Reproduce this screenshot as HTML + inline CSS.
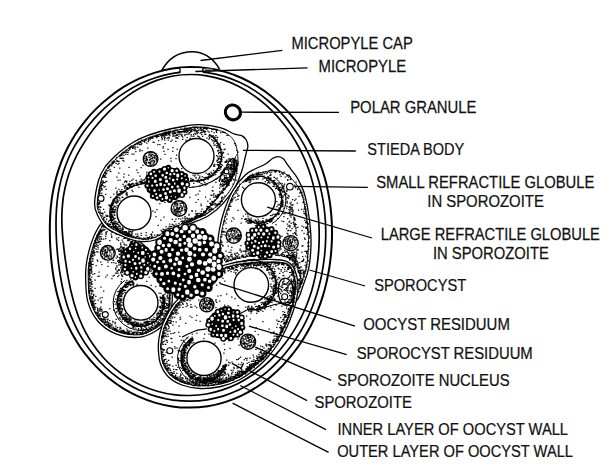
<!DOCTYPE html><html><head><meta charset="utf-8"><style>html,body{margin:0;padding:0;background:#fff;overflow:hidden}svg{display:block}</style></head><body><svg width="615" height="475" viewBox="0 0 615 475">
<rect width="615" height="475" fill="#fff"/>
<g fill="none" stroke="#000">
<path d="M49.9,237.0C49.8,232.1 49.8,227.2 49.9,222.3C50.1,217.3 50.3,212.4 50.8,207.4C51.3,202.4 51.9,197.4 52.8,192.4C53.7,187.4 54.8,182.4 56.2,177.4C57.6,172.4 59.2,167.5 61.0,162.6C62.9,157.6 65.1,152.8 67.5,148.0C70.0,143.3 72.7,138.6 75.6,134.0C78.6,129.5 81.9,125.0 85.3,120.8C88.8,116.5 92.6,112.3 96.6,108.4C100.6,104.5 104.8,100.7 109.3,97.2C113.7,93.6 118.4,90.3 123.3,87.2C128.2,84.2 133.3,81.4 138.6,78.9C143.9,76.5 149.4,74.3 155.1,72.6C160.7,70.9 166.5,69.5 172.3,68.5C178.1,67.6 184.1,67.1 190.0,67.0C195.9,67.0 201.9,67.4 207.8,68.2C213.6,69.0 219.4,70.2 225.1,71.9C230.8,73.5 236.3,75.6 241.7,78.0C247.0,80.4 252.2,83.2 257.1,86.2C262.1,89.3 266.8,92.6 271.3,96.2C275.8,99.8 280.0,103.6 284.0,107.6C288.0,111.6 291.7,115.8 295.2,120.2C298.7,124.5 301.9,129.0 304.9,133.6C307.8,138.2 310.5,142.9 312.9,147.7C315.4,152.5 317.6,157.3 319.5,162.2C321.4,167.2 323.1,172.1 324.5,177.1C326.0,182.1 327.1,187.1 328.1,192.1C329.1,197.1 329.9,202.1 330.5,207.1C331.1,212.1 331.5,217.1 331.8,222.1C332.0,227.1 332.0,232.0 332.0,237.0C331.9,242.0 331.6,246.9 331.2,251.8C330.8,256.8 330.2,261.7 329.5,266.6C328.7,271.6 327.8,276.5 326.7,281.4C325.6,286.3 324.3,291.2 322.8,296.1C321.3,301.0 319.6,305.9 317.7,310.7C315.7,315.5 313.6,320.3 311.2,325.0C308.8,329.8 306.1,334.4 303.3,339.0C300.4,343.6 297.3,348.1 293.9,352.4C290.5,356.8 286.9,361.0 283.1,365.1C279.2,369.1 275.0,373.1 270.7,376.7C266.3,380.4 261.6,383.9 256.8,387.0C251.9,390.2 246.8,393.1 241.5,395.6C236.2,398.1 230.7,400.3 225.1,402.1C219.5,403.9 213.6,405.3 207.8,406.2C201.9,407.1 195.9,407.6 190.0,407.6C184.1,407.7 178.1,407.3 172.2,406.4C166.3,405.6 160.5,404.3 154.8,402.6C149.1,400.9 143.6,398.8 138.2,396.4C132.9,394.0 127.7,391.2 122.7,388.1C117.8,385.0 113.1,381.6 108.6,378.0C104.1,374.4 99.9,370.5 96.0,366.4C92.0,362.4 88.4,358.0 85.0,353.6C81.6,349.2 78.5,344.6 75.7,339.9C72.8,335.3 70.3,330.4 68.0,325.6C65.8,320.8 63.8,315.8 62.0,310.9C60.3,305.9 58.8,300.9 57.5,296.0C56.2,291.0 55.2,286.1 54.2,281.1C53.3,276.2 52.6,271.2 52.0,266.3C51.4,261.4 50.9,256.5 50.6,251.7C50.2,246.8 50.0,241.9 49.9,237.0Z" stroke-width="2.0"/>
<path d="M56.3,237.0C56.1,232.3 56.0,227.6 56.0,222.9C56.0,218.2 56.2,213.4 56.5,208.6C56.9,203.8 57.4,199.0 58.1,194.2C58.9,189.3 59.9,184.5 61.1,179.6C62.4,174.8 63.9,170.0 65.7,165.2C67.5,160.5 69.5,155.8 71.9,151.2C74.2,146.6 76.8,142.0 79.7,137.7C82.5,133.3 85.7,129.0 89.0,124.8C92.4,120.7 96.0,116.7 99.8,112.9C103.6,109.0 107.7,105.3 112.0,101.9C116.3,98.4 120.8,95.1 125.5,92.1C130.2,89.1 135.1,86.3 140.2,83.8C145.3,81.4 150.7,79.2 156.1,77.5C161.5,75.7 167.1,74.3 172.8,73.3C178.4,72.3 184.3,71.7 190.0,71.7C195.7,71.6 201.6,71.9 207.3,72.7C213.0,73.5 218.6,74.8 224.1,76.4C229.6,78.1 235.0,80.2 240.2,82.6C245.3,85.0 250.3,87.8 255.1,90.9C259.8,94.0 264.3,97.4 268.5,101.0C272.8,104.5 276.8,108.4 280.5,112.4C284.3,116.3 287.8,120.5 291.0,124.8C294.3,129.1 297.3,133.5 300.0,137.9C302.8,142.4 305.3,147.0 307.6,151.6C309.8,156.2 311.9,160.9 313.7,165.6C315.5,170.3 317.1,175.1 318.4,179.8C319.8,184.6 321.0,189.4 321.9,194.1C322.9,198.9 323.6,203.7 324.2,208.5C324.8,213.2 325.2,218.0 325.5,222.8C325.7,227.5 325.8,232.3 325.7,237.0C325.6,241.7 325.4,246.5 325.0,251.2C324.6,255.9 324.0,260.6 323.3,265.3C322.6,270.1 321.7,274.8 320.7,279.5C319.6,284.2 318.4,288.9 317.0,293.5C315.5,298.2 313.9,302.9 312.1,307.5C310.3,312.1 308.3,316.7 306.0,321.3C303.8,325.8 301.3,330.4 298.6,334.8C295.9,339.2 292.9,343.5 289.7,347.8C286.5,352.0 283.1,356.1 279.4,360.1C275.7,364.0 271.8,367.8 267.6,371.4C263.4,374.9 258.9,378.3 254.2,381.3C249.6,384.4 244.7,387.2 239.6,389.6C234.5,392.0 229.2,394.2 223.8,395.9C218.3,397.5 212.7,398.9 207.1,399.8C201.5,400.7 195.7,401.1 190.0,401.2C184.3,401.2 178.5,400.8 172.9,400.1C167.2,399.3 161.6,398.0 156.1,396.4C150.7,394.9 145.3,392.8 140.1,390.5C135.0,388.2 130.0,385.5 125.2,382.5C120.4,379.6 115.9,376.3 111.6,372.8C107.3,369.3 103.3,365.5 99.5,361.5C95.8,357.6 92.3,353.4 89.1,349.1C85.9,344.8 83.0,340.3 80.4,335.7C77.8,331.1 75.4,326.4 73.4,321.7C71.3,317.0 69.5,312.2 67.9,307.5C66.3,302.7 65.0,297.9 63.8,293.2C62.7,288.4 61.7,283.7 60.9,279.0C60.0,274.2 59.3,269.6 58.7,264.9C58.1,260.2 57.6,255.6 57.2,250.9C56.8,246.3 56.5,241.7 56.3,237.0Z" stroke-width="1.7"/>
<path d="M62.7,237.0C62.4,232.6 62.0,228.1 61.9,223.5C61.8,219.0 61.8,214.4 62.1,209.8C62.4,205.2 62.8,200.5 63.5,195.9C64.3,191.3 65.2,186.6 66.5,182.0C67.7,177.4 69.2,172.8 71.0,168.3C72.7,163.8 74.8,159.3 77.0,154.9C79.3,150.5 81.8,146.2 84.5,142.0C87.2,137.8 90.1,133.6 93.2,129.5C96.4,125.5 99.7,121.5 103.3,117.6C106.8,113.7 110.6,109.9 114.6,106.4C118.6,102.8 122.8,99.3 127.3,96.1C131.7,92.9 136.5,89.9 141.4,87.3C146.3,84.7 151.4,82.3 156.7,80.4C162.0,78.6 167.5,77.0 173.1,76.0C178.6,75.0 184.4,74.5 190.0,74.5C195.6,74.4 201.4,74.9 206.9,75.8C212.5,76.7 218.1,78.1 223.4,79.9C228.7,81.7 233.9,83.9 238.9,86.5C243.9,89.0 248.7,91.9 253.2,95.1C257.7,98.2 262.0,101.6 266.1,105.2C270.1,108.8 273.9,112.7 277.5,116.6C281.0,120.5 284.3,124.7 287.4,128.8C290.4,133.0 293.3,137.4 295.8,141.7C298.4,146.1 300.7,150.6 302.8,155.1C304.9,159.5 306.7,164.1 308.4,168.7C310.0,173.2 311.4,177.8 312.6,182.4C313.8,187.0 314.8,191.6 315.7,196.2C316.6,200.7 317.2,205.3 317.7,209.8C318.3,214.4 318.6,218.9 318.9,223.5C319.1,228.0 319.2,232.5 319.2,237.0C319.2,241.5 319.0,246.0 318.7,250.5C318.4,255.0 317.9,259.5 317.3,264.1C316.7,268.6 315.9,273.1 315.0,277.6C314.0,282.1 312.9,286.6 311.6,291.1C310.2,295.6 308.7,300.1 306.9,304.5C305.2,308.9 303.2,313.4 301.1,317.7C298.9,322.0 296.5,326.4 293.9,330.6C291.3,334.8 288.5,339.0 285.4,343.0C282.4,347.0 279.1,351.0 275.6,354.8C272.1,358.6 268.3,362.3 264.3,365.8C260.3,369.2 256.1,372.5 251.7,375.5C247.2,378.5 242.5,381.3 237.7,383.7C232.8,386.1 227.7,388.2 222.5,389.9C217.3,391.7 211.9,393.0 206.5,394.0C201.1,394.9 195.5,395.4 190.0,395.5C184.5,395.6 178.9,395.3 173.4,394.6C168.0,393.9 162.5,392.7 157.2,391.2C151.9,389.7 146.7,387.8 141.7,385.5C136.8,383.3 131.9,380.7 127.3,377.8C122.7,374.9 118.4,371.6 114.3,368.2C110.2,364.7 106.3,360.9 102.8,357.0C99.3,353.1 96.0,348.9 93.1,344.6C90.1,340.4 87.5,335.9 85.1,331.4C82.8,326.9 80.8,322.3 78.9,317.7C77.1,313.1 75.6,308.4 74.2,303.8C72.9,299.2 71.8,294.6 70.7,290.1C69.7,285.6 68.9,281.1 68.0,276.6C67.2,272.2 66.5,267.8 65.9,263.4C65.2,259.0 64.6,254.6 64.1,250.2C63.6,245.8 63.1,241.4 62.7,237.0Z" stroke-width="1.7"/>
</g>
<path d="M161.7,70.7 C170,55 183,51.7 192.4,51.7 C202,51.7 213,57 219.5,69.3" fill="none" stroke="#000" stroke-width="1.6"/>
<rect x="180.6" y="68.3" width="22" height="4.9" fill="#fff"/>
<path d="M178.3,67.6 Q182.2,70 178.6,72.6" fill="none" stroke="#000" stroke-width="1.3"/>
<path d="M204.6,67.4 Q200.7,69.9 204.4,72.3" fill="none" stroke="#000" stroke-width="1.3"/>
<path d="M204.8,68.4 Q209,68.2 213,68.9 L212.6,71.6 Q208,71.6 204.8,71.9 Z" fill="#888"/>
<ellipse cx="232.9" cy="112.4" rx="7.7" ry="7.3" transform="rotate(35 232.9 112.4)" fill="#fff" stroke="#000" stroke-width="3.1"/>
<path d="M105.0,221.0C101.8,221.3 99.8,225.2 97.5,229.0C95.2,232.8 92.8,238.7 91.0,244.0C89.2,249.3 87.7,255.8 86.8,261.0C85.9,266.2 85.5,268.9 85.6,275.5C85.7,282.1 85.6,293.2 87.6,300.8C89.6,308.4 93.1,315.5 97.7,321.0C102.3,326.5 108.7,330.9 115.4,333.6C122.1,336.3 131.3,337.8 138.0,337.4C144.7,337.0 150.7,334.2 155.8,331.0C160.9,327.8 165.7,323.4 168.4,318.4C171.1,313.4 171.9,307.2 172.2,300.8C172.5,294.4 172.0,286.5 170.0,280.0C168.0,273.5 164.2,267.7 160.0,262.0C155.8,256.3 150.0,250.5 145.0,246.0C140.0,241.5 134.7,238.2 130.0,235.0C125.3,231.8 121.2,229.3 117.0,227.0C112.8,224.7 108.2,220.7 105.0,221.0Z" fill="#fff" stroke="#000" stroke-width="1.3"/>
<path d="M104.2 223.2h1.25M106.4 223.6h1.25M103.4 224.5h1.25M104.1 224.4h1.25M107.6 224.3h1.25M102.2 225.2h1.25M103.1 225.3h1.25M104.2 225.1h1.25M106.4 225.2h1.25M108.1 225.5h1.25M109.0 225.5h1.25M110.6 225.3h1.25M101.3 226.3h1.25M102.2 226.1h1.25M103.2 226.5h1.25M105.5 226.3h1.25M109.2 226.6h1.25M110.4 226.0h1.25M111.5 226.3h1.25M101.2 227.2h1.25M103.4 227.2h1.25M104.4 227.2h1.25M106.3 227.0h1.25M108.3 227.6h1.25M109.4 227.2h1.25M110.3 227.2h1.25M111.5 227.1h1.25M112.5 227.3h1.25M113.1 227.4h1.25M109.6 228.2h1.25M110.3 228.6h1.25M112.3 228.1h1.25M113.0 228.1h1.25M114.6 228.1h1.25M100.3 229.5h1.25M102.5 229.2h1.25M104.4 229.4h1.25M111.6 229.1h1.25M112.3 229.2h1.25M113.4 229.1h1.25M114.2 229.1h1.25M115.5 229.5h1.25M116.4 229.5h1.25M99.6 230.4h1.25M100.4 230.4h1.25M101.3 230.0h1.25M102.2 230.5h1.25M103.6 230.2h1.25M110.1 230.5h1.25M114.3 230.1h1.25M115.1 230.4h1.25M117.2 230.5h1.25M99.2 231.3h1.25M100.3 231.1h1.25M101.1 231.6h1.25M106.4 231.5h1.25M114.4 231.6h1.25M115.2 231.1h1.25M117.4 231.4h1.25M118.3 231.6h1.25M119.2 231.4h1.25M98.3 232.0h1.25M99.2 232.1h1.25M100.6 232.1h1.25M105.3 232.3h1.25M111.4 232.3h1.25M115.1 232.5h1.25M116.4 232.2h1.25M119.2 232.4h1.25M121.1 232.2h1.25M98.3 233.4h1.25M99.4 233.3h1.25M105.5 233.2h1.25M119.3 233.0h1.25M120.5 233.1h1.25M121.4 233.2h1.25M122.1 233.2h1.25M123.5 233.4h1.25M97.2 234.1h1.25M98.2 234.2h1.25M99.2 234.4h1.25M101.3 234.0h1.25M105.4 234.4h1.25M110.6 234.1h1.25M115.5 234.3h1.25M118.3 234.1h1.25M122.4 234.4h1.25M123.4 234.4h1.25M124.2 234.5h1.25M125.5 234.6h1.25M96.3 235.4h1.25M97.4 235.6h1.25M98.2 235.0h1.25M119.4 235.3h1.25M121.4 235.5h1.25M122.3 235.0h1.25M124.3 235.4h1.25M125.1 235.3h1.25M126.5 235.2h1.25M96.4 236.0h1.25M97.4 236.5h1.25M99.5 236.6h1.25M100.4 236.5h1.25M105.1 236.1h1.25M111.0 236.2h1.25M123.3 236.6h1.25M124.6 236.2h1.25M126.4 236.4h1.25M127.3 236.2h1.25M96.3 237.1h1.25M98.6 237.2h1.25M111.2 237.4h1.25M118.1 237.5h1.25M124.1 237.4h1.25M127.6 237.4h1.25M128.4 237.2h1.25M129.1 237.5h1.25M95.1 238.6h1.25M96.5 238.1h1.25M97.0 238.1h1.25M98.4 238.5h1.25M100.5 238.3h1.25M105.1 238.5h1.25M116.1 238.2h1.25M123.3 238.4h1.25M124.3 238.0h1.25M125.3 238.3h1.25M127.1 238.6h1.25M129.4 238.5h1.25M130.1 238.3h1.25M95.1 239.4h1.25M96.6 239.4h1.25M99.2 239.5h1.25M101.2 239.3h1.25M103.1 239.0h1.25M116.4 239.5h1.25M127.3 239.3h1.25M128.1 239.2h1.25M129.4 239.5h1.25M131.3 239.2h1.25M132.1 239.5h1.25M94.4 240.5h1.25M95.3 240.1h1.25M97.1 240.5h1.25M109.3 240.5h1.25M118.0 240.3h1.25M121.5 240.2h1.25M127.1 240.6h1.25M128.4 240.6h1.25M133.3 240.1h1.25M94.6 241.3h1.25M95.3 241.5h1.25M98.3 241.4h1.25M99.0 241.5h1.25M100.1 241.3h1.25M130.4 241.5h1.25M131.0 241.4h1.25M132.1 241.3h1.25M134.6 241.3h1.25M94.4 242.3h1.25M96.2 242.5h1.25M97.4 242.6h1.25M98.2 242.5h1.25M122.4 242.0h1.25M130.2 242.4h1.25M131.5 242.3h1.25M134.2 242.5h1.25M135.3 242.2h1.25M93.6 243.5h1.25M95.0 243.2h1.25M120.1 243.2h1.25M130.1 243.3h1.25M133.2 243.0h1.25M135.4 243.2h1.25M136.4 243.3h1.25M137.0 243.6h1.25M138.1 243.5h1.25M93.1 244.0h1.25M94.1 244.2h1.25M96.2 244.4h1.25M99.5 244.3h1.25M120.1 244.6h1.25M123.5 244.2h1.25M124.0 244.2h1.25M131.3 244.1h1.25M132.4 244.0h1.25M133.6 244.6h1.25M134.6 244.0h1.25M135.3 244.0h1.25M137.1 244.3h1.25M138.6 244.5h1.25M139.4 244.0h1.25M93.0 245.3h1.25M94.6 245.5h1.25M97.4 245.6h1.25M124.4 245.2h1.25M126.0 245.1h1.25M134.6 245.1h1.25M139.5 245.2h1.25M140.4 245.5h1.25M93.5 246.4h1.25M94.1 246.2h1.25M95.5 246.4h1.25M96.0 246.2h1.25M120.4 246.3h1.25M129.1 246.1h1.25M92.5 247.3h1.25M93.4 247.1h1.25M97.3 247.3h1.25M120.1 247.1h1.25M121.0 247.2h1.25M122.4 247.4h1.25M123.5 247.4h1.25M92.4 248.0h1.25M94.1 248.2h1.25M119.3 248.3h1.25M122.0 248.4h1.25M123.2 248.4h1.25M125.6 248.3h1.25M126.1 248.0h1.25M127.4 248.2h1.25M92.4 249.2h1.25M95.5 249.1h1.25M97.5 249.1h1.25M116.2 249.3h1.25M117.0 249.1h1.25M118.2 249.2h1.25M121.2 249.4h1.25M123.1 249.6h1.25M125.5 249.2h1.25M92.5 250.2h1.25M93.4 250.5h1.25M118.0 250.2h1.25M119.5 250.1h1.25M120.1 250.1h1.25M121.5 250.5h1.25M92.3 251.5h1.25M93.3 251.1h1.25M96.2 251.5h1.25M118.3 251.3h1.25M119.6 251.3h1.25M121.2 251.6h1.25M122.2 251.4h1.25M91.4 252.1h1.25M93.3 252.6h1.25M94.3 252.3h1.25M97.3 252.2h1.25M120.3 252.1h1.25M121.3 252.3h1.25M122.5 252.1h1.25M148.1 252.2h1.25M91.4 253.4h1.25M92.3 253.0h1.25M93.4 253.3h1.25M120.5 253.1h1.25M122.3 253.1h1.25M123.3 253.6h1.25M91.1 254.5h1.25M93.5 254.2h1.25M118.5 254.2h1.25M119.1 254.5h1.25M120.3 254.2h1.25M121.1 254.0h1.25M123.5 254.6h1.25M124.4 254.3h1.25M149.3 254.5h1.25M90.3 255.5h1.25M91.4 255.0h1.25M92.2 255.5h1.25M94.2 255.1h1.25M121.4 255.4h1.25M150.2 255.4h1.25M90.1 256.3h1.25M91.0 256.5h1.25M92.6 256.2h1.25M116.5 256.2h1.25M120.2 256.0h1.25M121.6 256.5h1.25M150.4 256.5h1.25M151.3 256.1h1.25M152.5 256.6h1.25M90.5 257.0h1.25M91.2 257.2h1.25M117.1 257.2h1.25M119.1 257.6h1.25M122.3 257.5h1.25M123.1 257.3h1.25M150.0 257.5h1.25M151.1 257.4h1.25M152.1 257.0h1.25M89.2 258.5h1.25M90.1 258.4h1.25M92.2 258.6h1.25M115.6 258.2h1.25M119.2 258.1h1.25M120.3 258.2h1.25M122.1 258.4h1.25M123.4 258.3h1.25M151.6 258.2h1.25M152.5 258.0h1.25M153.3 258.1h1.25M89.5 259.3h1.25M90.4 259.2h1.25M92.3 259.1h1.25M119.6 259.5h1.25M121.1 259.1h1.25M150.0 259.5h1.25M151.5 259.1h1.25M152.3 259.1h1.25M154.4 259.6h1.25M89.3 260.3h1.25M96.6 260.1h1.25M112.4 260.2h1.25M113.0 260.3h1.25M117.5 260.3h1.25M118.4 260.3h1.25M119.3 260.4h1.25M121.0 260.4h1.25M122.5 260.5h1.25M150.1 260.2h1.25M152.4 260.5h1.25M155.1 260.3h1.25M89.6 261.1h1.25M91.2 261.2h1.25M92.2 261.2h1.25M97.1 261.1h1.25M117.1 261.3h1.25M118.4 261.0h1.25M119.3 261.5h1.25M120.5 261.5h1.25M122.6 261.5h1.25M123.0 261.1h1.25M151.0 261.6h1.25M155.3 261.5h1.25M89.2 262.2h1.25M90.4 262.2h1.25M100.2 262.2h1.25M107.3 262.1h1.25M111.2 262.5h1.25M113.3 262.6h1.25M118.0 262.6h1.25M119.4 262.4h1.25M120.1 262.5h1.25M121.2 262.5h1.25M122.3 262.2h1.25M155.6 262.2h1.25M156.5 262.6h1.25M88.2 263.1h1.25M89.2 263.3h1.25M90.5 263.3h1.25M115.3 263.4h1.25M120.6 263.3h1.25M121.1 263.1h1.25M122.1 263.6h1.25M123.5 263.1h1.25M152.2 263.3h1.25M155.2 263.3h1.25M156.1 263.3h1.25M157.5 263.6h1.25M88.5 264.2h1.25M90.1 264.6h1.25M91.3 264.6h1.25M92.5 264.3h1.25M101.2 264.5h1.25M119.3 264.1h1.25M120.1 264.3h1.25M157.5 264.2h1.25M158.3 264.5h1.25M89.2 265.3h1.25M90.2 265.1h1.25M95.5 265.5h1.25M116.2 265.5h1.25M118.2 265.2h1.25M120.6 265.6h1.25M150.5 265.0h1.25M151.2 265.0h1.25M158.4 265.3h1.25M88.6 266.1h1.25M89.4 266.4h1.25M90.4 266.5h1.25M107.5 266.4h1.25M121.5 266.5h1.25M122.4 266.1h1.25M123.1 266.5h1.25M150.5 266.4h1.25M156.0 266.5h1.25M157.3 266.0h1.25M158.4 266.5h1.25M159.2 266.5h1.25M88.1 267.5h1.25M91.1 267.1h1.25M116.3 267.2h1.25M120.2 267.6h1.25M123.4 267.4h1.25M124.6 267.6h1.25M152.1 267.6h1.25M157.0 267.3h1.25M158.6 267.4h1.25M160.1 267.5h1.25M88.4 268.1h1.25M90.4 268.3h1.25M115.0 268.0h1.25M120.4 268.1h1.25M122.2 268.4h1.25M123.3 268.2h1.25M124.5 268.5h1.25M158.1 268.3h1.25M160.3 268.0h1.25M88.6 269.4h1.25M89.6 269.4h1.25M90.2 269.5h1.25M91.1 269.1h1.25M115.3 269.5h1.25M118.1 269.6h1.25M121.1 269.5h1.25M124.2 269.6h1.25M125.5 269.1h1.25M156.3 269.5h1.25M159.4 269.1h1.25M160.1 269.4h1.25M161.2 269.2h1.25M88.2 270.4h1.25M89.5 270.5h1.25M90.3 270.4h1.25M117.4 270.5h1.25M118.2 270.2h1.25M119.0 270.1h1.25M121.2 270.3h1.25M123.3 270.5h1.25M124.2 270.5h1.25M151.1 270.2h1.25M161.4 270.2h1.25M162.3 270.3h1.25M88.1 271.4h1.25M91.0 271.2h1.25M116.5 271.4h1.25M121.2 271.4h1.25M147.5 271.0h1.25M150.2 271.5h1.25M158.1 271.1h1.25M161.5 271.3h1.25M162.3 271.6h1.25M88.0 272.3h1.25M89.2 272.2h1.25M91.2 272.2h1.25M98.4 272.1h1.25M120.1 272.2h1.25M121.6 272.1h1.25M122.0 272.3h1.25M147.6 272.5h1.25M158.0 272.3h1.25M160.0 272.2h1.25M161.1 272.6h1.25M162.3 272.1h1.25M163.2 272.4h1.25M88.5 273.3h1.25M89.0 273.5h1.25M90.5 273.4h1.25M94.1 273.5h1.25M115.1 273.1h1.25M116.4 273.0h1.25M117.4 273.0h1.25M120.2 273.0h1.25M124.1 273.4h1.25M151.2 273.6h1.25M156.6 273.0h1.25M160.1 273.2h1.25M162.1 273.0h1.25M163.1 273.5h1.25M88.0 274.4h1.25M89.1 274.0h1.25M92.3 274.4h1.25M121.1 274.6h1.25M123.5 274.1h1.25M124.6 274.1h1.25M126.1 274.2h1.25M155.5 274.4h1.25M159.5 274.4h1.25M160.1 274.5h1.25M161.2 274.4h1.25M165.1 274.6h1.25M88.1 275.2h1.25M89.4 275.5h1.25M106.6 275.2h1.25M113.6 275.4h1.25M118.2 275.4h1.25M121.2 275.3h1.25M126.4 275.2h1.25M131.1 275.3h1.25M161.1 275.2h1.25M162.1 275.2h1.25M164.0 275.2h1.25M165.2 275.2h1.25M88.6 276.5h1.25M97.5 276.3h1.25M98.5 276.1h1.25M112.5 276.1h1.25M117.2 276.5h1.25M121.5 276.2h1.25M122.0 276.3h1.25M162.1 276.3h1.25M165.0 276.2h1.25M91.1 277.2h1.25M105.2 277.2h1.25M142.1 277.3h1.25M148.5 277.2h1.25M163.4 277.3h1.25M165.5 277.2h1.25M166.1 277.3h1.25M88.3 278.2h1.25M89.3 278.1h1.25M111.3 278.5h1.25M134.3 278.2h1.25M164.2 278.1h1.25M165.5 278.3h1.25M166.0 278.0h1.25M88.2 279.4h1.25M89.5 279.5h1.25M90.1 279.3h1.25M121.1 279.2h1.25M130.1 279.2h1.25M159.0 279.0h1.25M160.4 279.2h1.25M163.3 279.3h1.25M164.0 279.4h1.25M165.4 279.3h1.25M166.2 279.3h1.25M167.3 279.0h1.25M89.5 280.3h1.25M90.4 280.2h1.25M94.5 280.1h1.25M126.2 280.3h1.25M166.1 280.2h1.25M167.0 280.1h1.25M88.0 281.3h1.25M91.4 281.5h1.25M120.5 281.5h1.25M128.4 281.3h1.25M129.2 281.2h1.25M131.4 281.3h1.25M132.3 281.4h1.25M146.1 281.4h1.25M166.3 281.0h1.25M167.1 281.2h1.25M88.4 282.4h1.25M89.4 282.3h1.25M90.4 282.3h1.25M125.0 282.4h1.25M126.4 282.1h1.25M128.6 282.5h1.25M129.4 282.0h1.25M130.0 282.2h1.25M131.2 282.1h1.25M132.4 282.3h1.25M165.5 282.5h1.25M167.3 282.2h1.25M88.6 283.3h1.25M90.5 283.6h1.25M120.6 283.4h1.25M126.2 283.6h1.25M127.3 283.1h1.25M128.2 283.3h1.25M132.3 283.4h1.25M133.2 283.2h1.25M164.1 283.5h1.25M166.3 283.5h1.25M167.2 283.3h1.25M168.3 283.4h1.25M88.2 284.6h1.25M90.3 284.4h1.25M91.5 284.0h1.25M124.3 284.4h1.25M126.5 284.3h1.25M127.1 284.2h1.25M128.5 284.1h1.25M129.2 284.1h1.25M130.2 284.3h1.25M131.5 284.5h1.25M133.1 284.3h1.25M136.5 284.3h1.25M164.1 284.4h1.25M167.2 284.5h1.25M168.2 284.0h1.25M88.2 285.3h1.25M124.5 285.4h1.25M125.3 285.3h1.25M128.2 285.1h1.25M130.0 285.5h1.25M132.5 285.4h1.25M150.5 285.4h1.25M159.1 285.1h1.25M166.5 285.3h1.25M168.3 285.2h1.25M89.1 286.2h1.25M90.1 286.1h1.25M123.4 286.3h1.25M124.5 286.4h1.25M125.0 286.3h1.25M126.4 286.2h1.25M127.1 286.3h1.25M155.2 286.5h1.25M159.5 286.3h1.25M168.3 286.6h1.25M88.0 287.1h1.25M91.5 287.1h1.25M100.4 287.0h1.25M122.5 287.0h1.25M124.3 287.1h1.25M125.2 287.4h1.25M126.5 287.1h1.25M167.3 287.0h1.25M88.4 288.1h1.25M89.1 288.1h1.25M90.3 288.5h1.25M94.5 288.3h1.25M120.1 288.4h1.25M121.5 288.3h1.25M122.0 288.5h1.25M167.6 288.6h1.25M168.3 288.5h1.25M169.1 288.2h1.25M88.1 289.1h1.25M121.3 289.5h1.25M122.4 289.3h1.25M123.4 289.6h1.25M164.5 289.5h1.25M168.4 289.3h1.25M169.2 289.4h1.25M88.6 290.4h1.25M89.2 290.4h1.25M90.3 290.2h1.25M91.3 290.1h1.25M119.2 290.2h1.25M120.2 290.5h1.25M121.2 290.3h1.25M122.2 290.2h1.25M123.1 290.1h1.25M124.2 290.5h1.25M125.0 290.3h1.25M164.0 290.2h1.25M165.5 290.2h1.25M168.5 290.1h1.25M88.3 291.2h1.25M89.3 291.1h1.25M91.3 291.3h1.25M92.4 291.2h1.25M103.1 291.2h1.25M117.3 291.6h1.25M118.2 291.5h1.25M119.2 291.3h1.25M120.1 291.2h1.25M121.2 291.3h1.25M122.3 291.4h1.25M169.3 291.2h1.25M88.3 292.5h1.25M89.1 292.1h1.25M120.3 292.5h1.25M121.2 292.5h1.25M124.3 292.4h1.25M165.1 292.4h1.25M166.3 292.5h1.25M169.1 292.0h1.25M89.1 293.5h1.25M91.3 293.2h1.25M119.3 293.1h1.25M120.2 293.1h1.25M121.1 293.1h1.25M122.6 293.4h1.25M158.5 293.2h1.25M160.3 293.3h1.25M167.1 293.3h1.25M168.5 293.3h1.25M169.4 293.1h1.25M91.0 294.2h1.25M93.1 294.3h1.25M118.4 294.1h1.25M119.4 294.4h1.25M121.6 294.3h1.25M164.3 294.1h1.25M169.3 294.1h1.25M89.1 295.3h1.25M93.1 295.5h1.25M116.5 295.3h1.25M118.2 295.1h1.25M120.4 295.4h1.25M121.1 295.0h1.25M162.6 295.1h1.25M163.1 295.0h1.25M167.2 295.2h1.25M169.5 295.4h1.25M89.6 296.2h1.25M90.5 296.3h1.25M92.0 296.5h1.25M95.2 296.4h1.25M118.4 296.3h1.25M119.4 296.0h1.25M120.0 296.4h1.25M121.1 296.6h1.25M162.2 296.0h1.25M166.3 296.2h1.25M169.1 296.6h1.25M89.4 297.6h1.25M90.2 297.3h1.25M92.3 297.2h1.25M101.6 297.5h1.25M117.1 297.3h1.25M118.1 297.4h1.25M159.4 297.0h1.25M160.2 297.1h1.25M161.2 297.5h1.25M162.4 297.5h1.25M163.5 297.0h1.25M167.1 297.1h1.25M168.6 297.4h1.25M169.2 297.0h1.25M89.0 298.4h1.25M90.5 298.0h1.25M91.5 298.1h1.25M92.4 298.4h1.25M99.5 298.0h1.25M119.3 298.3h1.25M160.1 298.3h1.25M161.2 298.3h1.25M162.2 298.5h1.25M163.5 298.1h1.25M165.2 298.1h1.25M167.2 298.1h1.25M168.4 298.4h1.25M169.5 298.5h1.25M90.4 299.3h1.25M92.1 299.2h1.25M115.1 299.1h1.25M117.0 299.3h1.25M118.1 299.1h1.25M120.0 299.1h1.25M121.3 299.1h1.25M162.0 299.6h1.25M163.5 299.4h1.25M164.4 299.5h1.25M169.0 299.4h1.25M90.0 300.0h1.25M91.3 300.5h1.25M94.3 300.1h1.25M97.5 300.2h1.25M117.2 300.1h1.25M118.3 300.1h1.25M119.1 300.6h1.25M120.1 300.3h1.25M121.0 300.5h1.25M159.4 300.2h1.25M162.6 300.4h1.25M163.4 300.5h1.25M164.2 300.5h1.25M166.4 300.1h1.25M168.2 300.2h1.25M169.2 300.1h1.25M90.4 301.5h1.25M92.2 301.4h1.25M93.4 301.3h1.25M100.5 301.2h1.25M114.0 301.5h1.25M116.4 301.5h1.25M117.2 301.1h1.25M119.3 301.0h1.25M120.3 301.1h1.25M160.3 301.0h1.25M162.4 301.3h1.25M163.3 301.2h1.25M164.2 301.0h1.25M168.6 301.4h1.25M169.3 301.5h1.25M91.3 302.2h1.25M92.5 302.4h1.25M100.5 302.6h1.25M116.3 302.5h1.25M117.1 302.5h1.25M119.5 302.5h1.25M121.4 302.5h1.25M160.6 302.6h1.25M161.5 302.3h1.25M162.3 302.4h1.25M163.0 302.1h1.25M164.4 302.4h1.25M168.2 302.2h1.25M91.2 303.4h1.25M92.2 303.4h1.25M93.4 303.5h1.25M95.0 303.5h1.25M117.2 303.0h1.25M118.3 303.6h1.25M119.3 303.4h1.25M161.6 303.3h1.25M162.3 303.2h1.25M163.2 303.6h1.25M164.1 303.3h1.25M165.5 303.4h1.25M166.6 303.6h1.25M168.5 303.5h1.25M169.5 303.1h1.25M91.2 304.3h1.25M92.5 304.3h1.25M93.2 304.5h1.25M113.1 304.3h1.25M115.1 304.1h1.25M117.1 304.5h1.25M118.2 304.1h1.25M119.5 304.4h1.25M161.4 304.5h1.25M163.3 304.5h1.25M166.1 304.5h1.25M168.1 304.4h1.25M169.4 304.4h1.25M91.5 305.4h1.25M92.1 305.3h1.25M93.5 305.6h1.25M117.1 305.5h1.25M118.4 305.1h1.25M120.4 305.2h1.25M121.5 305.2h1.25M161.2 305.3h1.25M162.4 305.6h1.25M163.4 305.5h1.25M166.4 305.4h1.25M167.5 305.3h1.25M169.1 305.6h1.25M92.3 306.6h1.25M117.3 306.3h1.25M118.4 306.0h1.25M119.4 306.3h1.25M120.2 306.0h1.25M159.4 306.4h1.25M160.1 306.3h1.25M162.0 306.4h1.25M163.6 306.5h1.25M164.5 306.3h1.25M165.1 306.6h1.25M167.6 306.5h1.25M168.2 306.1h1.25M169.4 306.2h1.25M92.6 307.0h1.25M93.5 307.2h1.25M94.1 307.3h1.25M95.2 307.1h1.25M100.3 307.1h1.25M118.4 307.4h1.25M119.4 307.5h1.25M158.5 307.1h1.25M159.6 307.5h1.25M160.4 307.4h1.25M161.1 307.3h1.25M162.1 307.6h1.25M163.4 307.4h1.25M166.0 307.5h1.25M167.5 307.2h1.25M168.0 307.3h1.25M93.4 308.4h1.25M97.0 308.1h1.25M99.3 308.3h1.25M109.2 308.5h1.25M115.3 308.5h1.25M116.3 308.4h1.25M118.1 308.4h1.25M119.3 308.1h1.25M120.6 308.3h1.25M121.5 308.5h1.25M160.2 308.1h1.25M162.3 308.2h1.25M164.1 308.0h1.25M165.0 308.4h1.25M166.2 308.1h1.25M167.1 308.0h1.25M168.1 308.2h1.25M93.1 309.2h1.25M94.6 309.1h1.25M97.3 309.3h1.25M99.2 309.1h1.25M100.4 309.4h1.25M101.3 309.4h1.25M118.3 309.1h1.25M119.5 309.4h1.25M121.5 309.5h1.25M122.1 309.2h1.25M161.3 309.4h1.25M162.1 309.1h1.25M163.6 309.0h1.25M93.6 310.2h1.25M97.0 310.4h1.25M99.4 310.5h1.25M113.0 310.0h1.25M117.5 310.1h1.25M118.4 310.2h1.25M121.6 310.0h1.25M159.1 310.3h1.25M160.1 310.5h1.25M161.3 310.1h1.25M164.6 310.4h1.25M167.5 310.4h1.25M168.1 310.4h1.25M94.2 311.4h1.25M98.3 311.1h1.25M100.6 311.1h1.25M101.4 311.0h1.25M116.3 311.5h1.25M119.6 311.1h1.25M120.5 311.6h1.25M121.3 311.1h1.25M159.5 311.3h1.25M160.3 311.6h1.25M164.6 311.3h1.25M166.0 311.0h1.25M167.1 311.6h1.25M168.4 311.1h1.25M94.5 312.2h1.25M95.1 312.4h1.25M96.6 312.0h1.25M97.4 312.4h1.25M116.1 312.2h1.25M119.4 312.5h1.25M120.5 312.4h1.25M121.1 312.6h1.25M157.6 312.0h1.25M160.0 312.1h1.25M161.0 312.4h1.25M166.3 312.1h1.25M167.1 312.1h1.25M168.4 312.4h1.25M95.0 313.1h1.25M96.0 313.3h1.25M97.5 313.1h1.25M99.5 313.5h1.25M101.5 313.1h1.25M115.0 313.2h1.25M119.1 313.0h1.25M120.4 313.6h1.25M121.1 313.4h1.25M124.6 313.5h1.25M157.2 313.3h1.25M158.3 313.3h1.25M159.6 313.4h1.25M160.1 313.5h1.25M161.3 313.4h1.25M162.1 313.6h1.25M163.3 313.2h1.25M165.4 313.4h1.25M167.0 313.5h1.25M97.1 314.3h1.25M99.2 314.6h1.25M118.3 314.2h1.25M120.2 314.0h1.25M122.2 314.5h1.25M156.0 314.2h1.25M157.3 314.1h1.25M159.2 314.3h1.25M160.5 314.5h1.25M162.1 314.1h1.25M164.2 314.0h1.25M165.6 314.3h1.25M166.3 314.1h1.25M167.1 314.1h1.25M96.5 315.3h1.25M97.6 315.3h1.25M98.1 315.2h1.25M99.1 315.6h1.25M121.2 315.5h1.25M122.5 315.6h1.25M123.3 315.1h1.25M124.2 315.6h1.25M125.1 315.1h1.25M156.5 315.5h1.25M158.5 315.5h1.25M159.0 315.4h1.25M160.5 315.6h1.25M162.3 315.4h1.25M165.5 315.5h1.25M166.2 315.1h1.25M97.4 316.5h1.25M99.6 316.5h1.25M125.6 316.5h1.25M126.4 316.1h1.25M157.6 316.5h1.25M158.6 316.5h1.25M159.0 316.5h1.25M163.4 316.2h1.25M165.4 316.2h1.25M166.2 316.3h1.25M98.1 317.2h1.25M119.3 317.3h1.25M122.3 317.6h1.25M123.5 317.2h1.25M124.0 317.5h1.25M125.5 317.5h1.25M128.6 317.2h1.25M153.5 317.3h1.25M156.5 317.2h1.25M157.3 317.6h1.25M158.6 317.1h1.25M159.1 317.1h1.25M165.3 317.0h1.25M98.2 318.1h1.25M99.2 318.5h1.25M100.6 318.3h1.25M103.4 318.3h1.25M118.4 318.5h1.25M123.2 318.2h1.25M124.4 318.2h1.25M126.0 318.4h1.25M127.3 318.0h1.25M129.2 318.4h1.25M155.5 318.2h1.25M156.4 318.4h1.25M160.1 318.0h1.25M161.5 318.6h1.25M163.4 318.6h1.25M164.0 318.2h1.25M165.5 318.3h1.25M99.4 319.4h1.25M101.2 319.2h1.25M102.2 319.2h1.25M103.4 319.6h1.25M104.5 319.3h1.25M106.5 319.3h1.25M107.5 319.1h1.25M115.6 319.3h1.25M120.1 319.2h1.25M122.0 319.2h1.25M124.6 319.3h1.25M125.2 319.2h1.25M126.1 319.0h1.25M127.3 319.6h1.25M128.1 319.2h1.25M129.4 319.3h1.25M130.5 319.0h1.25M149.2 319.2h1.25M151.1 319.4h1.25M152.4 319.2h1.25M153.5 319.6h1.25M154.1 319.5h1.25M156.2 319.3h1.25M157.0 319.1h1.25M159.2 319.5h1.25M162.3 319.4h1.25M163.1 319.3h1.25M164.2 319.4h1.25M100.0 320.2h1.25M101.0 320.4h1.25M102.4 320.0h1.25M104.6 320.3h1.25M109.1 320.5h1.25M125.3 320.2h1.25M126.0 320.0h1.25M127.2 320.0h1.25M129.0 320.5h1.25M130.5 320.2h1.25M155.4 320.4h1.25M158.4 320.0h1.25M160.3 320.0h1.25M162.5 320.4h1.25M163.1 320.1h1.25M101.2 321.1h1.25M102.4 321.6h1.25M103.2 321.6h1.25M105.2 321.3h1.25M107.0 321.0h1.25M112.1 321.3h1.25M121.3 321.1h1.25M124.3 321.3h1.25M126.1 321.5h1.25M127.4 321.5h1.25M128.1 321.0h1.25M129.3 321.4h1.25M134.3 321.1h1.25M145.4 321.4h1.25M146.0 321.4h1.25M147.0 321.1h1.25M148.2 321.6h1.25M149.2 321.4h1.25M150.5 321.2h1.25M151.4 321.2h1.25M152.6 321.2h1.25M153.3 321.3h1.25M154.3 321.5h1.25M155.2 321.5h1.25M157.6 321.5h1.25M162.3 321.1h1.25M163.0 321.5h1.25M103.6 322.0h1.25M104.3 322.3h1.25M105.2 322.1h1.25M106.5 322.4h1.25M108.1 322.5h1.25M112.4 322.1h1.25M114.5 322.4h1.25M126.6 322.5h1.25M129.3 322.1h1.25M130.4 322.0h1.25M131.4 322.5h1.25M132.3 322.1h1.25M133.2 322.5h1.25M134.4 322.1h1.25M136.2 322.3h1.25M143.5 322.1h1.25M144.2 322.3h1.25M145.4 322.3h1.25M146.3 322.3h1.25M147.4 322.0h1.25M151.0 322.6h1.25M152.4 322.3h1.25M153.4 322.2h1.25M155.6 322.2h1.25M156.0 322.1h1.25M158.5 322.5h1.25M161.5 322.0h1.25M162.0 322.5h1.25M104.1 323.1h1.25M107.6 323.5h1.25M109.5 323.6h1.25M114.5 323.5h1.25M130.3 323.2h1.25M131.4 323.4h1.25M132.2 323.3h1.25M135.4 323.3h1.25M136.0 323.5h1.25M137.4 323.1h1.25M138.1 323.1h1.25M140.2 323.2h1.25M142.5 323.5h1.25M144.3 323.6h1.25M146.3 323.3h1.25M147.1 323.4h1.25M148.1 323.4h1.25M149.5 323.4h1.25M151.3 323.6h1.25M154.0 323.5h1.25M157.2 323.1h1.25M159.4 323.5h1.25M160.6 323.4h1.25M161.4 323.6h1.25M104.5 324.4h1.25M105.4 324.5h1.25M106.3 324.0h1.25M107.3 324.1h1.25M108.0 324.4h1.25M111.3 324.3h1.25M127.5 324.3h1.25M131.2 324.3h1.25M132.1 324.1h1.25M133.5 324.0h1.25M134.0 324.3h1.25M135.2 324.4h1.25M136.3 324.4h1.25M137.6 324.3h1.25M139.5 324.5h1.25M140.4 324.2h1.25M141.3 324.6h1.25M142.4 324.6h1.25M145.3 324.1h1.25M146.6 324.4h1.25M147.5 324.3h1.25M148.1 324.4h1.25M149.1 324.1h1.25M151.4 324.3h1.25M156.5 324.4h1.25M157.3 324.2h1.25M158.0 324.1h1.25M159.3 324.6h1.25M160.3 324.0h1.25M105.5 325.4h1.25M107.4 325.4h1.25M108.5 325.5h1.25M109.5 325.1h1.25M111.2 325.1h1.25M131.5 325.2h1.25M132.3 325.2h1.25M133.4 325.0h1.25M134.1 325.2h1.25M135.0 325.3h1.25M136.5 325.1h1.25M137.3 325.6h1.25M138.2 325.3h1.25M139.1 325.2h1.25M140.1 325.3h1.25M141.5 325.2h1.25M142.2 325.1h1.25M143.5 325.6h1.25M144.1 325.4h1.25M145.5 325.3h1.25M146.4 325.4h1.25M152.2 325.3h1.25M154.5 325.3h1.25M155.5 325.3h1.25M157.1 325.4h1.25M158.2 325.5h1.25M159.2 325.5h1.25M107.4 326.3h1.25M108.2 326.3h1.25M109.1 326.3h1.25M110.1 326.2h1.25M115.2 326.0h1.25M132.3 326.1h1.25M133.6 326.5h1.25M135.3 326.2h1.25M136.4 326.3h1.25M137.3 326.3h1.25M138.1 326.1h1.25M143.6 326.2h1.25M145.4 326.1h1.25M151.2 326.4h1.25M155.1 326.2h1.25M156.1 326.4h1.25M157.1 326.3h1.25M108.5 327.4h1.25M109.2 327.6h1.25M111.2 327.1h1.25M112.6 327.1h1.25M117.0 327.6h1.25M119.5 327.3h1.25M132.3 327.4h1.25M140.2 327.1h1.25M141.0 327.2h1.25M144.5 327.4h1.25M148.3 327.1h1.25M150.6 327.0h1.25M151.4 327.5h1.25M154.5 327.4h1.25M155.1 327.2h1.25M156.6 327.1h1.25M110.0 328.3h1.25M112.3 328.5h1.25M113.4 328.0h1.25M114.2 328.5h1.25M115.4 328.1h1.25M120.2 328.4h1.25M130.6 328.3h1.25M133.1 328.1h1.25M135.2 328.1h1.25M138.0 328.4h1.25M141.1 328.4h1.25M145.6 328.5h1.25M146.1 328.0h1.25M149.3 328.1h1.25M152.5 328.4h1.25M153.1 328.1h1.25M154.2 328.3h1.25M155.2 328.1h1.25M113.6 329.5h1.25M114.4 329.6h1.25M115.2 329.1h1.25M116.2 329.5h1.25M119.1 329.0h1.25M126.2 329.1h1.25M140.5 329.2h1.25M142.6 329.0h1.25M144.4 329.6h1.25M147.1 329.5h1.25M149.2 329.0h1.25M150.3 329.6h1.25M151.1 329.3h1.25M153.0 329.2h1.25M114.0 330.0h1.25M115.2 330.4h1.25M116.1 330.5h1.25M117.2 330.3h1.25M120.5 330.4h1.25M121.3 330.3h1.25M123.1 330.4h1.25M127.0 330.5h1.25M137.5 330.0h1.25M138.2 330.3h1.25M140.1 330.3h1.25M141.1 330.3h1.25M142.6 330.3h1.25M144.2 330.3h1.25M146.4 330.2h1.25M147.1 330.4h1.25M148.0 330.1h1.25M150.3 330.1h1.25M151.2 330.3h1.25M116.1 331.4h1.25M117.3 331.1h1.25M118.3 331.2h1.25M119.0 331.4h1.25M120.4 331.3h1.25M121.1 331.1h1.25M122.2 331.0h1.25M123.5 331.1h1.25M127.6 331.2h1.25M129.1 331.1h1.25M130.6 331.0h1.25M142.3 331.5h1.25M145.1 331.4h1.25M147.5 331.1h1.25M148.4 331.4h1.25M149.2 331.1h1.25M119.3 332.1h1.25M120.6 332.5h1.25M121.5 332.6h1.25M122.0 332.2h1.25M123.4 332.2h1.25M124.4 332.3h1.25M125.1 332.1h1.25M126.1 332.1h1.25M127.5 332.5h1.25M128.5 332.4h1.25M132.2 332.4h1.25M133.3 332.0h1.25M134.3 332.0h1.25M135.2 332.1h1.25M136.6 332.2h1.25M137.1 332.2h1.25M138.0 332.3h1.25M139.5 332.6h1.25M140.1 332.3h1.25M142.0 332.5h1.25M144.4 332.3h1.25M145.4 332.3h1.25M146.4 332.1h1.25M147.1 332.4h1.25M123.1 333.2h1.25M124.2 333.5h1.25M125.1 333.1h1.25M126.5 333.1h1.25M127.2 333.2h1.25M128.3 333.1h1.25M129.1 333.3h1.25M131.4 333.2h1.25M132.5 333.6h1.25M133.3 333.0h1.25M135.6 333.2h1.25M136.2 333.0h1.25M139.3 333.1h1.25M140.4 333.4h1.25M141.3 333.0h1.25M142.1 333.1h1.25M143.6 333.3h1.25M144.1 333.2h1.25M145.6 333.4h1.25M127.3 334.1h1.25M128.3 334.3h1.25M129.2 334.1h1.25M130.1 334.0h1.25M131.1 334.4h1.25M132.4 334.4h1.25M133.4 334.3h1.25M135.6 334.1h1.25M136.5 334.4h1.25M137.4 334.0h1.25M139.1 334.6h1.25M140.2 334.0h1.25M141.2 334.5h1.25M142.4 334.0h1.25" stroke="#000" stroke-width="1.25" fill="none"/>
<path d="M105.2,223.6L104.9,223.7L104.6,223.8L104.3,224.0L103.9,224.3L103.4,224.8L102.9,225.3L102.4,226.0L101.9,226.7L101.4,227.6L100.9,228.4L100.3,229.4L99.7,230.3L99.2,231.3L98.6,232.3L98.1,233.4L97.5,234.5L97.0,235.7L96.4,237.0L95.9,238.2L95.4,239.5L94.9,240.9L94.4,242.2L93.9,243.5L93.5,244.8L93.0,246.1L92.6,247.5L92.2,248.9L91.8,250.3L91.5,251.7L91.1,253.1L90.8,254.6L90.4,256.0L90.1,257.4L89.9,258.8L89.6,260.1L89.4,261.4L89.1,262.7L89.0,263.9L88.8,264.9L88.6,266.0L88.5,267.0L88.4,268.0L88.3,269.0L88.2,270.1L88.2,271.2L88.2,272.5L88.2,273.9L88.2,275.5L88.2,277.2L88.3,279.1L88.3,281.1L88.3,283.3L88.4,285.4L88.5,287.7L88.6,289.9L88.8,292.1L89.0,294.3L89.3,296.3L89.7,298.3L90.1,300.1L90.6,301.9L91.2,303.7L91.8,305.5L92.5,307.2L93.2,308.9L94.0,310.5L94.8,312.1L95.7,313.7L96.6,315.2L97.6,316.6L98.6,318.0L99.7,319.3L100.8,320.6L102.0,321.8L103.2,323.0L104.5,324.1L105.9,325.2L107.3,326.2L108.7,327.2L110.2,328.1L111.7,329.0L113.2,329.8L114.8,330.5L116.4,331.2L118.0,331.8L119.7,332.4L121.5,332.9L123.3,333.4L125.2,333.8L127.1,334.1L129.0,334.4L130.9,334.6L132.7,334.8L134.5,334.9L136.2,334.9L137.8,334.8L139.4,334.7L140.8,334.4L142.3,334.1L143.8,333.8L145.2,333.3L146.6,332.8L148.0,332.2L149.3,331.6L150.6,331.0L151.9,330.3L153.2,329.5L154.4,328.8L155.6,328.0L156.8,327.2L157.9,326.4L159.0,325.5L160.1,324.5L161.2,323.5L162.1,322.5L163.1,321.5L163.9,320.4L164.7,319.4L165.5,318.3L166.1,317.2L166.7,316.0L167.2,314.8L167.6,313.6L168.0,312.3L168.4,311.0L168.7,309.6L168.9,308.2L169.1,306.8L169.3,305.3L169.4,303.8L169.5,302.2L169.6,300.7L169.7,299.1L169.7,297.5L169.7,295.8L169.6,294.1L169.5,292.4L169.4,290.7L169.2,288.9L169.0,287.2L168.7,285.5L168.3,283.9L168.0,282.3L167.5,280.8L167.0,279.3L166.4,277.8L165.8,276.3L165.1,274.9L164.4,273.4L163.5,272.0L162.7,270.6L161.8,269.2L160.9,267.7L159.9,266.3L158.9,264.9L157.9,263.5L156.9,262.2L155.8,260.8L154.6,259.4L153.4,258.1L152.2,256.7L150.9,255.4L149.6,254.0L148.4,252.7L147.1,251.5L145.8,250.2L144.5,249.1L143.3,247.9L142.1,246.9L140.8,245.9L139.6,244.9L138.4,243.9L137.1,243.0L135.9,242.1L134.6,241.3L133.4,240.4L132.2,239.6L130.9,238.8L129.7,238.0L128.5,237.2L127.4,236.4L126.3,235.6L125.2,234.9L124.1,234.2L123.0,233.6L122.0,232.9L120.9,232.3L119.9,231.6L118.8,231.0L117.8,230.4L116.8,229.8L115.7,229.3L114.6,228.6L113.5,227.9L112.4,227.2L111.3,226.5L110.3,225.8L109.3,225.2L108.4,224.7L107.5,224.2L106.7,223.9L106.1,223.7L105.6,223.6Z" fill="none" stroke="#000" stroke-width="1.0"/>
<circle cx="140.7" cy="302.8" r="17.3" fill="#fff" stroke="#000" stroke-width="1.4"/>
<path d="M162.8,294.8A23.5,23.5 0 1,1 132.7,280.7" fill="none" stroke="#000" stroke-width="1.4"/>
<path d="M166.5,312.2A27.5,27.5 0 1,1 124.9,280.3" fill="none" stroke="#000" stroke-width="1.0"/>
<circle cx="105.3" cy="314.6" r="3" fill="#fff" stroke="#000" stroke-width="1.1"/>
<circle cx="107.8" cy="252.8" r="8" fill="#000"/><circle cx="107.8" cy="252.8" r="6.60" fill="#fff"/><path d="M106.1 246.4h1.1M104.3 247.0h1.1M105.2 247.1h1.1M106.2 247.0h1.1M107.2 247.3h1.1M109.4 247.3h1.1M111.3 247.4h1.1M103.3 248.4h1.1M107.3 248.3h1.1M108.3 248.3h1.1M111.2 248.0h1.1M112.1 248.1h1.1M102.3 249.0h1.1M103.3 249.1h1.1M105.3 249.3h1.1M107.1 249.1h1.1M109.4 249.3h1.1M111.3 249.0h1.1M112.1 249.4h1.1M102.2 250.2h1.1M104.2 250.4h1.1M105.0 250.3h1.1M107.3 250.0h1.1M108.0 250.0h1.1M109.0 250.3h1.1M110.1 250.3h1.1M111.3 250.0h1.1M112.3 250.2h1.1M101.1 251.3h1.1M102.1 251.1h1.1M103.3 251.3h1.1M105.3 251.1h1.1M107.1 251.3h1.1M109.1 251.1h1.1M113.2 251.1h1.1M102.1 252.3h1.1M104.1 252.0h1.1M105.1 252.2h1.1M106.3 252.4h1.1M107.0 252.3h1.1M110.3 252.3h1.1M113.1 252.0h1.1M102.1 253.2h1.1M104.2 253.3h1.1M105.3 253.2h1.1M106.1 253.1h1.1M109.2 253.0h1.1M113.2 253.1h1.1M101.1 254.0h1.1M102.3 254.1h1.1M104.1 254.3h1.1M106.1 254.0h1.1M111.3 254.1h1.1M103.2 255.0h1.1M104.3 255.1h1.1M106.2 255.3h1.1M107.2 255.1h1.1M109.1 255.1h1.1M111.3 255.0h1.1M113.3 255.3h1.1M102.1 256.2h1.1M104.4 256.1h1.1M105.1 256.3h1.1M106.2 256.3h1.1M107.1 256.2h1.1M108.1 256.1h1.1M110.2 256.1h1.1M104.4 257.2h1.1M106.1 257.2h1.1M108.3 257.1h1.1M111.2 257.1h1.1M104.1 258.4h1.1M107.3 258.2h1.1M108.2 258.3h1.1M109.0 258.3h1.1M110.4 258.3h1.1" stroke="#000" stroke-width="1.1" fill="none"/>
<path d="M132.5,256.5a3.0,3.0 0 1,0 6.0,0a3.0,3.0 0 1,0 -6.0,0M137.8,276.2a3.0,3.0 0 1,0 6.0,0a3.0,3.0 0 1,0 -6.0,0M129.0,275.7a3.0,3.0 0 1,0 6.0,0a3.0,3.0 0 1,0 -6.0,0M139.3,247.5a3.0,3.0 0 1,0 6.0,0a3.0,3.0 0 1,0 -6.0,0M132.6,248.3a3.0,3.0 0 1,0 6.0,0a3.0,3.0 0 1,0 -6.0,0M122.4,265.1a3.0,3.0 0 1,0 6.0,0a3.0,3.0 0 1,0 -6.0,0M135.9,258.4a3.0,3.0 0 1,0 6.0,0a3.0,3.0 0 1,0 -6.0,0M144.9,262.8a3.0,3.0 0 1,0 6.0,0a3.0,3.0 0 1,0 -6.0,0M127.0,248.7a3.0,3.0 0 1,0 6.0,0a3.0,3.0 0 1,0 -6.0,0M139.8,253.0a3.0,3.0 0 1,0 6.0,0a3.0,3.0 0 1,0 -6.0,0M133.3,268.2a3.0,3.0 0 1,0 6.0,0a3.0,3.0 0 1,0 -6.0,0M142.1,256.9a3.0,3.0 0 1,0 6.0,0a3.0,3.0 0 1,0 -6.0,0M144.7,268.9a3.0,3.0 0 1,0 6.0,0a3.0,3.0 0 1,0 -6.0,0M145.0,253.6a3.0,3.0 0 1,0 6.0,0a3.0,3.0 0 1,0 -6.0,0M141.3,264.7a3.0,3.0 0 1,0 6.0,0a3.0,3.0 0 1,0 -6.0,0M136.8,263.2a3.0,3.0 0 1,0 6.0,0a3.0,3.0 0 1,0 -6.0,0M128.4,268.2a3.0,3.0 0 1,0 6.0,0a3.0,3.0 0 1,0 -6.0,0M133.9,273.8a3.0,3.0 0 1,0 6.0,0a3.0,3.0 0 1,0 -6.0,0M125.4,256.0a3.0,3.0 0 1,0 6.0,0a3.0,3.0 0 1,0 -6.0,0M142.9,272.6a3.0,3.0 0 1,0 6.0,0a3.0,3.0 0 1,0 -6.0,0M124.2,272.8a3.0,3.0 0 1,0 6.0,0a3.0,3.0 0 1,0 -6.0,0M132.1,263.4a3.0,3.0 0 1,0 6.0,0a3.0,3.0 0 1,0 -6.0,0M126.7,261.9a3.0,3.0 0 1,0 6.0,0a3.0,3.0 0 1,0 -6.0,0M120.8,257.0a3.0,3.0 0 1,0 6.0,0a3.0,3.0 0 1,0 -6.0,0M135.4,252.8a3.0,3.0 0 1,0 6.0,0a3.0,3.0 0 1,0 -6.0,0M138.3,271.4a3.0,3.0 0 1,0 6.0,0a3.0,3.0 0 1,0 -6.0,0M142.9,249.7a3.0,3.0 0 1,0 6.0,0a3.0,3.0 0 1,0 -6.0,0M122.5,261.1a3.0,3.0 0 1,0 6.0,0a3.0,3.0 0 1,0 -6.0,0M121.8,269.1a3.0,3.0 0 1,0 6.0,0a3.0,3.0 0 1,0 -6.0,0M148.2,260.4a3.0,3.0 0 1,0 6.0,0a3.0,3.0 0 1,0 -6.0,0M130.7,251.8a3.0,3.0 0 1,0 6.0,0a3.0,3.0 0 1,0 -6.0,0M122.5,251.4a3.0,3.0 0 1,0 6.0,0a3.0,3.0 0 1,0 -6.0,0M140.1,260.7a3.0,3.0 0 1,0 6.0,0a3.0,3.0 0 1,0 -6.0,0M129.0,245.5a3.0,3.0 0 1,0 6.0,0a3.0,3.0 0 1,0 -6.0,0M138.3,267.4a3.0,3.0 0 1,0 6.0,0a3.0,3.0 0 1,0 -6.0,0M133.4,244.6a3.0,3.0 0 1,0 6.0,0a3.0,3.0 0 1,0 -6.0,0M130.3,271.7a3.0,3.0 0 1,0 6.0,0a3.0,3.0 0 1,0 -6.0,0M130.0,259.8a3.0,3.0 0 1,0 6.0,0a3.0,3.0 0 1,0 -6.0,0M147.7,265.3a3.0,3.0 0 1,0 6.0,0a3.0,3.0 0 1,0 -6.0,0M132.4,277.4a3.0,3.0 0 1,0 6.0,0a3.0,3.0 0 1,0 -6.0,0M147.5,256.5a3.0,3.0 0 1,0 6.0,0a3.0,3.0 0 1,0 -6.0,0" fill="#000"/><ellipse cx="137" cy="261" rx="14.4" ry="16.8" fill="#000"/><path d="M134.1,256.5a1.4,1.4 0 1,0 2.8,0a1.4,1.4 0 1,0 -2.8,0M139.2,276.2a1.6,1.6 0 1,0 3.2,0a1.6,1.6 0 1,0 -3.2,0M130.4,275.7a1.6,1.6 0 1,0 3.2,0a1.6,1.6 0 1,0 -3.2,0M141.6,247.5a0.8,0.8 0 1,0 1.5,0a0.8,0.8 0 1,0 -1.5,0M134.8,248.3a0.8,0.8 0 1,0 1.7,0a0.8,0.8 0 1,0 -1.7,0M124.2,265.1a1.2,1.2 0 1,0 2.4,0a1.2,1.2 0 1,0 -2.4,0M138.0,258.4a1.0,1.0 0 1,0 1.9,0a1.0,1.0 0 1,0 -1.9,0M146.9,262.8a0.9,0.9 0 1,0 1.8,0a0.9,0.9 0 1,0 -1.8,0M128.8,248.7a1.2,1.2 0 1,0 2.4,0a1.2,1.2 0 1,0 -2.4,0M141.1,253.0a1.7,1.7 0 1,0 3.3,0a1.7,1.7 0 1,0 -3.3,0M135.2,268.2a1.1,1.1 0 1,0 2.1,0a1.1,1.1 0 1,0 -2.1,0M144.4,256.9a0.7,0.7 0 1,0 1.5,0a0.7,0.7 0 1,0 -1.5,0M146.3,268.9a1.5,1.5 0 1,0 2.9,0a1.5,1.5 0 1,0 -2.9,0M147.2,253.6a0.8,0.8 0 1,0 1.6,0a0.8,0.8 0 1,0 -1.6,0M143.4,264.7a0.9,0.9 0 1,0 1.9,0a0.9,0.9 0 1,0 -1.9,0M138.5,263.2a1.3,1.3 0 1,0 2.6,0a1.3,1.3 0 1,0 -2.6,0M130.6,268.2a0.8,0.8 0 1,0 1.7,0a0.8,0.8 0 1,0 -1.7,0M136.1,273.8a0.8,0.8 0 1,0 1.5,0a0.8,0.8 0 1,0 -1.5,0M126.7,256.0a1.7,1.7 0 1,0 3.4,0a1.7,1.7 0 1,0 -3.4,0M144.2,272.6a1.6,1.6 0 1,0 3.3,0a1.6,1.6 0 1,0 -3.3,0M125.5,272.8a1.7,1.7 0 1,0 3.4,0a1.7,1.7 0 1,0 -3.4,0M133.5,263.4a1.5,1.5 0 1,0 3.0,0a1.5,1.5 0 1,0 -3.0,0M128.8,261.9a0.9,0.9 0 1,0 1.7,0a0.9,0.9 0 1,0 -1.7,0M122.6,257.0a1.2,1.2 0 1,0 2.3,0a1.2,1.2 0 1,0 -2.3,0M137.3,252.8a1.0,1.0 0 1,0 2.0,0a1.0,1.0 0 1,0 -2.0,0M140.6,271.4a0.8,0.8 0 1,0 1.5,0a0.8,0.8 0 1,0 -1.5,0M144.9,249.7a1.0,1.0 0 1,0 2.1,0a1.0,1.0 0 1,0 -2.1,0M124.5,261.1a1.1,1.1 0 1,0 2.1,0a1.1,1.1 0 1,0 -2.1,0M123.6,269.1a1.2,1.2 0 1,0 2.4,0a1.2,1.2 0 1,0 -2.4,0M150.0,260.4a1.2,1.2 0 1,0 2.5,0a1.2,1.2 0 1,0 -2.5,0M132.9,251.8a0.8,0.8 0 1,0 1.6,0a0.8,0.8 0 1,0 -1.6,0M124.7,251.4a0.8,0.8 0 1,0 1.6,0a0.8,0.8 0 1,0 -1.6,0M141.4,260.7a1.7,1.7 0 1,0 3.3,0a1.7,1.7 0 1,0 -3.3,0M131.3,245.5a0.7,0.7 0 1,0 1.4,0a0.7,0.7 0 1,0 -1.4,0M140.1,267.4a1.2,1.2 0 1,0 2.4,0a1.2,1.2 0 1,0 -2.4,0M135.4,244.6a1.0,1.0 0 1,0 1.9,0a1.0,1.0 0 1,0 -1.9,0M132.5,271.7a0.8,0.8 0 1,0 1.6,0a0.8,0.8 0 1,0 -1.6,0M131.9,259.8a1.1,1.1 0 1,0 2.2,0a1.1,1.1 0 1,0 -2.2,0M149.7,265.3a1.0,1.0 0 1,0 2.1,0a1.0,1.0 0 1,0 -2.1,0M134.6,277.4a0.8,0.8 0 1,0 1.6,0a0.8,0.8 0 1,0 -1.6,0M148.9,256.5a1.6,1.6 0 1,0 3.3,0a1.6,1.6 0 1,0 -3.3,0" fill="#fff"/>
<path d="M255.0,169.0C258.4,167.2 262.5,165.8 265.5,164.0C268.5,162.2 270.8,159.4 272.9,158.2C275.0,157.0 276.4,156.5 278.2,156.6C279.9,156.7 282.0,157.6 283.4,158.7C284.8,159.8 285.4,161.7 286.6,163.4C287.8,165.2 289.1,166.8 290.8,169.2C292.6,171.6 295.4,174.8 297.1,177.6C298.9,180.4 300.1,183.3 301.3,186.0C302.5,188.7 303.4,190.0 304.5,194.0C305.6,198.0 307.0,204.0 308.0,210.0C309.0,216.0 310.0,224.2 310.5,230.0C311.0,235.8 311.2,238.8 311.0,245.0C310.8,251.2 310.3,260.1 309.0,266.9C307.7,273.7 305.0,280.3 303.0,285.8C301.0,291.3 300.2,296.0 297.2,300.0C294.2,304.0 290.9,308.0 285.0,310.0C279.1,312.0 269.8,312.8 262.0,312.0C254.2,311.2 244.7,308.7 238.0,305.0C231.3,301.3 225.5,295.8 222.0,290.0C218.5,284.2 217.8,277.0 217.0,270.0C216.2,263.0 216.9,254.8 217.3,248.0C217.7,241.2 218.3,235.3 219.5,229.0C220.7,222.7 222.2,216.5 224.5,210.0C226.8,203.5 229.5,195.8 233.0,190.0C236.5,184.2 241.6,178.5 245.3,175.0C249.0,171.5 251.6,170.8 255.0,169.0Z" fill="#fff" stroke="#000" stroke-width="1.3"/>
<path d="M269.5 170.1h1.25M271.1 170.2h1.25M272.6 170.1h1.25M274.1 170.3h1.25M275.2 170.5h1.25M276.1 170.4h1.25M265.1 171.6h1.25M268.2 171.0h1.25M274.2 171.3h1.25M275.5 171.5h1.25M278.0 171.1h1.25M279.0 171.0h1.25M258.0 172.3h1.25M260.2 172.5h1.25M262.6 172.3h1.25M265.4 172.1h1.25M267.0 172.6h1.25M269.3 172.3h1.25M271.2 172.2h1.25M274.5 172.1h1.25M279.0 172.3h1.25M283.6 172.1h1.25M255.5 173.5h1.25M256.0 173.2h1.25M257.6 173.0h1.25M262.4 173.0h1.25M264.1 173.4h1.25M266.3 173.5h1.25M281.0 173.0h1.25M282.4 173.1h1.25M252.1 174.1h1.25M256.1 174.5h1.25M257.3 174.0h1.25M258.5 174.0h1.25M259.0 174.4h1.25M260.5 174.4h1.25M261.6 174.5h1.25M270.1 174.2h1.25M279.5 174.5h1.25M282.4 174.4h1.25M250.3 175.0h1.25M251.4 175.2h1.25M252.3 175.5h1.25M253.3 175.6h1.25M257.3 175.0h1.25M269.3 175.3h1.25M270.3 175.2h1.25M286.4 175.5h1.25M287.5 175.1h1.25M288.6 175.4h1.25M248.5 176.6h1.25M249.0 176.0h1.25M250.5 176.2h1.25M252.6 176.4h1.25M254.4 176.5h1.25M255.2 176.1h1.25M256.1 176.3h1.25M257.2 176.4h1.25M259.1 176.0h1.25M260.3 176.2h1.25M262.3 176.4h1.25M263.4 176.0h1.25M267.4 176.5h1.25M280.5 176.3h1.25M286.5 176.2h1.25M289.5 176.6h1.25M247.4 177.2h1.25M251.2 177.5h1.25M252.3 177.5h1.25M253.2 177.4h1.25M254.2 177.2h1.25M255.0 177.3h1.25M258.0 177.1h1.25M264.0 177.5h1.25M267.3 177.2h1.25M268.1 177.2h1.25M273.4 177.4h1.25M284.6 177.2h1.25M288.1 177.1h1.25M246.1 178.6h1.25M247.6 178.4h1.25M250.3 178.1h1.25M256.3 178.2h1.25M263.6 178.1h1.25M265.3 178.4h1.25M268.3 178.0h1.25M269.5 178.0h1.25M270.3 178.1h1.25M276.5 178.1h1.25M290.1 178.2h1.25M245.3 179.6h1.25M246.2 179.6h1.25M248.0 179.4h1.25M249.4 179.4h1.25M250.4 179.5h1.25M252.1 179.2h1.25M253.2 179.3h1.25M255.6 179.0h1.25M257.4 179.2h1.25M262.2 179.2h1.25M266.2 179.2h1.25M268.4 179.6h1.25M269.3 179.1h1.25M270.1 179.0h1.25M287.2 179.5h1.25M289.6 179.5h1.25M290.4 179.0h1.25M245.5 180.2h1.25M246.3 180.5h1.25M247.6 180.2h1.25M248.2 180.0h1.25M249.3 180.1h1.25M266.2 180.3h1.25M267.3 180.6h1.25M269.5 180.2h1.25M272.5 180.6h1.25M274.2 180.4h1.25M287.1 180.4h1.25M244.1 181.1h1.25M245.2 181.4h1.25M246.1 181.3h1.25M250.2 181.2h1.25M264.6 181.5h1.25M268.2 181.4h1.25M273.2 181.2h1.25M242.4 182.2h1.25M243.0 182.2h1.25M248.6 182.2h1.25M249.3 182.5h1.25M268.0 182.4h1.25M270.5 182.2h1.25M272.2 182.5h1.25M273.6 182.2h1.25M274.5 182.5h1.25M295.5 182.1h1.25M267.0 183.0h1.25M269.1 183.2h1.25M272.6 183.0h1.25M274.1 183.4h1.25M276.5 183.0h1.25M278.3 183.1h1.25M281.4 183.4h1.25M239.2 184.2h1.25M273.3 184.3h1.25M274.4 184.5h1.25M275.4 184.2h1.25M278.4 184.1h1.25M284.0 184.2h1.25M277.3 185.3h1.25M282.3 185.2h1.25M294.2 185.2h1.25M238.5 186.5h1.25M272.4 186.3h1.25M273.5 186.1h1.25M274.2 186.6h1.25M276.2 186.3h1.25M277.4 186.2h1.25M282.3 186.5h1.25M283.5 186.0h1.25M297.0 186.3h1.25M237.2 187.3h1.25M242.0 187.0h1.25M276.2 187.5h1.25M278.4 187.5h1.25M279.5 187.4h1.25M281.3 187.3h1.25M295.0 187.6h1.25M298.1 187.6h1.25M237.4 188.5h1.25M243.1 188.4h1.25M275.1 188.5h1.25M276.0 188.3h1.25M278.5 188.4h1.25M281.6 188.4h1.25M282.1 188.4h1.25M283.3 188.1h1.25M297.4 188.4h1.25M277.1 189.2h1.25M278.4 189.1h1.25M279.2 189.6h1.25M280.1 189.3h1.25M281.2 189.3h1.25M297.1 189.5h1.25M299.1 189.1h1.25M236.4 190.6h1.25M237.3 190.0h1.25M278.0 190.3h1.25M279.1 190.3h1.25M280.2 190.3h1.25M281.1 190.0h1.25M286.3 190.2h1.25M300.1 190.4h1.25M235.1 191.3h1.25M279.0 191.2h1.25M281.5 191.1h1.25M282.3 191.4h1.25M283.3 191.1h1.25M286.2 191.3h1.25M235.5 192.4h1.25M279.4 192.6h1.25M282.3 192.3h1.25M284.2 192.0h1.25M299.4 192.4h1.25M300.5 192.1h1.25M301.3 192.3h1.25M235.3 193.3h1.25M280.1 193.6h1.25M285.2 193.0h1.25M299.4 193.1h1.25M301.2 193.3h1.25M233.3 194.4h1.25M237.1 194.2h1.25M278.4 194.3h1.25M279.1 194.2h1.25M280.4 194.1h1.25M284.2 194.4h1.25M285.4 194.2h1.25M286.1 194.1h1.25M232.1 195.6h1.25M238.4 195.5h1.25M279.1 195.5h1.25M280.3 195.2h1.25M281.5 195.3h1.25M283.5 195.2h1.25M287.6 195.5h1.25M301.4 195.5h1.25M302.3 195.2h1.25M232.1 196.2h1.25M237.1 196.4h1.25M282.4 196.5h1.25M285.0 196.4h1.25M288.4 196.3h1.25M298.4 196.3h1.25M234.4 197.3h1.25M279.5 197.4h1.25M281.4 197.4h1.25M282.2 197.5h1.25M286.5 197.6h1.25M302.5 197.3h1.25M231.3 198.3h1.25M233.1 198.1h1.25M287.4 198.0h1.25M288.1 198.2h1.25M231.0 199.1h1.25M232.1 199.6h1.25M237.3 199.3h1.25M285.3 199.0h1.25M292.0 199.6h1.25M295.3 199.1h1.25M303.3 199.4h1.25M230.2 200.3h1.25M231.4 200.4h1.25M235.4 200.0h1.25M281.1 200.1h1.25M282.2 200.2h1.25M294.1 200.4h1.25M231.4 201.5h1.25M276.3 201.5h1.25M280.5 201.3h1.25M282.1 201.3h1.25M286.5 201.3h1.25M303.1 201.0h1.25M230.3 202.3h1.25M280.4 202.2h1.25M281.5 202.3h1.25M282.5 202.4h1.25M286.5 202.2h1.25M290.5 202.1h1.25M302.5 202.4h1.25M303.2 202.5h1.25M280.2 203.4h1.25M281.5 203.5h1.25M286.5 203.2h1.25M289.4 203.3h1.25M296.6 203.2h1.25M229.4 204.2h1.25M278.4 204.4h1.25M281.4 204.3h1.25M282.5 204.1h1.25M290.4 204.3h1.25M292.3 204.6h1.25M304.6 204.4h1.25M228.6 205.1h1.25M277.4 205.2h1.25M279.5 205.2h1.25M280.1 205.4h1.25M282.1 205.1h1.25M285.1 205.4h1.25M291.5 205.3h1.25M228.1 206.5h1.25M229.5 206.3h1.25M230.2 206.4h1.25M276.3 206.5h1.25M281.4 206.4h1.25M282.1 206.3h1.25M286.5 206.4h1.25M289.5 206.4h1.25M304.6 206.6h1.25M280.5 207.1h1.25M288.4 207.2h1.25M289.0 207.0h1.25M290.0 207.1h1.25M291.5 207.4h1.25M304.3 207.5h1.25M228.2 208.4h1.25M278.2 208.0h1.25M279.4 208.0h1.25M283.4 208.2h1.25M286.0 208.2h1.25M289.4 208.1h1.25M291.3 208.5h1.25M304.1 208.2h1.25M228.1 209.2h1.25M275.2 209.4h1.25M277.3 209.6h1.25M279.5 209.2h1.25M288.3 209.5h1.25M290.1 209.3h1.25M291.6 209.5h1.25M301.1 209.4h1.25M303.5 209.1h1.25M305.4 209.1h1.25M226.4 210.3h1.25M228.4 210.2h1.25M237.4 210.3h1.25M277.3 210.1h1.25M278.2 210.3h1.25M289.2 210.5h1.25M292.3 210.0h1.25M298.0 210.2h1.25M305.3 210.6h1.25M282.5 211.4h1.25M290.6 211.4h1.25M292.3 211.2h1.25M303.2 211.3h1.25M305.2 211.6h1.25M288.5 212.3h1.25M289.3 212.4h1.25M292.2 212.1h1.25M305.2 212.0h1.25M226.4 213.2h1.25M277.4 213.3h1.25M278.4 213.2h1.25M282.4 213.5h1.25M284.2 213.5h1.25M289.4 213.5h1.25M291.6 213.6h1.25M303.4 213.4h1.25M304.5 213.4h1.25M305.5 213.3h1.25M226.6 214.5h1.25M245.1 214.2h1.25M247.1 214.2h1.25M272.5 214.4h1.25M274.2 214.4h1.25M275.1 214.1h1.25M276.6 214.0h1.25M277.5 214.5h1.25M278.5 214.2h1.25M292.2 214.1h1.25M304.4 214.0h1.25M305.1 214.2h1.25M270.0 215.5h1.25M271.5 215.4h1.25M275.2 215.4h1.25M289.4 215.5h1.25M291.1 215.2h1.25M305.1 215.5h1.25M306.4 215.1h1.25M225.0 216.3h1.25M242.6 216.1h1.25M247.4 216.2h1.25M274.4 216.1h1.25M275.3 216.0h1.25M283.3 216.5h1.25M306.2 216.5h1.25M224.3 217.1h1.25M232.3 217.5h1.25M290.4 217.0h1.25M293.1 217.2h1.25M306.2 217.1h1.25M241.1 218.5h1.25M245.4 218.5h1.25M247.5 218.1h1.25M250.5 218.0h1.25M262.4 218.3h1.25M270.3 218.5h1.25M271.5 218.2h1.25M272.5 218.5h1.25M277.1 218.5h1.25M287.1 218.5h1.25M293.4 218.3h1.25M294.0 218.1h1.25M226.1 219.0h1.25M233.4 219.1h1.25M244.2 219.4h1.25M245.3 219.1h1.25M248.3 219.1h1.25M249.4 219.3h1.25M257.4 219.2h1.25M266.2 219.4h1.25M268.4 219.5h1.25M269.2 219.2h1.25M270.3 219.6h1.25M272.1 219.2h1.25M293.4 219.5h1.25M294.3 219.1h1.25M224.3 220.5h1.25M248.6 220.2h1.25M249.1 220.3h1.25M250.0 220.2h1.25M251.1 220.1h1.25M254.3 220.2h1.25M255.0 220.2h1.25M262.2 220.5h1.25M265.3 220.1h1.25M266.4 220.1h1.25M268.4 220.1h1.25M269.0 220.0h1.25M270.1 220.4h1.25M271.3 220.3h1.25M294.3 220.3h1.25M304.2 220.3h1.25M224.1 221.3h1.25M231.0 221.1h1.25M245.5 221.5h1.25M249.5 221.4h1.25M250.3 221.0h1.25M251.5 221.5h1.25M252.6 221.4h1.25M253.2 221.4h1.25M255.1 221.2h1.25M256.2 221.2h1.25M258.0 221.2h1.25M259.4 221.1h1.25M261.2 221.6h1.25M262.4 221.4h1.25M263.0 221.3h1.25M266.3 221.2h1.25M267.1 221.3h1.25M268.5 221.3h1.25M269.6 221.4h1.25M271.1 221.6h1.25M281.3 221.1h1.25M283.1 221.6h1.25M289.0 221.3h1.25M305.5 221.6h1.25M306.2 221.1h1.25M223.2 222.4h1.25M247.1 222.2h1.25M249.4 222.5h1.25M250.3 222.5h1.25M251.2 222.2h1.25M252.1 222.3h1.25M256.0 222.2h1.25M257.0 222.4h1.25M258.3 222.1h1.25M261.1 222.0h1.25M262.2 222.2h1.25M264.3 222.5h1.25M265.0 222.4h1.25M269.3 222.3h1.25M288.4 222.2h1.25M292.6 222.5h1.25M293.0 222.2h1.25M305.1 222.6h1.25M306.4 222.5h1.25M225.4 223.2h1.25M240.5 223.2h1.25M247.5 223.3h1.25M248.5 223.1h1.25M250.3 223.3h1.25M254.1 223.0h1.25M256.2 223.6h1.25M257.4 223.2h1.25M260.1 223.0h1.25M263.5 223.5h1.25M266.3 223.6h1.25M267.0 223.3h1.25M290.5 223.4h1.25M294.4 223.4h1.25M306.5 223.1h1.25M307.5 223.3h1.25M223.1 224.1h1.25M256.5 224.2h1.25M258.4 224.3h1.25M263.2 224.5h1.25M264.4 224.4h1.25M275.4 224.5h1.25M286.6 224.2h1.25M293.1 224.1h1.25M294.4 224.3h1.25M295.5 224.6h1.25M307.5 224.4h1.25M255.0 225.5h1.25M288.6 225.4h1.25M294.2 225.3h1.25M287.4 226.4h1.25M289.5 226.2h1.25M293.6 226.5h1.25M294.3 226.4h1.25M301.5 226.2h1.25M307.1 226.6h1.25M268.0 227.6h1.25M271.5 227.2h1.25M289.2 227.1h1.25M295.4 227.5h1.25M297.2 227.4h1.25M303.1 227.1h1.25M305.3 227.2h1.25M306.3 227.0h1.25M222.3 228.6h1.25M225.5 228.5h1.25M271.2 228.2h1.25M286.0 228.5h1.25M291.5 228.5h1.25M295.2 228.3h1.25M305.3 228.4h1.25M306.4 228.4h1.25M307.4 229.2h1.25M250.4 230.0h1.25M287.3 230.5h1.25M288.1 230.3h1.25M290.1 230.5h1.25M295.4 230.2h1.25M301.4 230.5h1.25M307.1 230.4h1.25M221.5 231.1h1.25M222.4 231.4h1.25M223.4 231.6h1.25M295.4 231.2h1.25M308.4 231.3h1.25M222.3 232.4h1.25M224.4 232.2h1.25M246.2 232.4h1.25M294.0 232.5h1.25M307.3 232.3h1.25M308.6 232.1h1.25M286.6 233.4h1.25M292.5 233.5h1.25M294.5 233.2h1.25M295.4 233.0h1.25M303.4 233.4h1.25M222.1 234.6h1.25M287.4 234.0h1.25M295.1 234.4h1.25M306.3 234.2h1.25M307.2 234.6h1.25M224.4 235.2h1.25M296.3 235.3h1.25M221.1 236.5h1.25M281.3 236.4h1.25M308.5 236.2h1.25M220.0 237.1h1.25M308.5 237.1h1.25M304.0 238.0h1.25M308.6 238.2h1.25M246.1 239.5h1.25M304.5 239.4h1.25M220.2 240.5h1.25M220.4 241.1h1.25M220.2 242.4h1.25M221.5 242.2h1.25M226.5 242.0h1.25M307.5 242.4h1.25M308.3 242.2h1.25M220.4 243.2h1.25M279.3 243.3h1.25M307.3 243.2h1.25M221.2 244.6h1.25M222.3 245.4h1.25M240.3 245.5h1.25M246.4 245.2h1.25M302.3 245.6h1.25M222.3 246.1h1.25M227.5 246.2h1.25M278.4 246.6h1.25M281.5 246.1h1.25M301.5 246.2h1.25M307.1 246.2h1.25M308.3 246.4h1.25M231.2 247.4h1.25M248.6 247.6h1.25M219.2 248.2h1.25M220.5 248.1h1.25M248.4 248.4h1.25M279.3 248.2h1.25M220.2 249.3h1.25M239.5 249.2h1.25M280.3 249.0h1.25M297.1 249.4h1.25M308.1 249.2h1.25M219.4 250.3h1.25M220.0 250.1h1.25M230.4 250.1h1.25M239.5 250.4h1.25M245.6 250.1h1.25M279.0 250.2h1.25M284.2 250.3h1.25M296.1 250.1h1.25M297.5 250.0h1.25M220.1 251.1h1.25M225.3 251.2h1.25M241.2 251.1h1.25M243.0 251.1h1.25M244.3 251.2h1.25M245.5 251.3h1.25M247.3 251.2h1.25M251.4 251.0h1.25M275.3 251.1h1.25M277.4 251.4h1.25M286.5 251.3h1.25M304.4 251.4h1.25M305.5 251.3h1.25M306.5 251.0h1.25M307.2 251.3h1.25M228.4 252.4h1.25M230.2 252.4h1.25M240.5 252.2h1.25M245.3 252.1h1.25M248.4 252.3h1.25M250.3 252.5h1.25M273.2 252.2h1.25M274.4 252.4h1.25M282.5 252.4h1.25M284.3 252.0h1.25M285.3 252.0h1.25M287.2 252.6h1.25M291.3 252.3h1.25M292.5 252.1h1.25M294.0 252.3h1.25M295.6 252.1h1.25M301.3 252.2h1.25M306.3 252.4h1.25M219.2 253.2h1.25M220.4 253.1h1.25M234.4 253.4h1.25M236.2 253.0h1.25M237.0 253.1h1.25M247.5 253.6h1.25M249.4 253.6h1.25M252.5 253.5h1.25M254.3 253.2h1.25M272.4 253.4h1.25M273.3 253.3h1.25M274.1 253.1h1.25M277.3 253.1h1.25M281.3 253.5h1.25M282.0 253.2h1.25M288.3 253.2h1.25M290.4 253.6h1.25M292.6 253.5h1.25M296.4 253.3h1.25M306.0 253.3h1.25M219.4 254.3h1.25M230.5 254.6h1.25M231.3 254.0h1.25M234.2 254.4h1.25M238.1 254.6h1.25M245.1 254.2h1.25M248.5 254.4h1.25M249.3 254.3h1.25M252.6 254.1h1.25M254.3 254.5h1.25M256.3 254.5h1.25M269.2 254.0h1.25M270.5 254.3h1.25M271.2 254.2h1.25M272.2 254.2h1.25M273.5 254.1h1.25M275.2 254.6h1.25M277.5 254.2h1.25M280.4 254.5h1.25M281.4 254.3h1.25M283.2 254.5h1.25M288.1 254.1h1.25M292.1 254.0h1.25M293.5 254.5h1.25M295.4 254.5h1.25M307.1 254.2h1.25M220.3 255.4h1.25M226.4 255.5h1.25M235.1 255.3h1.25M241.6 255.3h1.25M242.1 255.2h1.25M246.2 255.3h1.25M249.2 255.5h1.25M250.1 255.4h1.25M251.3 255.2h1.25M252.3 255.6h1.25M253.0 255.1h1.25M255.3 255.1h1.25M256.5 255.2h1.25M257.1 255.0h1.25M258.3 255.5h1.25M259.5 255.6h1.25M275.1 255.1h1.25M276.3 255.3h1.25M277.1 255.2h1.25M278.4 255.5h1.25M279.0 255.4h1.25M280.5 255.5h1.25M281.5 255.2h1.25M284.0 255.3h1.25M286.0 255.5h1.25M287.1 255.4h1.25M288.3 255.2h1.25M289.2 255.3h1.25M290.2 255.3h1.25M291.4 255.6h1.25M292.0 255.0h1.25M293.0 255.5h1.25M296.0 255.4h1.25M220.4 256.6h1.25M224.3 256.6h1.25M227.5 256.6h1.25M228.4 256.5h1.25M230.0 256.1h1.25M231.5 256.2h1.25M236.2 256.4h1.25M237.3 256.2h1.25M241.1 256.2h1.25M242.2 256.5h1.25M243.2 256.1h1.25M245.4 256.4h1.25M246.5 256.0h1.25M247.0 256.3h1.25M248.4 256.2h1.25M250.1 256.4h1.25M251.5 256.3h1.25M267.5 256.3h1.25M282.3 256.4h1.25M283.1 256.4h1.25M284.5 256.5h1.25M285.1 256.5h1.25M286.6 256.4h1.25M287.2 256.5h1.25M290.4 256.1h1.25M291.2 256.5h1.25M292.6 256.3h1.25M293.1 256.6h1.25M294.1 256.2h1.25M295.6 256.6h1.25M302.1 256.5h1.25M305.1 256.0h1.25M307.0 256.1h1.25M219.2 257.1h1.25M220.1 257.4h1.25M228.2 257.3h1.25M231.3 257.1h1.25M234.5 257.1h1.25M235.3 257.5h1.25M237.2 257.6h1.25M239.2 257.2h1.25M241.4 257.0h1.25M243.0 257.3h1.25M244.5 257.3h1.25M245.1 257.1h1.25M286.4 257.3h1.25M287.4 257.6h1.25M288.1 257.4h1.25M289.1 257.3h1.25M290.1 257.0h1.25M291.0 257.5h1.25M292.3 257.1h1.25M293.2 257.4h1.25M294.5 257.3h1.25M296.0 257.2h1.25M306.6 257.4h1.25M219.6 258.3h1.25M220.3 258.2h1.25M222.3 258.6h1.25M224.1 258.5h1.25M225.5 258.1h1.25M228.3 258.1h1.25M232.1 258.3h1.25M233.0 258.2h1.25M234.5 258.6h1.25M236.5 258.3h1.25M237.4 258.2h1.25M238.4 258.4h1.25M239.3 258.4h1.25M288.2 258.0h1.25M289.1 258.3h1.25M290.3 258.1h1.25M291.4 258.0h1.25M293.4 258.5h1.25M294.2 258.4h1.25M295.4 258.6h1.25M298.3 258.2h1.25M307.1 258.4h1.25M224.3 259.3h1.25M227.4 259.4h1.25M230.1 259.3h1.25M232.4 259.3h1.25M233.4 259.3h1.25M234.6 259.3h1.25M235.1 259.3h1.25M253.2 259.2h1.25M289.1 259.3h1.25M290.0 259.0h1.25M291.3 259.1h1.25M292.0 259.3h1.25M294.5 259.2h1.25M295.2 259.4h1.25M303.0 259.0h1.25M307.0 259.1h1.25M219.6 260.4h1.25M224.0 260.3h1.25M226.1 260.0h1.25M227.2 260.4h1.25M229.1 260.3h1.25M230.5 260.6h1.25M231.5 260.1h1.25M289.2 260.2h1.25M291.5 260.5h1.25M293.1 260.2h1.25M294.4 260.5h1.25M295.5 260.1h1.25M302.2 260.5h1.25M303.1 260.1h1.25M307.4 260.6h1.25M225.4 261.6h1.25M226.1 261.3h1.25M227.2 261.4h1.25M228.0 261.1h1.25M292.1 261.2h1.25M293.0 261.2h1.25M294.3 261.6h1.25M295.1 261.4h1.25M296.3 261.2h1.25M301.0 261.3h1.25M302.3 261.4h1.25M307.6 261.1h1.25M219.6 262.4h1.25M220.3 262.4h1.25M221.5 262.0h1.25M225.5 262.0h1.25M293.5 262.5h1.25M294.0 262.1h1.25M295.1 262.4h1.25M297.2 262.2h1.25M299.3 262.6h1.25M305.2 262.4h1.25M219.0 263.5h1.25M258.5 263.5h1.25M292.2 263.5h1.25M294.1 263.3h1.25M295.6 263.4h1.25M297.3 263.2h1.25M219.2 264.3h1.25M220.3 264.2h1.25M270.4 264.4h1.25M290.2 264.5h1.25M292.3 264.4h1.25M294.3 264.2h1.25M295.3 264.3h1.25M296.3 264.4h1.25M297.3 264.0h1.25M306.1 264.3h1.25M294.6 265.0h1.25M295.5 265.2h1.25M296.0 265.2h1.25M297.5 265.4h1.25M304.5 265.3h1.25M306.0 265.0h1.25M278.6 266.4h1.25M289.5 266.0h1.25M293.0 266.1h1.25M294.1 266.4h1.25M296.6 266.1h1.25M297.3 266.5h1.25M267.0 267.1h1.25M289.5 267.4h1.25M293.3 267.1h1.25M296.3 267.0h1.25M297.1 267.1h1.25M298.1 267.5h1.25M299.5 267.0h1.25M300.6 267.2h1.25M305.2 267.2h1.25M306.3 267.0h1.25M221.4 268.1h1.25M294.4 268.4h1.25M297.5 268.3h1.25M299.0 268.4h1.25M220.2 269.3h1.25M290.2 269.1h1.25M291.5 269.1h1.25M297.2 269.0h1.25M305.5 269.5h1.25M219.0 270.5h1.25M297.5 270.6h1.25M298.5 270.3h1.25M299.1 270.3h1.25M300.1 270.3h1.25M301.2 270.1h1.25M302.3 270.1h1.25M219.2 271.3h1.25M220.2 271.0h1.25M261.0 271.3h1.25M268.2 271.3h1.25M287.5 271.0h1.25M297.5 271.5h1.25M298.4 271.6h1.25M300.1 271.4h1.25M303.4 271.4h1.25M304.3 271.1h1.25M305.1 271.1h1.25M220.4 272.5h1.25M225.6 272.1h1.25M298.0 272.3h1.25M299.6 272.3h1.25M302.5 272.1h1.25M303.1 272.2h1.25M219.4 273.3h1.25M221.4 273.3h1.25M225.3 273.5h1.25M298.4 273.2h1.25M299.5 273.2h1.25M300.5 273.1h1.25M301.1 273.3h1.25M303.3 273.3h1.25M304.5 273.1h1.25M222.6 274.6h1.25M226.2 274.5h1.25M253.1 274.5h1.25M277.4 274.2h1.25M299.4 274.3h1.25M302.6 274.2h1.25M225.2 275.1h1.25M275.4 275.2h1.25M277.4 275.3h1.25M299.1 275.1h1.25M300.1 275.2h1.25M303.2 275.4h1.25M257.1 276.4h1.25M299.4 276.4h1.25M300.1 276.3h1.25M303.5 276.2h1.25M220.3 277.1h1.25M223.0 277.4h1.25M300.1 277.6h1.25M303.4 277.2h1.25M239.5 278.6h1.25M285.4 278.4h1.25M299.3 278.5h1.25M300.1 278.4h1.25M282.5 279.1h1.25M297.5 279.3h1.25M299.3 279.3h1.25M301.4 279.2h1.25M302.3 279.3h1.25M257.4 280.3h1.25M272.1 280.2h1.25M298.1 280.3h1.25M299.3 280.1h1.25M301.3 280.4h1.25M302.1 280.6h1.25M221.5 281.6h1.25M226.0 281.5h1.25M238.2 281.2h1.25M299.1 281.0h1.25M300.4 281.4h1.25M301.1 281.3h1.25M221.3 282.1h1.25M299.6 282.5h1.25M300.3 282.4h1.25M301.5 282.1h1.25M223.5 283.5h1.25M298.2 283.4h1.25M299.5 283.6h1.25M300.6 283.1h1.25M301.4 283.2h1.25M299.6 284.6h1.25M300.5 284.3h1.25M222.2 285.3h1.25M224.4 285.1h1.25M230.3 285.2h1.25M299.0 285.1h1.25M225.3 286.4h1.25M290.5 286.4h1.25M299.5 286.2h1.25M300.1 286.5h1.25M223.3 287.3h1.25M224.3 287.3h1.25M254.4 287.5h1.25M288.5 287.3h1.25M299.5 287.2h1.25M224.2 288.5h1.25M299.1 288.2h1.25M266.1 289.5h1.25M297.1 289.1h1.25M226.4 290.1h1.25M228.3 290.1h1.25M281.3 290.6h1.25M284.1 291.3h1.25M298.4 291.5h1.25M264.0 292.2h1.25M272.6 292.0h1.25M297.4 292.3h1.25M228.4 293.3h1.25M229.3 293.0h1.25M296.6 294.2h1.25M230.5 295.5h1.25M232.1 295.6h1.25M233.3 295.2h1.25M273.6 295.4h1.25M296.2 295.1h1.25M230.4 296.2h1.25M235.2 296.2h1.25M264.1 296.4h1.25M231.4 297.2h1.25M232.2 297.4h1.25M233.5 297.1h1.25M234.2 297.6h1.25M260.6 297.1h1.25M292.2 297.2h1.25M295.2 297.4h1.25M233.4 298.3h1.25M234.1 298.4h1.25M235.0 298.0h1.25M270.3 298.6h1.25M236.2 299.5h1.25M236.5 300.4h1.25M237.2 300.2h1.25M257.4 300.4h1.25M262.5 300.4h1.25M292.0 300.5h1.25M293.3 300.1h1.25M245.1 301.4h1.25M252.1 301.3h1.25M292.4 301.2h1.25M245.1 302.6h1.25M286.2 302.5h1.25M289.1 302.4h1.25M291.1 302.2h1.25M292.2 302.2h1.25M242.4 303.5h1.25M243.2 303.0h1.25M255.5 303.0h1.25M285.4 303.5h1.25M288.4 303.3h1.25M290.3 303.1h1.25M243.3 304.4h1.25M245.3 304.0h1.25M246.0 304.4h1.25M274.1 304.4h1.25M279.2 304.6h1.25M285.3 304.0h1.25M244.2 305.2h1.25M246.5 305.3h1.25M248.2 305.3h1.25M250.2 305.1h1.25M252.3 305.5h1.25M261.1 305.0h1.25M273.6 305.1h1.25M280.5 305.4h1.25M284.6 305.1h1.25M287.4 305.5h1.25M288.1 305.2h1.25M254.1 306.4h1.25M257.4 306.4h1.25M261.3 306.2h1.25M265.1 306.1h1.25M266.4 306.0h1.25M276.1 306.3h1.25M285.4 306.1h1.25M286.5 306.2h1.25M251.4 307.4h1.25M257.0 307.5h1.25M260.5 307.4h1.25M265.4 307.4h1.25M266.2 307.1h1.25M268.1 307.6h1.25M274.4 307.5h1.25M278.5 307.1h1.25M281.2 307.5h1.25M282.2 307.6h1.25M283.2 307.4h1.25M254.5 308.3h1.25M255.4 308.3h1.25M256.6 308.0h1.25M257.3 308.6h1.25M258.4 308.5h1.25M259.6 308.1h1.25M260.3 308.6h1.25M278.4 308.4h1.25M260.3 309.5h1.25M263.3 309.1h1.25M264.5 309.5h1.25M267.0 309.6h1.25M269.5 309.2h1.25M276.1 309.5h1.25M277.0 309.5h1.25" stroke="#000" stroke-width="1.25" fill="none"/>
<path d="M255.9,174.0L256.6,173.7L257.2,173.5L257.8,173.3L258.4,173.1L259.0,173.0L259.6,172.8L260.2,172.7L260.8,172.6L261.4,172.5L262.1,172.3L262.8,172.2L263.5,172.1L264.3,171.9L265.1,171.7L265.9,171.6L266.7,171.4L267.5,171.2L268.4,171.1L269.2,171.0L270.0,170.8L270.8,170.7L271.6,170.7L272.3,170.6L273.0,170.6L273.7,170.6L274.5,170.6L275.2,170.7L275.8,170.7L276.5,170.8L277.2,170.9L277.8,171.0L278.5,171.1L279.1,171.2L279.8,171.4L280.5,171.6L281.1,171.8L281.8,172.1L282.5,172.4L283.2,172.7L283.9,173.0L284.6,173.4L285.3,173.7L286.0,174.1L286.7,174.6L287.4,175.0L288.0,175.5L288.7,176.0L289.3,176.5L290.0,177.1L290.6,177.7L291.3,178.3L292.0,179.0L292.6,179.7L293.3,180.4L293.9,181.1L294.5,181.9L295.1,182.7L295.7,183.4L296.3,184.2L296.9,185.0L297.4,185.8L297.9,186.5L298.4,187.3L298.9,188.0L299.3,188.8L299.7,189.6L300.2,190.3L300.6,191.1L300.9,192.0L301.3,192.9L301.7,193.8L302.0,194.8L302.4,195.9L302.7,197.0L303.0,198.2L303.3,199.4L303.6,200.6L303.9,201.9L304.2,203.3L304.4,204.6L304.7,206.0L304.9,207.5L305.2,208.9L305.4,210.4L305.7,211.9L305.9,213.5L306.2,215.2L306.4,216.9L306.6,218.6L306.9,220.4L307.1,222.1L307.3,223.8L307.5,225.5L307.6,227.2L307.8,228.7L307.9,230.2L308.0,231.6L308.1,232.9L308.2,234.1L308.3,235.3L308.4,236.4L308.4,237.5L308.5,238.6L308.5,239.7L308.5,240.9L308.5,242.1L308.5,243.4L308.4,244.9L308.3,246.5L308.3,248.2L308.2,249.9L308.1,251.7L308.0,253.6L307.8,255.5L307.7,257.4L307.5,259.3L307.3,261.2L307.0,263.0L306.8,264.7L306.4,266.4L306.1,268.0L305.7,269.6L305.3,271.2L304.8,272.8L304.3,274.4L303.8,276.0L303.2,277.5L302.7,279.1L302.1,280.6L301.6,282.1L301.1,283.5L300.5,284.9L300.1,286.3L299.6,287.7L299.2,289.0L298.8,290.2L298.4,291.4L298.0,292.6L297.6,293.7L297.2,294.7L296.8,295.7L296.3,296.7L295.7,297.6L295.1,298.5L294.4,299.4L293.6,300.4L292.9,301.3L292.1,302.2L291.3,303.0L290.4,303.8L289.6,304.6L288.6,305.3L287.6,305.9L286.5,306.5L285.4,307.1L284.2,307.5L282.8,308.0L281.2,308.4L279.5,308.7L277.8,309.0L275.9,309.3L274.0,309.5L272.1,309.6L270.1,309.7L268.1,309.7L266.1,309.7L264.2,309.6L262.3,309.4L260.4,309.2L258.4,308.9L256.4,308.5L254.3,308.1L252.3,307.6L250.3,307.1L248.3,306.5L246.3,305.8L244.4,305.1L242.6,304.4L240.9,303.6L239.2,302.7L237.7,301.8L236.2,300.9L234.7,299.8L233.3,298.7L231.9,297.6L230.6,296.4L229.3,295.2L228.2,293.9L227.0,292.6L226.0,291.3L225.1,290.0L224.2,288.7L223.5,287.3L222.9,286.0L222.3,284.5L221.8,283.0L221.4,281.5L221.0,279.9L220.7,278.3L220.4,276.6L220.2,274.9L220.0,273.2L219.8,271.5L219.6,269.7L219.4,268.0L219.3,266.3L219.3,264.5L219.2,262.7L219.3,260.9L219.3,259.0L219.4,257.2L219.5,255.3L219.6,253.5L219.7,251.7L219.8,249.9L219.9,248.2L220.0,246.5L220.1,244.9L220.2,243.3L220.4,241.7L220.5,240.1L220.7,238.6L220.9,237.1L221.1,235.6L221.3,234.1L221.5,232.5L221.8,231.0L222.1,229.5L222.4,227.9L222.7,226.4L223.0,224.8L223.4,223.3L223.7,221.8L224.1,220.2L224.5,218.7L225.0,217.1L225.4,215.6L225.9,214.0L226.4,212.4L227.0,210.8L227.5,209.2L228.1,207.5L228.7,205.8L229.4,204.1L230.0,202.4L230.7,200.7L231.4,199.0L232.1,197.3L232.9,195.7L233.6,194.2L234.4,192.7L235.2,191.4L236.1,190.0L237.0,188.7L237.9,187.4L238.9,186.2L240.0,185.0L241.0,183.8L242.1,182.6L243.1,181.6L244.1,180.6L245.1,179.6L246.1,178.8L247.0,178.0L247.8,177.4L248.5,176.8L249.2,176.4L249.9,176.0L250.6,175.7L251.3,175.4L252.1,175.2L252.8,174.9L253.5,174.7L254.3,174.5L255.1,174.2Z" fill="none" stroke="#000" stroke-width="1.0"/>
<circle cx="258.4" cy="199.7" r="17" fill="#fff" stroke="#000" stroke-width="1.4"/>
<path d="M244.9,180.4A23.5,23.5 0 1,1 244.9,219.0" fill="none" stroke="#000" stroke-width="1.4"/>
<path d="M274.2,177.2A27.5,27.5 0 0,1 272.1,223.5" fill="none" stroke="#000" stroke-width="1.0"/>
<circle cx="289.9" cy="186.7" r="3.3" fill="#fff" stroke="#000" stroke-width="1.1"/>
<circle cx="233.7" cy="235.6" r="8.3" fill="#000"/><circle cx="233.7" cy="235.6" r="6.90" fill="#fff"/><path d="M230.2 229.3h1.1M232.2 229.2h1.1M230.1 230.0h1.1M231.1 230.1h1.1M232.0 230.3h1.1M233.3 230.4h1.1M234.2 230.1h1.1M235.3 230.0h1.1M237.4 230.4h1.1M228.2 231.2h1.1M229.1 231.2h1.1M230.1 231.2h1.1M231.2 231.0h1.1M233.2 231.1h1.1M234.2 231.2h1.1M236.1 231.3h1.1M231.0 232.0h1.1M234.3 232.1h1.1M236.1 232.1h1.1M237.3 232.2h1.1M239.3 232.0h1.1M227.2 233.3h1.1M230.4 233.4h1.1M233.3 233.2h1.1M235.3 233.2h1.1M228.0 234.1h1.1M230.1 234.1h1.1M232.1 234.0h1.1M234.3 234.1h1.1M237.2 234.2h1.1M238.2 234.1h1.1M240.0 234.2h1.1M227.1 235.1h1.1M229.2 235.2h1.1M231.1 235.1h1.1M232.3 235.4h1.1M234.1 235.2h1.1M237.3 235.2h1.1M238.1 235.1h1.1M239.1 235.3h1.1M240.0 235.2h1.1M228.2 236.1h1.1M229.1 236.4h1.1M232.4 236.0h1.1M233.1 236.2h1.1M235.1 236.4h1.1M236.2 236.3h1.1M237.1 236.1h1.1M238.3 236.0h1.1M239.1 236.3h1.1M240.2 236.2h1.1M228.1 237.0h1.1M231.1 237.1h1.1M232.1 237.2h1.1M234.2 237.2h1.1M235.0 237.2h1.1M236.4 237.1h1.1M238.4 237.1h1.1M229.1 238.3h1.1M230.3 238.1h1.1M232.3 238.2h1.1M233.3 238.3h1.1M235.1 238.3h1.1M236.2 238.2h1.1M237.3 238.2h1.1M238.2 238.2h1.1M239.2 238.4h1.1M228.2 239.2h1.1M229.2 239.1h1.1M230.3 239.0h1.1M233.3 239.2h1.1M234.1 239.0h1.1M235.4 239.1h1.1M237.1 239.0h1.1M238.1 239.2h1.1M229.1 240.1h1.1M230.2 240.3h1.1M236.3 240.2h1.1M237.1 240.2h1.1M238.3 240.3h1.1M233.1 241.0h1.1" stroke="#000" stroke-width="1.1" fill="none"/>
<circle cx="290.6" cy="243.2" r="8.3" fill="#000"/><circle cx="290.6" cy="243.2" r="6.90" fill="#fff"/><path d="M289.1 236.4h1.1M288.3 237.0h1.1M289.2 237.1h1.1M290.2 237.0h1.1M291.2 237.3h1.1M293.4 237.3h1.1M287.3 238.4h1.1M288.3 238.4h1.1M292.3 238.3h1.1M293.3 238.3h1.1M285.2 239.0h1.1M286.1 239.1h1.1M287.3 239.0h1.1M288.3 239.1h1.1M290.3 239.3h1.1M292.1 239.1h1.1M294.4 239.3h1.1M284.3 240.0h1.1M285.1 240.4h1.1M287.2 240.2h1.1M289.2 240.4h1.1M290.0 240.3h1.1M292.3 240.0h1.1M293.0 240.0h1.1M294.0 240.3h1.1M295.1 240.3h1.1M296.3 240.0h1.1M284.3 241.2h1.1M286.1 241.3h1.1M287.1 241.1h1.1M288.3 241.3h1.1M290.3 241.1h1.1M292.1 241.3h1.1M294.1 241.1h1.1M285.2 242.1h1.1M287.1 242.3h1.1M289.1 242.0h1.1M290.1 242.2h1.1M291.3 242.4h1.1M292.0 242.3h1.1M295.3 242.3h1.1M285.1 243.0h1.1M287.1 243.2h1.1M289.2 243.3h1.1M290.3 243.2h1.1M291.1 243.1h1.1M294.2 243.0h1.1M285.2 244.1h1.1M286.1 244.0h1.1M287.3 244.1h1.1M289.1 244.3h1.1M291.1 244.0h1.1M296.3 244.1h1.1M287.2 245.0h1.1M288.3 245.1h1.1M290.2 245.3h1.1M291.2 245.1h1.1M293.1 245.1h1.1M295.3 245.0h1.1M285.3 246.3h1.1M286.1 246.2h1.1M288.4 246.1h1.1M289.1 246.3h1.1M290.2 246.3h1.1M291.1 246.2h1.1M292.1 246.1h1.1M294.2 246.1h1.1M286.4 247.2h1.1M288.1 247.2h1.1M290.3 247.1h1.1M293.2 247.1h1.1M294.1 247.4h1.1M287.3 248.2h1.1M288.2 248.3h1.1M289.0 248.3h1.1M290.4 248.3h1.1M292.0 248.3h1.1M288.4 249.3h1.1M289.3 249.2h1.1" stroke="#000" stroke-width="1.1" fill="none"/>
<path d="M270.4,238.0a3.0,3.0 0 1,0 6.0,0a3.0,3.0 0 1,0 -6.0,0M248.8,242.8a3.0,3.0 0 1,0 6.0,0a3.0,3.0 0 1,0 -6.0,0M255.1,248.0a3.0,3.0 0 1,0 6.0,0a3.0,3.0 0 1,0 -6.0,0M245.8,239.2a3.0,3.0 0 1,0 6.0,0a3.0,3.0 0 1,0 -6.0,0M258.3,250.5a3.0,3.0 0 1,0 6.0,0a3.0,3.0 0 1,0 -6.0,0M270.7,247.0a3.0,3.0 0 1,0 6.0,0a3.0,3.0 0 1,0 -6.0,0M263.9,252.5a3.0,3.0 0 1,0 6.0,0a3.0,3.0 0 1,0 -6.0,0M260.6,234.0a3.0,3.0 0 1,0 6.0,0a3.0,3.0 0 1,0 -6.0,0M275.6,242.4a3.0,3.0 0 1,0 6.0,0a3.0,3.0 0 1,0 -6.0,0M256.0,242.9a3.0,3.0 0 1,0 6.0,0a3.0,3.0 0 1,0 -6.0,0M249.2,230.5a3.0,3.0 0 1,0 6.0,0a3.0,3.0 0 1,0 -6.0,0M268.7,251.6a3.0,3.0 0 1,0 6.0,0a3.0,3.0 0 1,0 -6.0,0M263.9,241.2a3.0,3.0 0 1,0 6.0,0a3.0,3.0 0 1,0 -6.0,0M249.5,250.2a3.0,3.0 0 1,0 6.0,0a3.0,3.0 0 1,0 -6.0,0M255.7,233.7a3.0,3.0 0 1,0 6.0,0a3.0,3.0 0 1,0 -6.0,0M266.1,246.2a3.0,3.0 0 1,0 6.0,0a3.0,3.0 0 1,0 -6.0,0M272.3,232.7a3.0,3.0 0 1,0 6.0,0a3.0,3.0 0 1,0 -6.0,0M258.4,237.5a3.0,3.0 0 1,0 6.0,0a3.0,3.0 0 1,0 -6.0,0M262.3,245.8a3.0,3.0 0 1,0 6.0,0a3.0,3.0 0 1,0 -6.0,0M251.7,234.8a3.0,3.0 0 1,0 6.0,0a3.0,3.0 0 1,0 -6.0,0M253.3,230.1a3.0,3.0 0 1,0 6.0,0a3.0,3.0 0 1,0 -6.0,0M254.7,253.1a3.0,3.0 0 1,0 6.0,0a3.0,3.0 0 1,0 -6.0,0M264.9,237.3a3.0,3.0 0 1,0 6.0,0a3.0,3.0 0 1,0 -6.0,0M268.5,229.3a3.0,3.0 0 1,0 6.0,0a3.0,3.0 0 1,0 -6.0,0M264.0,230.6a3.0,3.0 0 1,0 6.0,0a3.0,3.0 0 1,0 -6.0,0M249.4,237.9a3.0,3.0 0 1,0 6.0,0a3.0,3.0 0 1,0 -6.0,0M268.6,241.3a3.0,3.0 0 1,0 6.0,0a3.0,3.0 0 1,0 -6.0,0M274.9,237.1a3.0,3.0 0 1,0 6.0,0a3.0,3.0 0 1,0 -6.0,0M244.4,243.3a3.0,3.0 0 1,0 6.0,0a3.0,3.0 0 1,0 -6.0,0M262.2,256.4a3.0,3.0 0 1,0 6.0,0a3.0,3.0 0 1,0 -6.0,0M257.9,230.2a3.0,3.0 0 1,0 6.0,0a3.0,3.0 0 1,0 -6.0,0M251.3,246.3a3.0,3.0 0 1,0 6.0,0a3.0,3.0 0 1,0 -6.0,0M266.3,233.7a3.0,3.0 0 1,0 6.0,0a3.0,3.0 0 1,0 -6.0,0M254.2,237.5a3.0,3.0 0 1,0 6.0,0a3.0,3.0 0 1,0 -6.0,0M275.2,246.1a3.0,3.0 0 1,0 6.0,0a3.0,3.0 0 1,0 -6.0,0M245.6,235.0a3.0,3.0 0 1,0 6.0,0a3.0,3.0 0 1,0 -6.0,0M245.3,247.6a3.0,3.0 0 1,0 6.0,0a3.0,3.0 0 1,0 -6.0,0M272.5,251.0a3.0,3.0 0 1,0 6.0,0a3.0,3.0 0 1,0 -6.0,0M260.3,226.5a3.0,3.0 0 1,0 6.0,0a3.0,3.0 0 1,0 -6.0,0M260.1,242.0a3.0,3.0 0 1,0 6.0,0a3.0,3.0 0 1,0 -6.0,0M257.6,256.0a3.0,3.0 0 1,0 6.0,0a3.0,3.0 0 1,0 -6.0,0M255.7,227.0a3.0,3.0 0 1,0 6.0,0a3.0,3.0 0 1,0 -6.0,0M252.4,241.2a3.0,3.0 0 1,0 6.0,0a3.0,3.0 0 1,0 -6.0,0M266.7,255.2a3.0,3.0 0 1,0 6.0,0a3.0,3.0 0 1,0 -6.0,0M250.9,254.0a3.0,3.0 0 1,0 6.0,0a3.0,3.0 0 1,0 -6.0,0M258.5,246.2a3.0,3.0 0 1,0 6.0,0a3.0,3.0 0 1,0 -6.0,0" fill="#000"/><ellipse cx="263" cy="241.5" rx="16.3" ry="15.4" fill="#000"/><path d="M272.1,238.0a1.3,1.3 0 1,0 2.5,0a1.3,1.3 0 1,0 -2.5,0M250.9,242.8a0.9,0.9 0 1,0 1.9,0a0.9,0.9 0 1,0 -1.9,0M256.7,248.0a1.4,1.4 0 1,0 2.8,0a1.4,1.4 0 1,0 -2.8,0M247.1,239.2a1.6,1.6 0 1,0 3.2,0a1.6,1.6 0 1,0 -3.2,0M260.5,250.5a0.8,0.8 0 1,0 1.6,0a0.8,0.8 0 1,0 -1.6,0M272.1,247.0a1.6,1.6 0 1,0 3.2,0a1.6,1.6 0 1,0 -3.2,0M265.6,252.5a1.3,1.3 0 1,0 2.7,0a1.3,1.3 0 1,0 -2.7,0M262.0,234.0a1.6,1.6 0 1,0 3.3,0a1.6,1.6 0 1,0 -3.3,0M277.3,242.4a1.3,1.3 0 1,0 2.6,0a1.3,1.3 0 1,0 -2.6,0M257.9,242.9a1.1,1.1 0 1,0 2.2,0a1.1,1.1 0 1,0 -2.2,0M251.0,230.5a1.2,1.2 0 1,0 2.4,0a1.2,1.2 0 1,0 -2.4,0M270.2,251.6a1.5,1.5 0 1,0 3.0,0a1.5,1.5 0 1,0 -3.0,0M266.1,241.2a0.8,0.8 0 1,0 1.5,0a0.8,0.8 0 1,0 -1.5,0M251.1,250.2a1.5,1.5 0 1,0 3.0,0a1.5,1.5 0 1,0 -3.0,0M257.3,233.7a1.4,1.4 0 1,0 2.8,0a1.4,1.4 0 1,0 -2.8,0M268.2,246.2a0.9,0.9 0 1,0 1.9,0a0.9,0.9 0 1,0 -1.9,0M274.1,232.7a1.2,1.2 0 1,0 2.5,0a1.2,1.2 0 1,0 -2.5,0M260.4,237.5a1.0,1.0 0 1,0 2.0,0a1.0,1.0 0 1,0 -2.0,0M263.8,245.8a1.5,1.5 0 1,0 3.0,0a1.5,1.5 0 1,0 -3.0,0M253.2,234.8a1.5,1.5 0 1,0 2.9,0a1.5,1.5 0 1,0 -2.9,0M255.0,230.1a1.3,1.3 0 1,0 2.5,0a1.3,1.3 0 1,0 -2.5,0M256.4,253.1a1.4,1.4 0 1,0 2.7,0a1.4,1.4 0 1,0 -2.7,0M267.1,237.3a0.8,0.8 0 1,0 1.5,0a0.8,0.8 0 1,0 -1.5,0M270.2,229.3a1.3,1.3 0 1,0 2.6,0a1.3,1.3 0 1,0 -2.6,0M265.3,230.6a1.7,1.7 0 1,0 3.4,0a1.7,1.7 0 1,0 -3.4,0M251.0,237.9a1.4,1.4 0 1,0 2.7,0a1.4,1.4 0 1,0 -2.7,0M270.5,241.3a1.1,1.1 0 1,0 2.3,0a1.1,1.1 0 1,0 -2.3,0M276.6,237.1a1.4,1.4 0 1,0 2.7,0a1.4,1.4 0 1,0 -2.7,0M246.6,243.3a0.9,0.9 0 1,0 1.7,0a0.9,0.9 0 1,0 -1.7,0M264.0,256.4a1.2,1.2 0 1,0 2.4,0a1.2,1.2 0 1,0 -2.4,0M259.3,230.2a1.6,1.6 0 1,0 3.2,0a1.6,1.6 0 1,0 -3.2,0M252.8,246.3a1.5,1.5 0 1,0 3.0,0a1.5,1.5 0 1,0 -3.0,0M268.5,233.7a0.9,0.9 0 1,0 1.7,0a0.9,0.9 0 1,0 -1.7,0M256.5,237.5a0.7,0.7 0 1,0 1.4,0a0.7,0.7 0 1,0 -1.4,0M277.0,246.1a1.3,1.3 0 1,0 2.5,0a1.3,1.3 0 1,0 -2.5,0M247.2,235.0a1.4,1.4 0 1,0 2.7,0a1.4,1.4 0 1,0 -2.7,0M247.4,247.6a0.9,0.9 0 1,0 1.9,0a0.9,0.9 0 1,0 -1.9,0M274.5,251.0a1.0,1.0 0 1,0 2.1,0a1.0,1.0 0 1,0 -2.1,0M262.3,226.5a1.0,1.0 0 1,0 2.0,0a1.0,1.0 0 1,0 -2.0,0M262.1,242.0a1.0,1.0 0 1,0 1.9,0a1.0,1.0 0 1,0 -1.9,0M259.9,256.0a0.7,0.7 0 1,0 1.4,0a0.7,0.7 0 1,0 -1.4,0M258.0,227.0a0.8,0.8 0 1,0 1.5,0a0.8,0.8 0 1,0 -1.5,0M254.1,241.2a1.2,1.2 0 1,0 2.5,0a1.2,1.2 0 1,0 -2.5,0M268.6,255.2a1.1,1.1 0 1,0 2.2,0a1.1,1.1 0 1,0 -2.2,0M252.8,254.0a1.1,1.1 0 1,0 2.2,0a1.1,1.1 0 1,0 -2.2,0M260.4,246.2a1.1,1.1 0 1,0 2.2,0a1.1,1.1 0 1,0 -2.2,0" fill="#fff"/>
<path d="M94.6,204.0C94.7,198.1 96.8,186.7 98.5,180.5C100.2,174.3 102.4,170.9 105.0,167.0C107.6,163.1 110.8,160.1 114.3,156.8C117.8,153.5 121.6,150.1 126.0,147.0C130.4,143.9 134.9,141.0 140.6,138.4C146.3,135.8 152.6,133.6 160.0,131.5C167.4,129.4 178.6,127.2 185.3,126.0C192.0,124.8 194.1,124.3 200.0,124.6C205.9,124.9 215.2,126.3 221.0,127.9C226.8,129.5 231.2,132.9 234.7,134.2C238.2,135.5 240.2,134.8 242.1,135.8C244.0,136.8 245.3,138.2 246.3,140.0C247.3,141.8 247.8,144.6 247.9,146.3C248.0,148.1 247.2,148.8 246.8,150.5C246.4,152.2 246.1,153.6 245.3,156.8C244.5,160.1 243.7,165.2 242.1,170.0C240.5,174.8 239.0,180.1 235.8,185.7C232.7,191.3 227.8,198.3 223.2,203.4C218.6,208.5 213.5,212.6 208.0,216.0C202.5,219.4 196.3,221.1 190.3,223.6C184.3,226.1 177.9,228.3 172.0,231.0C166.1,233.7 160.3,238.2 155.0,240.0C149.7,241.8 145.1,242.0 140.0,241.5C134.9,241.0 129.8,239.2 124.3,237.0C118.8,234.8 111.1,231.7 106.7,228.2C102.3,224.7 100.0,220.0 98.0,216.0C96.0,212.0 94.5,209.9 94.6,204.0Z" fill="#fff" stroke="#000" stroke-width="1.3"/>
<path d="M192.3 127.2h1.25M193.5 127.3h1.25M194.5 127.0h1.25M195.4 127.4h1.25M196.1 127.3h1.25M197.3 127.4h1.25M199.5 127.5h1.25M200.3 127.0h1.25M202.5 127.1h1.25M203.2 127.5h1.25M204.3 127.2h1.25M205.5 127.4h1.25M207.4 127.0h1.25M184.2 128.2h1.25M185.1 128.2h1.25M186.1 128.3h1.25M188.5 128.4h1.25M189.5 128.0h1.25M190.5 128.1h1.25M193.5 128.2h1.25M194.3 128.5h1.25M197.1 128.4h1.25M199.6 128.5h1.25M200.1 128.3h1.25M203.1 128.3h1.25M204.5 128.3h1.25M205.0 128.5h1.25M206.1 128.3h1.25M207.1 128.1h1.25M209.4 128.4h1.25M210.6 128.6h1.25M180.1 129.1h1.25M181.0 129.3h1.25M182.6 129.5h1.25M183.2 129.5h1.25M184.3 129.5h1.25M186.0 129.6h1.25M187.4 129.1h1.25M189.5 129.3h1.25M191.3 129.2h1.25M192.4 129.5h1.25M194.3 129.6h1.25M200.6 129.1h1.25M202.3 129.2h1.25M206.2 129.4h1.25M211.6 129.4h1.25M212.5 129.3h1.25M213.1 129.2h1.25M214.3 129.0h1.25M215.3 129.5h1.25M216.4 129.3h1.25M174.5 130.1h1.25M175.0 130.2h1.25M176.4 130.1h1.25M183.4 130.0h1.25M184.2 130.2h1.25M185.5 130.3h1.25M186.4 130.1h1.25M187.0 130.3h1.25M188.3 130.0h1.25M189.1 130.4h1.25M190.6 130.4h1.25M191.0 130.3h1.25M193.1 130.6h1.25M194.4 130.5h1.25M195.4 130.0h1.25M197.6 130.2h1.25M198.5 130.1h1.25M200.3 130.3h1.25M201.5 130.3h1.25M203.1 130.4h1.25M215.6 130.2h1.25M216.4 130.3h1.25M168.2 131.4h1.25M169.6 131.1h1.25M172.5 131.0h1.25M173.4 131.4h1.25M177.6 131.3h1.25M178.2 131.4h1.25M179.4 131.5h1.25M180.5 131.5h1.25M181.2 131.5h1.25M182.3 131.3h1.25M183.4 131.0h1.25M184.6 131.5h1.25M185.5 131.1h1.25M186.5 131.6h1.25M187.5 131.5h1.25M190.1 131.3h1.25M191.2 131.3h1.25M194.5 131.1h1.25M196.1 131.1h1.25M197.1 131.0h1.25M203.1 131.4h1.25M204.3 131.3h1.25M205.0 131.4h1.25M207.3 131.2h1.25M211.1 131.3h1.25M215.6 131.1h1.25M164.1 132.4h1.25M165.0 132.1h1.25M166.4 132.1h1.25M167.4 132.4h1.25M168.1 132.4h1.25M169.6 132.1h1.25M171.5 132.3h1.25M173.1 132.2h1.25M174.1 132.3h1.25M175.4 132.1h1.25M177.0 132.1h1.25M178.3 132.5h1.25M179.5 132.2h1.25M181.1 132.5h1.25M183.3 132.3h1.25M184.1 132.2h1.25M186.1 132.6h1.25M189.1 132.6h1.25M190.2 132.1h1.25M196.0 132.2h1.25M197.5 132.5h1.25M200.6 132.5h1.25M201.2 132.2h1.25M202.3 132.2h1.25M204.2 132.5h1.25M208.4 132.0h1.25M213.5 132.5h1.25M216.0 132.3h1.25M220.2 132.5h1.25M222.1 132.1h1.25M223.4 132.3h1.25M224.6 132.5h1.25M162.2 133.3h1.25M163.4 133.1h1.25M164.5 133.5h1.25M165.6 133.6h1.25M166.1 133.1h1.25M167.3 133.1h1.25M168.1 133.5h1.25M169.3 133.2h1.25M171.6 133.1h1.25M172.2 133.0h1.25M173.5 133.6h1.25M174.2 133.5h1.25M175.1 133.5h1.25M179.3 133.0h1.25M188.5 133.4h1.25M194.4 133.4h1.25M196.6 133.5h1.25M199.6 133.1h1.25M200.1 133.2h1.25M158.6 134.3h1.25M159.5 134.3h1.25M160.1 134.5h1.25M161.5 134.0h1.25M162.6 134.4h1.25M164.3 134.5h1.25M165.4 134.3h1.25M166.1 134.4h1.25M168.0 134.6h1.25M169.1 134.1h1.25M172.4 134.6h1.25M176.4 134.5h1.25M177.5 134.2h1.25M179.5 134.5h1.25M181.4 134.5h1.25M184.4 134.4h1.25M186.4 134.3h1.25M188.1 134.2h1.25M190.5 134.5h1.25M193.1 134.4h1.25M195.1 134.2h1.25M201.1 134.6h1.25M204.3 134.3h1.25M205.2 134.3h1.25M155.2 135.1h1.25M156.6 135.3h1.25M157.2 135.4h1.25M160.3 135.5h1.25M161.5 135.3h1.25M162.6 135.2h1.25M163.0 135.2h1.25M164.1 135.2h1.25M165.4 135.1h1.25M166.4 135.0h1.25M169.3 135.5h1.25M172.6 135.2h1.25M175.3 135.5h1.25M176.6 135.4h1.25M181.1 135.4h1.25M184.3 135.5h1.25M209.1 135.5h1.25M212.5 135.6h1.25M215.3 135.6h1.25M226.4 135.4h1.25M227.3 135.4h1.25M152.5 136.1h1.25M154.2 136.5h1.25M155.4 136.6h1.25M156.3 136.4h1.25M157.5 136.3h1.25M158.4 136.2h1.25M161.5 136.1h1.25M163.3 136.1h1.25M172.4 136.4h1.25M174.2 136.2h1.25M178.2 136.4h1.25M181.2 136.2h1.25M190.5 136.1h1.25M192.5 136.4h1.25M193.1 136.2h1.25M197.1 136.2h1.25M198.3 136.5h1.25M202.1 136.4h1.25M208.2 136.1h1.25M210.5 136.0h1.25M212.3 136.2h1.25M149.3 137.4h1.25M150.2 137.1h1.25M151.1 137.4h1.25M152.3 137.2h1.25M156.3 137.6h1.25M161.0 137.3h1.25M163.6 137.1h1.25M164.5 137.0h1.25M168.1 137.4h1.25M175.4 137.6h1.25M176.5 137.5h1.25M182.1 137.1h1.25M186.6 137.5h1.25M199.1 137.5h1.25M209.0 137.6h1.25M211.1 137.2h1.25M213.6 137.1h1.25M215.3 137.4h1.25M217.1 137.4h1.25M148.2 138.2h1.25M149.4 138.5h1.25M150.4 138.1h1.25M151.5 138.1h1.25M152.2 138.1h1.25M161.6 138.4h1.25M164.0 138.5h1.25M166.5 138.1h1.25M167.0 138.1h1.25M168.6 138.2h1.25M175.4 138.0h1.25M177.2 138.3h1.25M189.5 138.4h1.25M206.4 138.0h1.25M209.0 138.1h1.25M213.2 138.2h1.25M214.1 138.4h1.25M145.2 139.2h1.25M147.5 139.3h1.25M149.5 139.5h1.25M161.5 139.5h1.25M182.1 139.3h1.25M208.2 139.2h1.25M211.0 139.5h1.25M213.4 139.2h1.25M216.6 139.4h1.25M141.1 140.1h1.25M144.1 140.4h1.25M145.5 140.3h1.25M148.1 140.4h1.25M158.0 140.5h1.25M164.2 140.2h1.25M167.6 140.2h1.25M171.4 140.1h1.25M185.4 140.4h1.25M212.3 140.5h1.25M214.4 140.5h1.25M140.1 141.3h1.25M142.2 141.1h1.25M143.3 141.2h1.25M144.1 141.1h1.25M147.6 141.5h1.25M170.3 141.4h1.25M175.2 141.4h1.25M212.4 141.0h1.25M214.1 141.6h1.25M215.3 141.0h1.25M216.1 141.0h1.25M137.5 142.5h1.25M138.1 142.3h1.25M139.6 142.5h1.25M140.3 142.3h1.25M144.1 142.2h1.25M152.5 142.1h1.25M153.4 142.4h1.25M220.1 142.6h1.25M136.3 143.4h1.25M137.1 143.2h1.25M138.4 143.2h1.25M141.1 143.5h1.25M146.2 143.1h1.25M164.5 143.5h1.25M213.0 143.1h1.25M216.3 143.4h1.25M234.0 143.6h1.25M134.3 144.3h1.25M135.3 144.4h1.25M137.3 144.4h1.25M139.1 144.5h1.25M140.5 144.5h1.25M157.2 144.6h1.25M159.2 144.5h1.25M217.1 144.2h1.25M218.4 144.1h1.25M219.2 144.1h1.25M223.3 144.4h1.25M134.3 145.0h1.25M213.4 145.1h1.25M214.5 145.1h1.25M216.2 145.5h1.25M218.5 145.5h1.25M235.1 145.4h1.25M130.2 146.3h1.25M131.4 146.2h1.25M133.1 146.3h1.25M162.6 146.6h1.25M217.1 146.2h1.25M219.6 146.2h1.25M129.0 147.3h1.25M130.2 147.1h1.25M131.1 147.1h1.25M132.3 147.3h1.25M134.5 147.1h1.25M135.1 147.0h1.25M137.2 147.3h1.25M172.3 147.6h1.25M216.2 147.4h1.25M218.3 147.1h1.25M219.3 147.5h1.25M128.3 148.0h1.25M129.5 148.5h1.25M132.0 148.3h1.25M133.5 148.1h1.25M147.2 148.1h1.25M162.4 148.2h1.25M218.4 148.1h1.25M220.1 148.3h1.25M129.1 149.2h1.25M134.6 149.1h1.25M139.4 149.6h1.25M167.4 149.3h1.25M176.6 149.4h1.25M220.1 149.1h1.25M221.1 149.5h1.25M223.5 149.5h1.25M224.5 149.1h1.25M125.5 150.1h1.25M126.1 150.0h1.25M127.6 150.5h1.25M128.1 150.4h1.25M141.5 150.6h1.25M217.5 150.4h1.25M218.2 150.3h1.25M236.3 150.4h1.25M125.4 151.5h1.25M135.2 151.5h1.25M139.2 151.2h1.25M163.3 151.4h1.25M172.2 151.4h1.25M217.2 151.2h1.25M122.3 152.4h1.25M123.6 152.2h1.25M124.1 152.5h1.25M125.3 152.2h1.25M126.5 152.3h1.25M127.4 152.3h1.25M218.4 152.4h1.25M219.6 152.5h1.25M222.3 152.2h1.25M223.0 152.5h1.25M237.5 152.1h1.25M121.5 153.3h1.25M123.1 153.1h1.25M218.0 153.5h1.25M220.4 153.1h1.25M221.6 153.5h1.25M222.3 153.1h1.25M120.6 154.1h1.25M121.5 154.2h1.25M125.2 154.4h1.25M127.2 154.4h1.25M131.6 154.2h1.25M133.3 154.2h1.25M164.4 154.3h1.25M227.5 154.1h1.25M119.1 155.3h1.25M120.4 155.6h1.25M121.3 155.2h1.25M123.2 155.3h1.25M176.0 155.0h1.25M216.1 155.6h1.25M221.6 155.1h1.25M236.1 155.1h1.25M118.6 156.1h1.25M119.3 156.2h1.25M217.3 156.3h1.25M219.1 156.2h1.25M220.1 156.3h1.25M221.0 156.0h1.25M116.1 157.3h1.25M221.1 157.6h1.25M223.2 157.3h1.25M235.0 157.0h1.25M119.4 158.2h1.25M120.4 158.3h1.25M121.5 158.0h1.25M122.6 158.3h1.25M170.4 158.3h1.25M175.4 158.5h1.25M217.4 158.1h1.25M218.0 158.4h1.25M219.0 158.1h1.25M229.2 158.5h1.25M234.3 158.3h1.25M115.1 159.3h1.25M160.1 159.2h1.25M218.1 159.3h1.25M220.1 159.2h1.25M221.3 159.4h1.25M228.1 159.2h1.25M233.2 159.4h1.25M234.3 159.3h1.25M116.4 160.5h1.25M122.3 160.4h1.25M135.3 160.3h1.25M216.6 160.2h1.25M217.0 160.5h1.25M226.2 160.2h1.25M229.5 160.1h1.25M232.1 160.2h1.25M233.5 160.5h1.25M234.3 160.3h1.25M235.3 160.6h1.25M236.4 160.1h1.25M112.5 161.3h1.25M114.3 161.4h1.25M116.2 161.0h1.25M117.1 161.3h1.25M118.3 161.4h1.25M123.2 161.1h1.25M170.4 161.2h1.25M216.3 161.1h1.25M219.1 161.5h1.25M220.5 161.5h1.25M221.2 161.2h1.25M225.1 161.3h1.25M226.5 161.3h1.25M228.1 161.0h1.25M229.4 161.5h1.25M230.5 161.0h1.25M232.4 161.4h1.25M233.6 161.2h1.25M234.2 161.4h1.25M237.4 161.6h1.25M111.4 162.2h1.25M112.5 162.0h1.25M113.3 162.0h1.25M114.0 162.2h1.25M217.1 162.5h1.25M218.3 162.1h1.25M219.0 162.1h1.25M224.3 162.1h1.25M225.5 162.3h1.25M226.1 162.2h1.25M228.4 162.2h1.25M229.3 162.4h1.25M230.2 162.3h1.25M231.3 162.6h1.25M232.5 162.2h1.25M233.1 162.3h1.25M235.5 162.4h1.25M111.6 163.5h1.25M112.6 163.3h1.25M115.5 163.4h1.25M118.4 163.3h1.25M219.6 163.5h1.25M233.1 163.6h1.25M234.3 163.3h1.25M237.4 163.0h1.25M111.6 164.1h1.25M117.3 164.3h1.25M214.2 164.3h1.25M216.6 164.5h1.25M218.0 164.5h1.25M220.5 164.3h1.25M227.4 164.4h1.25M228.4 164.1h1.25M229.3 164.4h1.25M230.4 164.0h1.25M231.2 164.2h1.25M232.5 164.5h1.25M233.4 164.5h1.25M234.2 164.6h1.25M236.5 164.5h1.25M237.5 164.1h1.25M109.1 165.2h1.25M110.4 165.0h1.25M111.1 165.6h1.25M142.3 165.3h1.25M213.1 165.2h1.25M217.5 165.4h1.25M221.5 165.1h1.25M222.5 165.6h1.25M226.5 165.6h1.25M229.6 165.4h1.25M230.3 165.3h1.25M231.1 165.1h1.25M232.6 165.4h1.25M233.1 165.1h1.25M234.0 165.1h1.25M237.2 165.6h1.25M108.2 166.1h1.25M109.1 166.4h1.25M213.3 166.4h1.25M214.1 166.2h1.25M218.5 166.4h1.25M219.5 166.6h1.25M220.6 166.6h1.25M228.2 166.2h1.25M230.6 166.3h1.25M232.3 166.4h1.25M233.1 166.6h1.25M234.5 166.4h1.25M235.2 166.4h1.25M107.1 167.2h1.25M108.4 167.3h1.25M113.6 167.4h1.25M128.4 167.3h1.25M140.5 167.6h1.25M220.4 167.3h1.25M224.2 167.3h1.25M225.0 167.4h1.25M226.3 167.3h1.25M227.5 167.3h1.25M229.4 167.1h1.25M230.2 167.4h1.25M231.1 167.5h1.25M233.2 167.6h1.25M234.4 167.4h1.25M107.4 168.4h1.25M119.2 168.1h1.25M176.4 168.2h1.25M181.1 168.5h1.25M216.6 168.5h1.25M218.5 168.3h1.25M219.1 168.0h1.25M224.4 168.2h1.25M228.3 168.5h1.25M229.3 168.2h1.25M230.6 168.6h1.25M231.5 168.0h1.25M232.0 168.5h1.25M233.2 168.1h1.25M234.1 168.1h1.25M235.4 168.2h1.25M236.3 168.3h1.25M109.3 169.4h1.25M153.5 169.5h1.25M220.1 169.1h1.25M229.5 169.2h1.25M230.5 169.4h1.25M232.3 169.5h1.25M233.2 169.0h1.25M234.4 169.2h1.25M235.1 169.0h1.25M105.5 170.2h1.25M107.6 170.3h1.25M136.2 170.0h1.25M213.1 170.3h1.25M215.4 170.5h1.25M216.5 170.2h1.25M217.5 170.5h1.25M218.6 170.3h1.25M230.4 170.1h1.25M231.3 170.0h1.25M233.5 170.4h1.25M234.4 170.0h1.25M235.1 170.0h1.25M236.3 170.1h1.25M106.5 171.0h1.25M109.5 171.1h1.25M110.2 171.5h1.25M214.2 171.5h1.25M222.4 171.5h1.25M231.6 171.5h1.25M232.2 171.5h1.25M233.6 171.4h1.25M234.3 171.2h1.25M236.2 171.3h1.25M104.0 172.3h1.25M105.1 172.3h1.25M137.3 172.5h1.25M146.3 172.3h1.25M210.4 172.1h1.25M213.3 172.6h1.25M214.5 172.3h1.25M215.2 172.2h1.25M216.4 172.2h1.25M221.3 172.1h1.25M230.5 172.1h1.25M232.6 172.6h1.25M233.2 172.3h1.25M234.0 172.1h1.25M104.4 173.3h1.25M106.1 173.3h1.25M118.2 173.0h1.25M151.6 173.2h1.25M205.4 173.0h1.25M208.5 173.3h1.25M211.2 173.3h1.25M213.5 173.5h1.25M214.1 173.0h1.25M220.1 173.2h1.25M229.5 173.4h1.25M231.5 173.6h1.25M232.5 173.2h1.25M233.5 173.6h1.25M236.4 173.3h1.25M103.0 174.5h1.25M105.4 174.1h1.25M123.5 174.2h1.25M146.2 174.0h1.25M183.5 174.1h1.25M207.2 174.3h1.25M208.1 174.5h1.25M209.3 174.1h1.25M211.5 174.2h1.25M212.5 174.3h1.25M215.1 174.6h1.25M222.4 174.5h1.25M228.5 174.3h1.25M229.0 174.1h1.25M230.3 174.3h1.25M231.1 174.6h1.25M232.2 174.5h1.25M233.6 174.5h1.25M103.1 175.2h1.25M104.5 175.3h1.25M128.2 175.2h1.25M192.5 175.0h1.25M194.5 175.2h1.25M197.5 175.2h1.25M209.4 175.2h1.25M213.1 175.4h1.25M220.2 175.4h1.25M224.3 175.4h1.25M226.3 175.5h1.25M227.2 175.3h1.25M228.3 175.2h1.25M229.1 175.5h1.25M230.2 175.2h1.25M231.6 175.5h1.25M232.2 175.4h1.25M233.3 175.1h1.25M102.3 176.0h1.25M103.0 176.1h1.25M104.2 176.0h1.25M139.3 176.2h1.25M194.1 176.2h1.25M199.2 176.1h1.25M201.6 176.6h1.25M208.2 176.4h1.25M209.6 176.4h1.25M210.1 176.0h1.25M211.2 176.6h1.25M221.6 176.4h1.25M223.5 176.1h1.25M228.4 176.3h1.25M229.4 176.4h1.25M230.5 176.6h1.25M231.6 176.4h1.25M232.1 176.5h1.25M102.4 177.3h1.25M104.1 177.2h1.25M105.3 177.3h1.25M116.3 177.1h1.25M123.2 177.0h1.25M195.5 177.6h1.25M199.1 177.5h1.25M203.3 177.6h1.25M205.1 177.4h1.25M206.4 177.4h1.25M207.2 177.2h1.25M208.6 177.1h1.25M209.3 177.3h1.25M224.3 177.3h1.25M225.1 177.4h1.25M226.1 177.2h1.25M227.3 177.3h1.25M228.2 177.1h1.25M229.2 177.2h1.25M230.5 177.0h1.25M231.6 177.3h1.25M101.1 178.2h1.25M145.3 178.3h1.25M190.3 178.4h1.25M195.3 178.2h1.25M198.6 178.0h1.25M204.5 178.1h1.25M207.6 178.4h1.25M221.1 178.4h1.25M222.6 178.4h1.25M223.3 178.2h1.25M224.2 178.0h1.25M225.4 178.5h1.25M226.6 178.3h1.25M229.6 178.3h1.25M230.2 178.4h1.25M231.4 178.2h1.25M132.5 179.2h1.25M140.5 179.0h1.25M144.2 179.4h1.25M191.6 179.6h1.25M192.6 179.3h1.25M197.6 179.6h1.25M200.6 179.3h1.25M201.5 179.5h1.25M203.4 179.5h1.25M204.5 179.3h1.25M207.5 179.3h1.25M215.4 179.0h1.25M220.3 179.3h1.25M222.0 179.5h1.25M224.0 179.4h1.25M226.6 179.1h1.25M228.3 179.1h1.25M229.1 179.5h1.25M230.0 179.6h1.25M231.5 179.2h1.25M233.1 179.3h1.25M101.0 180.5h1.25M117.4 180.3h1.25M119.5 180.2h1.25M131.2 180.4h1.25M135.5 180.4h1.25M142.1 180.0h1.25M143.4 180.1h1.25M190.2 180.4h1.25M191.3 180.4h1.25M192.6 180.2h1.25M198.0 180.5h1.25M199.5 180.2h1.25M200.2 180.1h1.25M201.1 180.3h1.25M202.4 180.0h1.25M218.6 180.2h1.25M221.3 180.3h1.25M222.2 180.5h1.25M223.1 180.2h1.25M225.1 180.3h1.25M226.5 180.3h1.25M227.5 180.2h1.25M228.6 180.4h1.25M229.0 180.2h1.25M230.6 180.3h1.25M233.4 180.2h1.25M235.4 180.1h1.25M101.5 181.1h1.25M102.5 181.1h1.25M105.4 181.6h1.25M106.1 181.3h1.25M124.5 181.4h1.25M125.0 181.1h1.25M126.1 181.2h1.25M129.3 181.4h1.25M139.4 181.4h1.25M140.4 181.0h1.25M141.5 181.4h1.25M144.4 181.3h1.25M190.5 181.4h1.25M192.0 181.1h1.25M196.3 181.4h1.25M197.5 181.6h1.25M198.6 181.0h1.25M203.3 181.0h1.25M221.1 181.5h1.25M222.1 181.5h1.25M223.1 181.5h1.25M224.2 181.4h1.25M225.1 181.5h1.25M226.1 181.6h1.25M227.4 181.2h1.25M228.1 181.4h1.25M230.2 181.0h1.25M100.1 182.6h1.25M101.3 182.6h1.25M103.0 182.4h1.25M104.2 182.5h1.25M124.1 182.2h1.25M126.1 182.1h1.25M136.2 182.2h1.25M138.5 182.1h1.25M140.1 182.1h1.25M141.4 182.2h1.25M142.2 182.5h1.25M143.5 182.5h1.25M144.3 182.3h1.25M145.5 182.4h1.25M197.3 182.2h1.25M199.1 182.3h1.25M204.2 182.6h1.25M215.3 182.4h1.25M223.5 182.1h1.25M224.3 182.5h1.25M226.1 182.5h1.25M227.4 182.6h1.25M228.0 182.2h1.25M102.2 183.4h1.25M128.5 183.5h1.25M131.3 183.5h1.25M132.2 183.3h1.25M135.3 183.4h1.25M136.3 183.6h1.25M137.0 183.6h1.25M140.3 183.1h1.25M141.2 183.4h1.25M142.1 183.4h1.25M143.0 183.6h1.25M146.5 183.1h1.25M193.2 183.3h1.25M200.5 183.5h1.25M222.2 183.5h1.25M227.5 183.5h1.25M228.5 183.4h1.25M100.4 184.3h1.25M101.6 184.4h1.25M122.4 184.4h1.25M127.4 184.3h1.25M128.1 184.5h1.25M129.4 184.4h1.25M130.6 184.5h1.25M131.0 184.3h1.25M133.4 184.1h1.25M136.3 184.2h1.25M137.3 184.4h1.25M138.1 184.4h1.25M140.5 184.3h1.25M145.1 184.5h1.25M202.1 184.1h1.25M206.4 184.1h1.25M224.3 184.5h1.25M226.1 184.5h1.25M227.1 184.1h1.25M228.2 184.3h1.25M232.4 184.2h1.25M100.5 185.4h1.25M101.2 185.4h1.25M102.4 185.5h1.25M125.2 185.4h1.25M127.6 185.4h1.25M128.0 185.2h1.25M129.3 185.3h1.25M130.0 185.0h1.25M132.5 185.0h1.25M134.6 185.3h1.25M135.6 185.4h1.25M137.2 185.5h1.25M205.1 185.2h1.25M219.3 185.2h1.25M226.1 185.2h1.25M227.4 185.3h1.25M228.4 185.3h1.25M99.5 186.3h1.25M100.6 186.4h1.25M104.6 186.3h1.25M123.4 186.2h1.25M125.2 186.5h1.25M129.0 186.6h1.25M130.3 186.3h1.25M131.3 186.3h1.25M132.2 186.4h1.25M133.1 186.0h1.25M199.3 186.0h1.25M220.3 186.5h1.25M222.1 186.1h1.25M223.1 186.1h1.25M226.4 186.6h1.25M100.4 187.5h1.25M103.5 187.0h1.25M124.1 187.4h1.25M126.2 187.5h1.25M127.2 187.5h1.25M129.0 187.6h1.25M130.3 187.1h1.25M131.2 187.3h1.25M138.4 187.4h1.25M192.5 187.1h1.25M212.2 187.2h1.25M225.2 187.3h1.25M99.2 188.2h1.25M100.6 188.5h1.25M101.2 188.6h1.25M115.3 188.1h1.25M124.4 188.3h1.25M127.4 188.1h1.25M219.0 188.1h1.25M222.5 188.3h1.25M223.4 188.6h1.25M224.3 188.5h1.25M99.2 189.0h1.25M101.4 189.3h1.25M105.5 189.3h1.25M118.3 189.3h1.25M121.3 189.5h1.25M126.1 189.2h1.25M127.2 189.4h1.25M222.5 189.5h1.25M223.1 189.6h1.25M224.5 189.2h1.25M98.2 190.0h1.25M99.5 190.3h1.25M101.2 190.0h1.25M131.3 190.4h1.25M211.6 190.6h1.25M223.1 190.2h1.25M99.5 191.5h1.25M116.6 191.2h1.25M119.4 191.3h1.25M120.6 191.4h1.25M123.3 191.5h1.25M124.0 191.2h1.25M125.2 191.4h1.25M132.2 191.5h1.25M199.2 191.0h1.25M212.4 191.2h1.25M219.2 191.6h1.25M221.1 191.0h1.25M98.5 192.2h1.25M116.2 192.3h1.25M120.5 192.2h1.25M121.5 192.4h1.25M122.4 192.6h1.25M123.4 192.3h1.25M126.4 192.5h1.25M221.5 192.3h1.25M222.5 192.5h1.25M98.1 193.0h1.25M99.3 193.1h1.25M101.1 193.3h1.25M116.3 193.2h1.25M120.3 193.5h1.25M122.1 193.1h1.25M125.4 193.3h1.25M213.3 193.5h1.25M219.5 193.2h1.25M220.1 193.4h1.25M222.1 193.2h1.25M98.6 194.3h1.25M105.2 194.4h1.25M113.2 194.2h1.25M116.5 194.4h1.25M118.0 194.3h1.25M119.5 194.5h1.25M121.2 194.2h1.25M125.6 194.6h1.25M126.3 194.0h1.25M197.4 194.2h1.25M217.2 194.6h1.25M218.5 194.4h1.25M219.1 194.4h1.25M117.1 195.1h1.25M118.4 195.0h1.25M119.5 195.2h1.25M126.6 195.4h1.25M195.3 195.1h1.25M210.4 195.1h1.25M211.4 195.3h1.25M213.2 195.2h1.25M215.2 195.3h1.25M217.0 195.6h1.25M218.2 195.0h1.25M97.5 196.3h1.25M215.4 196.1h1.25M216.0 196.5h1.25M217.4 196.6h1.25M224.1 196.2h1.25M110.1 197.4h1.25M115.5 197.4h1.25M116.6 197.4h1.25M117.2 197.2h1.25M118.4 197.3h1.25M121.4 197.1h1.25M122.2 197.3h1.25M189.2 197.3h1.25M205.0 197.2h1.25M213.1 197.2h1.25M214.6 197.1h1.25M216.2 197.5h1.25M217.4 197.3h1.25M221.1 197.3h1.25M222.3 197.4h1.25M115.0 198.3h1.25M116.3 198.2h1.25M119.2 198.3h1.25M216.5 198.2h1.25M221.3 198.3h1.25M113.3 199.2h1.25M114.1 199.4h1.25M116.5 199.4h1.25M197.6 199.5h1.25M209.5 199.2h1.25M221.1 199.1h1.25M97.1 200.2h1.25M112.3 200.2h1.25M114.1 200.4h1.25M117.2 200.2h1.25M119.3 200.1h1.25M214.1 200.1h1.25M221.1 200.5h1.25M113.1 201.4h1.25M115.4 201.3h1.25M116.2 201.0h1.25M117.5 201.3h1.25M167.1 201.2h1.25M207.2 201.1h1.25M211.4 201.3h1.25M212.0 201.6h1.25M213.4 201.2h1.25M219.5 201.5h1.25M220.4 201.1h1.25M221.6 201.5h1.25M97.1 202.4h1.25M98.6 202.5h1.25M112.4 202.0h1.25M114.2 202.2h1.25M115.4 202.5h1.25M117.2 202.4h1.25M164.3 202.4h1.25M195.4 202.4h1.25M211.6 202.4h1.25M220.0 202.5h1.25M97.3 203.0h1.25M98.0 203.4h1.25M99.1 203.1h1.25M111.3 203.3h1.25M112.2 203.1h1.25M113.0 203.3h1.25M116.1 203.4h1.25M159.2 203.5h1.25M209.3 203.4h1.25M210.2 203.1h1.25M214.4 203.4h1.25M218.2 203.4h1.25M219.3 203.4h1.25M97.3 204.6h1.25M98.4 204.4h1.25M111.2 204.3h1.25M112.3 204.2h1.25M200.4 204.1h1.25M210.1 204.3h1.25M211.5 204.4h1.25M212.1 204.6h1.25M213.2 204.0h1.25M215.3 204.1h1.25M216.2 204.5h1.25M217.1 204.1h1.25M218.1 204.5h1.25M219.4 204.3h1.25M97.5 205.2h1.25M108.2 205.2h1.25M109.2 205.3h1.25M110.4 205.0h1.25M111.5 205.3h1.25M112.3 205.1h1.25M116.5 205.5h1.25M200.6 205.6h1.25M210.6 205.4h1.25M211.1 205.4h1.25M214.4 205.2h1.25M216.2 205.1h1.25M217.2 205.1h1.25M97.3 206.5h1.25M99.4 206.6h1.25M109.1 206.1h1.25M111.1 206.5h1.25M113.6 206.4h1.25M114.2 206.0h1.25M206.4 206.3h1.25M207.5 206.5h1.25M208.1 206.6h1.25M209.1 206.5h1.25M216.5 206.1h1.25M97.6 207.3h1.25M98.1 207.4h1.25M100.2 207.3h1.25M110.2 207.2h1.25M111.0 207.2h1.25M113.2 207.4h1.25M115.4 207.3h1.25M207.3 207.3h1.25M208.2 207.4h1.25M209.1 207.1h1.25M215.1 207.1h1.25M97.1 208.0h1.25M110.2 208.2h1.25M111.2 208.1h1.25M112.5 208.4h1.25M206.1 208.3h1.25M207.0 208.5h1.25M208.4 208.2h1.25M210.3 208.1h1.25M211.3 208.4h1.25M98.4 209.2h1.25M103.0 209.4h1.25M110.2 209.6h1.25M111.3 209.4h1.25M112.4 209.1h1.25M113.6 209.5h1.25M114.3 209.5h1.25M115.1 209.0h1.25M156.4 209.5h1.25M201.4 209.0h1.25M207.1 209.2h1.25M209.1 209.6h1.25M210.4 209.5h1.25M211.3 209.1h1.25M212.5 209.6h1.25M99.6 210.0h1.25M111.6 210.4h1.25M112.0 210.4h1.25M191.4 210.5h1.25M206.1 210.5h1.25M208.3 210.3h1.25M110.4 211.3h1.25M111.2 211.4h1.25M112.4 211.5h1.25M113.1 211.4h1.25M114.5 211.2h1.25M152.2 211.2h1.25M191.5 211.4h1.25M195.1 211.2h1.25M200.6 211.3h1.25M203.1 211.4h1.25M204.2 211.6h1.25M205.2 211.1h1.25M209.4 211.4h1.25M98.1 212.4h1.25M99.5 212.2h1.25M104.1 212.2h1.25M109.5 212.1h1.25M110.3 212.3h1.25M111.2 212.5h1.25M112.1 212.3h1.25M113.5 212.4h1.25M114.2 212.3h1.25M154.5 212.2h1.25M203.3 212.1h1.25M204.5 212.3h1.25M205.1 212.2h1.25M208.0 212.2h1.25M99.6 213.2h1.25M100.5 213.3h1.25M101.4 213.0h1.25M102.4 213.3h1.25M110.1 213.6h1.25M195.1 213.5h1.25M196.5 213.5h1.25M197.5 213.4h1.25M199.2 213.4h1.25M201.3 213.5h1.25M203.3 213.4h1.25M205.4 213.6h1.25M206.6 213.2h1.25M102.0 214.2h1.25M110.5 214.6h1.25M111.3 214.2h1.25M113.5 214.2h1.25M188.4 214.3h1.25M196.4 214.0h1.25M199.6 214.0h1.25M200.2 214.2h1.25M201.5 214.2h1.25M202.1 214.3h1.25M203.5 214.2h1.25M100.5 215.6h1.25M105.4 215.0h1.25M107.1 215.5h1.25M110.1 215.4h1.25M111.4 215.3h1.25M114.1 215.4h1.25M188.4 215.1h1.25M195.5 215.4h1.25M196.6 215.2h1.25M197.3 215.3h1.25M198.0 215.3h1.25M199.0 215.5h1.25M200.2 215.0h1.25M201.3 215.3h1.25M202.6 215.4h1.25M204.3 215.4h1.25M102.1 216.2h1.25M106.1 216.3h1.25M107.2 216.4h1.25M109.2 216.4h1.25M110.4 216.1h1.25M111.6 216.3h1.25M112.4 216.2h1.25M155.4 216.5h1.25M184.4 216.5h1.25M194.4 216.5h1.25M195.5 216.3h1.25M197.3 216.4h1.25M198.4 216.2h1.25M199.4 216.5h1.25M200.2 216.2h1.25M201.3 216.4h1.25M103.4 217.5h1.25M104.3 217.2h1.25M109.5 217.0h1.25M110.3 217.1h1.25M111.0 217.1h1.25M112.3 217.4h1.25M163.4 217.1h1.25M194.2 217.4h1.25M195.2 217.5h1.25M196.5 217.1h1.25M197.1 217.1h1.25M199.4 217.4h1.25M102.6 218.4h1.25M111.2 218.4h1.25M113.1 218.1h1.25M114.5 218.4h1.25M178.1 218.5h1.25M182.1 218.2h1.25M184.2 218.0h1.25M186.2 218.2h1.25M187.1 218.4h1.25M189.2 218.3h1.25M191.1 218.1h1.25M192.5 218.2h1.25M194.2 218.3h1.25M195.1 218.5h1.25M196.0 218.3h1.25M103.0 219.1h1.25M106.0 219.2h1.25M110.3 219.0h1.25M111.2 219.6h1.25M112.6 219.4h1.25M113.2 219.4h1.25M171.6 219.4h1.25M175.3 219.0h1.25M180.2 219.2h1.25M185.1 219.1h1.25M187.5 219.0h1.25M188.0 219.0h1.25M189.5 219.4h1.25M190.5 219.3h1.25M191.1 219.2h1.25M192.1 219.0h1.25M193.1 219.4h1.25M103.5 220.1h1.25M109.0 220.3h1.25M110.2 220.4h1.25M111.4 220.2h1.25M112.1 220.3h1.25M160.2 220.2h1.25M184.3 220.1h1.25M186.3 220.5h1.25M187.1 220.6h1.25M188.6 220.3h1.25M189.5 220.2h1.25M190.2 220.1h1.25M104.6 221.5h1.25M105.2 221.2h1.25M108.0 221.4h1.25M114.1 221.2h1.25M115.3 221.5h1.25M174.2 221.4h1.25M180.5 221.5h1.25M181.4 221.2h1.25M182.5 221.1h1.25M184.2 221.1h1.25M186.0 221.0h1.25M187.5 221.4h1.25M188.5 221.5h1.25M189.4 221.1h1.25M104.4 222.4h1.25M110.2 222.4h1.25M112.5 222.0h1.25M113.2 222.4h1.25M117.6 222.3h1.25M182.2 222.3h1.25M183.0 222.1h1.25M184.1 222.0h1.25M185.4 222.3h1.25M186.4 222.0h1.25M105.5 223.1h1.25M107.1 223.3h1.25M112.1 223.6h1.25M113.4 223.1h1.25M114.5 223.1h1.25M115.6 223.3h1.25M116.4 223.4h1.25M178.4 223.3h1.25M181.1 223.5h1.25M182.3 223.4h1.25M184.3 223.1h1.25M106.2 224.0h1.25M107.2 224.5h1.25M108.1 224.2h1.25M109.3 224.1h1.25M110.0 224.4h1.25M112.3 224.0h1.25M113.3 224.1h1.25M114.2 224.2h1.25M116.5 224.0h1.25M117.2 224.3h1.25M169.1 224.1h1.25M171.6 224.3h1.25M175.4 224.2h1.25M107.1 225.1h1.25M108.4 225.2h1.25M115.1 225.2h1.25M118.3 225.1h1.25M157.5 225.4h1.25M172.6 225.1h1.25M173.4 225.3h1.25M177.5 225.3h1.25M178.1 225.5h1.25M108.0 226.4h1.25M109.2 226.4h1.25M110.0 226.1h1.25M111.2 226.5h1.25M112.5 226.2h1.25M114.5 226.1h1.25M115.4 226.4h1.25M116.2 226.5h1.25M118.4 226.4h1.25M119.5 226.4h1.25M165.5 226.5h1.25M168.6 226.4h1.25M170.1 226.3h1.25M171.1 226.5h1.25M174.3 226.5h1.25M175.4 226.4h1.25M177.5 226.4h1.25M110.4 227.5h1.25M111.4 227.3h1.25M113.2 227.3h1.25M114.5 227.5h1.25M115.1 227.5h1.25M117.3 227.4h1.25M122.2 227.4h1.25M173.6 227.2h1.25M112.5 228.6h1.25M113.0 228.1h1.25M115.6 228.1h1.25M116.4 228.2h1.25M117.3 228.2h1.25M119.2 228.3h1.25M120.3 228.2h1.25M122.2 228.5h1.25M167.3 228.4h1.25M168.3 228.1h1.25M169.1 228.2h1.25M170.3 228.4h1.25M113.1 229.3h1.25M115.4 229.3h1.25M116.1 229.1h1.25M117.3 229.3h1.25M118.1 229.3h1.25M121.6 229.3h1.25M122.6 229.4h1.25M162.4 229.1h1.25M163.5 229.5h1.25M165.4 229.1h1.25M169.4 229.6h1.25M117.4 230.4h1.25M118.3 230.3h1.25M119.4 230.3h1.25M120.1 230.1h1.25M121.3 230.1h1.25M160.5 230.4h1.25M165.1 230.1h1.25M167.3 230.3h1.25M117.3 231.4h1.25M118.3 231.5h1.25M119.5 231.1h1.25M120.3 231.4h1.25M122.0 231.2h1.25M123.5 231.6h1.25M124.2 231.6h1.25M125.6 231.5h1.25M128.1 231.1h1.25M129.5 231.1h1.25M130.2 231.5h1.25M132.1 231.3h1.25M161.3 231.3h1.25M162.4 231.5h1.25M163.4 231.2h1.25M164.2 231.2h1.25M165.2 231.5h1.25M166.4 231.3h1.25M119.1 232.5h1.25M120.1 232.4h1.25M121.2 232.4h1.25M122.3 232.2h1.25M123.5 232.3h1.25M124.5 232.2h1.25M125.2 232.3h1.25M126.2 232.3h1.25M128.3 232.0h1.25M131.2 232.1h1.25M145.6 232.5h1.25M152.0 232.2h1.25M162.0 232.1h1.25M163.2 232.6h1.25M122.0 233.5h1.25M123.6 233.2h1.25M124.2 233.6h1.25M125.6 233.4h1.25M126.3 233.5h1.25M127.5 233.2h1.25M128.6 233.1h1.25M129.0 233.3h1.25M131.6 233.2h1.25M140.5 233.3h1.25M161.6 233.2h1.25M123.5 234.4h1.25M124.3 234.4h1.25M125.3 234.5h1.25M126.3 234.4h1.25M127.1 234.1h1.25M128.4 234.4h1.25M130.2 234.5h1.25M131.1 234.3h1.25M135.2 234.0h1.25M137.1 234.1h1.25M150.3 234.4h1.25M151.0 234.2h1.25M157.2 234.5h1.25M126.3 235.1h1.25M127.3 235.0h1.25M128.5 235.3h1.25M129.0 235.0h1.25M130.4 235.3h1.25M131.2 235.0h1.25M140.6 235.3h1.25M145.4 235.4h1.25M151.0 235.2h1.25M154.0 235.1h1.25M156.4 235.2h1.25M157.2 235.1h1.25M158.1 235.5h1.25M159.2 235.1h1.25M129.1 236.6h1.25M130.3 236.2h1.25M131.4 236.2h1.25M133.1 236.3h1.25M136.2 236.4h1.25M137.4 236.1h1.25M149.3 236.6h1.25M151.2 236.1h1.25M131.6 237.4h1.25M132.3 237.5h1.25M133.1 237.2h1.25M134.0 237.2h1.25M135.2 237.3h1.25M136.6 237.1h1.25M138.4 237.4h1.25M146.6 237.4h1.25M147.1 237.5h1.25M148.4 237.5h1.25M151.1 237.5h1.25M152.1 237.1h1.25M153.5 237.5h1.25M155.3 237.1h1.25M135.1 238.2h1.25M138.4 238.4h1.25M139.2 238.4h1.25M140.2 238.1h1.25M141.5 238.6h1.25M143.2 238.0h1.25M144.6 238.3h1.25M146.4 238.4h1.25M148.0 238.1h1.25M149.1 238.2h1.25M150.2 238.5h1.25M151.1 238.4h1.25M142.3 239.5h1.25M143.5 239.1h1.25M145.2 239.5h1.25M147.4 239.5h1.25" stroke="#000" stroke-width="1.25" fill="none"/>
<path d="M97.2,204.0L97.3,202.6L97.4,200.9L97.6,199.0L97.8,197.0L98.1,194.9L98.5,192.8L98.9,190.6L99.3,188.5L99.7,186.5L100.1,184.6L100.6,182.8L101.0,181.2L101.4,179.8L101.9,178.5L102.3,177.3L102.8,176.2L103.2,175.1L103.7,174.1L104.2,173.1L104.8,172.2L105.3,171.3L105.9,170.3L106.5,169.4L107.2,168.5L107.8,167.5L108.4,166.7L109.1,165.9L109.8,165.0L110.5,164.2L111.2,163.5L112.0,162.7L112.7,161.9L113.6,161.1L114.4,160.3L115.2,159.5L116.1,158.7L117.0,157.9L117.8,157.0L118.7,156.2L119.6,155.4L120.6,154.6L121.5,153.8L122.5,153.0L123.4,152.2L124.4,151.4L125.4,150.6L126.4,149.9L127.5,149.1L128.6,148.4L129.7,147.6L130.8,146.9L131.9,146.2L133.0,145.5L134.2,144.7L135.3,144.1L136.5,143.4L137.8,142.7L139.0,142.0L140.3,141.4L141.7,140.8L143.1,140.1L144.5,139.5L145.9,138.9L147.4,138.3L148.9,137.8L150.5,137.2L152.1,136.7L153.7,136.1L155.4,135.6L157.1,135.0L158.9,134.5L160.7,134.0L162.6,133.5L164.6,133.0L166.8,132.5L169.0,131.9L171.2,131.4L173.5,130.9L175.7,130.5L177.9,130.0L180.1,129.6L182.1,129.2L184.0,128.9L185.7,128.6L187.3,128.3L188.8,128.0L190.1,127.8L191.2,127.6L192.3,127.5L193.4,127.4L194.4,127.3L195.4,127.2L196.4,127.2L197.5,127.1L198.6,127.2L199.9,127.2L201.2,127.3L202.6,127.4L204.1,127.6L205.7,127.8L207.2,128.0L208.8,128.2L210.4,128.5L211.9,128.8L213.4,129.1L214.8,129.4L216.1,129.7L217.4,130.0L218.5,130.3L219.5,130.6L220.5,130.9L221.5,131.2L222.4,131.6L223.2,131.9L224.0,132.2L224.8,132.6L225.5,133.0L226.2,133.4L226.9,133.8L227.6,134.2L228.3,134.6L228.9,135.1L229.5,135.5L230.1,136.0L230.6,136.5L231.1,137.0L231.6,137.5L232.1,138.0L232.5,138.6L233.0,139.2L233.4,139.8L233.8,140.4L234.1,141.0L234.5,141.6L234.8,142.3L235.1,143.0L235.4,143.8L235.7,144.6L235.9,145.4L236.1,146.2L236.4,147.0L236.6,147.8L236.8,148.7L237.0,149.5L237.1,150.4L237.3,151.2L237.4,152.0L237.5,152.9L237.6,153.7L237.7,154.6L237.8,155.5L237.8,156.4L237.9,157.2L237.9,158.1L237.9,159.0L237.9,159.9L237.9,160.8L237.8,161.8L237.8,162.7L237.7,163.6L237.6,164.5L237.4,165.5L237.3,166.5L237.2,167.4L237.0,168.4L236.8,169.4L236.6,170.5L236.4,171.6L236.3,172.7L236.1,173.8L236.0,174.9L235.8,176.0L235.7,177.0L235.5,178.1L235.3,179.1L235.1,180.1L234.8,181.2L234.5,182.3L234.0,183.4L233.5,184.5L232.8,185.8L232.0,187.2L231.2,188.6L230.2,190.1L229.2,191.6L228.1,193.1L227.0,194.6L225.9,196.1L224.7,197.6L223.6,199.0L222.4,200.4L221.3,201.6L220.2,202.8L219.0,204.0L217.8,205.1L216.7,206.2L215.5,207.3L214.3,208.3L213.0,209.3L211.8,210.3L210.5,211.2L209.2,212.1L208.0,213.0L206.7,213.8L205.3,214.5L204.0,215.2L202.7,215.9L201.3,216.5L199.8,217.1L198.4,217.7L196.9,218.3L195.4,218.8L193.9,219.4L192.4,220.0L190.8,220.6L189.3,221.2L187.8,221.8L186.3,222.4L184.8,223.0L183.3,223.6L181.7,224.2L180.2,224.8L178.6,225.4L177.1,226.0L175.5,226.6L174.0,227.3L172.4,228.0L170.9,228.6L169.4,229.4L167.8,230.2L166.3,231.1L164.8,231.9L163.4,232.8L162.0,233.6L160.6,234.4L159.2,235.2L157.9,235.9L156.6,236.6L155.4,237.1L154.2,237.5L153.0,237.9L151.8,238.2L150.6,238.5L149.4,238.7L148.3,238.9L147.2,239.0L146.1,239.1L144.9,239.1L143.8,239.1L142.6,239.1L141.5,239.0L140.3,238.9L139.1,238.8L137.9,238.6L136.7,238.4L135.5,238.1L134.3,237.8L133.1,237.4L131.8,237.0L130.6,236.6L129.3,236.1L128.0,235.6L126.6,235.1L125.3,234.6L123.8,234.0L122.4,233.4L120.8,232.8L119.3,232.1L117.7,231.4L116.2,230.7L114.7,230.0L113.2,229.2L111.8,228.5L110.5,227.7L109.4,226.9L108.3,226.2L107.4,225.4L106.5,224.5L105.7,223.7L105.0,222.8L104.3,221.8L103.6,220.9L103.0,219.9L102.4,218.9L101.9,217.9L101.4,216.9L100.8,215.8L100.3,214.8L99.8,213.8L99.4,212.9L98.9,212.1L98.6,211.3L98.2,210.6L98.0,209.9L97.7,209.1L97.5,208.3L97.4,207.4L97.3,206.4L97.2,205.3Z" fill="none" stroke="#000" stroke-width="1.0"/>
<path d="M232.5,158.5C234.1,158.2 236.1,160.8 236.5,163.0C236.9,165.2 236.1,169.2 235.0,172.0C233.9,174.8 232.0,177.8 230.0,180.0C228.0,182.2 224.8,184.7 223.0,185.0C221.2,185.3 219.7,184.0 219.5,182.0C219.3,180.0 220.8,175.8 222.0,173.0C223.2,170.2 225.2,167.4 227.0,165.0C228.8,162.6 230.9,158.8 232.5,158.5Z" fill="none" stroke="#000" stroke-width="1.3"/>
<circle cx="224.5" cy="166" r="1.6" fill="#fff"/>
<circle cx="222.5" cy="177.5" r="1.5" fill="#fff"/>
<circle cx="230" cy="163" r="1.3" fill="#fff"/>
<circle cx="219" cy="183" r="1.2" fill="#fff"/>
<circle cx="228" cy="176" r="1.2" fill="#fff"/>
<path d="M125.6,190.0C127.2,189.2 131.6,186.7 135.0,185.5C138.4,184.3 144.2,183.4 146.0,183.0" fill="none" stroke="#000" stroke-width="1.1"/>
<path d="M191.9,181.0C190.4,181.5 184.5,183.5 183.0,184.0" fill="none" stroke="#000" stroke-width="1.1"/>
<path d="M189.0,187.5C190.8,187.2 196.2,187.0 200.0,186.0C203.8,185.0 208.3,183.4 212.0,181.5C215.7,179.6 219.2,177.1 222.0,174.5C224.8,171.9 227.8,167.4 229.0,166.0" fill="none" stroke="#000" stroke-width="1.1"/>
<path d="M186.0,224.0C188.3,222.7 195.7,219.3 200.0,216.0C204.3,212.7 208.3,208.0 212.0,204.0C215.7,200.0 219.0,195.8 222.0,192.0C225.0,188.2 228.0,184.7 230.0,181.0C232.0,177.3 233.2,173.5 234.0,170.0C234.8,166.5 234.8,161.7 235.0,160.0" fill="none" stroke="#000" stroke-width="1.1"/>
<circle cx="196.5" cy="156" r="17.5" fill="#fff" stroke="#000" stroke-width="1.4"/>
<path d="M209.0,134.3A25.0,25.0 0 0,1 190.0,180.1" fill="none" stroke="#000" stroke-width="1.4"/>
<circle cx="134" cy="213" r="17" fill="#fff" stroke="#000" stroke-width="1.4"/>
<path d="M131.9,236.9A24.0,24.0 0 0,1 125.8,190.4" fill="none" stroke="#000" stroke-width="1.4"/>
<circle cx="101" cy="198.4" r="3" fill="#fff" stroke="#000" stroke-width="1.1"/>
<circle cx="226.5" cy="171.5" r="2.4" fill="#fff" stroke="#000" stroke-width="1.1"/>
<circle cx="150.6" cy="159" r="8" fill="#000"/><circle cx="150.6" cy="159" r="6.60" fill="#fff"/><path d="M149.2 152.4h1.1M151.3 152.4h1.1M148.4 153.1h1.1M150.2 153.2h1.1M149.3 154.2h1.1M151.4 154.4h1.1M152.3 154.2h1.1M148.0 155.1h1.1M149.1 155.0h1.1M150.3 155.3h1.1M151.3 155.2h1.1M153.1 155.2h1.1M154.1 155.2h1.1M155.1 155.3h1.1M144.3 156.1h1.1M145.3 156.3h1.1M146.2 156.3h1.1M150.2 156.1h1.1M151.3 156.3h1.1M154.4 156.2h1.1M156.2 156.2h1.1M146.3 157.2h1.1M148.4 157.4h1.1M149.3 157.3h1.1M152.2 157.4h1.1M153.2 157.3h1.1M154.1 157.3h1.1M155.3 157.2h1.1M144.1 158.3h1.1M145.3 158.1h1.1M146.1 158.2h1.1M150.3 158.2h1.1M151.2 158.3h1.1M152.0 158.4h1.1M154.1 158.4h1.1M156.3 158.4h1.1M144.1 159.0h1.1M146.0 159.4h1.1M147.0 159.4h1.1M149.3 159.4h1.1M150.2 159.3h1.1M155.4 159.1h1.1M156.0 159.3h1.1M145.2 160.4h1.1M146.2 160.3h1.1M147.1 160.1h1.1M149.0 160.1h1.1M151.4 160.4h1.1M152.3 160.0h1.1M153.3 160.3h1.1M156.2 160.1h1.1M144.3 161.1h1.1M150.1 161.3h1.1M151.4 161.3h1.1M153.4 161.2h1.1M154.3 161.1h1.1M156.3 161.2h1.1M145.1 162.4h1.1M146.2 162.0h1.1M148.0 162.2h1.1M149.1 162.3h1.1M150.4 162.4h1.1M152.4 162.2h1.1M154.0 162.2h1.1M146.1 163.1h1.1M148.2 163.1h1.1M149.0 163.4h1.1M150.2 163.3h1.1M153.4 163.3h1.1M150.2 164.1h1.1M152.2 164.2h1.1M153.0 164.2h1.1M149.1 165.2h1.1M150.2 165.2h1.1M151.1 165.2h1.1" stroke="#000" stroke-width="1.1" fill="none"/>
<circle cx="179" cy="208.5" r="8.5" fill="#000"/><circle cx="179" cy="208.5" r="7.10" fill="#fff"/><path d="M178.2 201.3h1.1M175.2 202.2h1.1M181.1 202.0h1.1M182.1 202.1h1.1M174.0 203.3h1.1M175.3 203.4h1.1M176.2 203.1h1.1M177.3 203.0h1.1M179.4 203.4h1.1M180.2 203.2h1.1M181.1 203.2h1.1M182.1 203.2h1.1M183.2 203.0h1.1M174.2 204.1h1.1M175.2 204.2h1.1M177.1 204.3h1.1M183.0 204.0h1.1M174.3 205.1h1.1M176.1 205.1h1.1M177.3 205.2h1.1M179.3 205.0h1.1M180.2 205.3h1.1M183.4 205.4h1.1M173.3 206.2h1.1M175.3 206.2h1.1M181.0 206.1h1.1M183.1 206.1h1.1M185.1 206.0h1.1M173.3 207.1h1.1M176.2 207.2h1.1M177.2 207.1h1.1M179.0 207.2h1.1M180.1 207.1h1.1M182.2 207.2h1.1M184.1 207.1h1.1M185.3 207.4h1.1M173.1 208.2h1.1M176.3 208.2h1.1M177.1 208.1h1.1M178.1 208.3h1.1M179.0 208.2h1.1M181.2 208.1h1.1M182.1 208.4h1.1M185.4 208.0h1.1M172.1 209.2h1.1M174.1 209.4h1.1M175.2 209.3h1.1M176.1 209.1h1.1M177.3 209.0h1.1M178.1 209.3h1.1M179.2 209.2h1.1M181.1 209.0h1.1M184.1 209.1h1.1M185.1 209.2h1.1M173.2 210.2h1.1M174.0 210.2h1.1M175.4 210.1h1.1M177.4 210.1h1.1M181.1 210.3h1.1M182.3 210.1h1.1M184.3 210.2h1.1M185.3 210.3h1.1M174.1 211.3h1.1M175.2 211.2h1.1M176.3 211.2h1.1M177.2 211.2h1.1M178.2 211.4h1.1M179.2 211.2h1.1M180.2 211.1h1.1M181.3 211.0h1.1M184.3 211.2h1.1M173.1 212.0h1.1M174.4 212.1h1.1M176.1 212.0h1.1M177.1 212.2h1.1M178.1 212.1h1.1M179.2 212.3h1.1M174.3 213.2h1.1M175.1 213.2h1.1M176.3 213.3h1.1M180.1 213.0h1.1M175.0 214.2h1.1M176.0 214.3h1.1M177.3 214.3h1.1M178.2 214.0h1.1M180.3 214.0h1.1M179.0 215.3h1.1" stroke="#000" stroke-width="1.1" fill="none"/>
<path d="M166.9,178.3a3.0,3.0 0 1,0 6.0,0a3.0,3.0 0 1,0 -6.0,0M159.6,175.3a3.0,3.0 0 1,0 6.0,0a3.0,3.0 0 1,0 -6.0,0M156.3,190.0a3.0,3.0 0 1,0 6.0,0a3.0,3.0 0 1,0 -6.0,0M144.4,185.7a3.0,3.0 0 1,0 6.0,0a3.0,3.0 0 1,0 -6.0,0M161.5,169.1a3.0,3.0 0 1,0 6.0,0a3.0,3.0 0 1,0 -6.0,0M146.6,189.8a3.0,3.0 0 1,0 6.0,0a3.0,3.0 0 1,0 -6.0,0M179.3,183.7a3.0,3.0 0 1,0 6.0,0a3.0,3.0 0 1,0 -6.0,0M171.5,190.8a3.0,3.0 0 1,0 6.0,0a3.0,3.0 0 1,0 -6.0,0M173.7,170.7a3.0,3.0 0 1,0 6.0,0a3.0,3.0 0 1,0 -6.0,0M163.6,181.2a3.0,3.0 0 1,0 6.0,0a3.0,3.0 0 1,0 -6.0,0M163.4,197.6a3.0,3.0 0 1,0 6.0,0a3.0,3.0 0 1,0 -6.0,0M163.7,173.1a3.0,3.0 0 1,0 6.0,0a3.0,3.0 0 1,0 -6.0,0M172.4,196.9a3.0,3.0 0 1,0 6.0,0a3.0,3.0 0 1,0 -6.0,0M153.1,194.1a3.0,3.0 0 1,0 6.0,0a3.0,3.0 0 1,0 -6.0,0M152.7,175.7a3.0,3.0 0 1,0 6.0,0a3.0,3.0 0 1,0 -6.0,0M178.7,173.9a3.0,3.0 0 1,0 6.0,0a3.0,3.0 0 1,0 -6.0,0M162.4,193.5a3.0,3.0 0 1,0 6.0,0a3.0,3.0 0 1,0 -6.0,0M174.8,175.5a3.0,3.0 0 1,0 6.0,0a3.0,3.0 0 1,0 -6.0,0M174.8,186.6a3.0,3.0 0 1,0 6.0,0a3.0,3.0 0 1,0 -6.0,0M164.5,188.7a3.0,3.0 0 1,0 6.0,0a3.0,3.0 0 1,0 -6.0,0M149.2,185.7a3.0,3.0 0 1,0 6.0,0a3.0,3.0 0 1,0 -6.0,0M183.2,179.6a3.0,3.0 0 1,0 6.0,0a3.0,3.0 0 1,0 -6.0,0M166.0,184.2a3.0,3.0 0 1,0 6.0,0a3.0,3.0 0 1,0 -6.0,0M174.2,179.3a3.0,3.0 0 1,0 6.0,0a3.0,3.0 0 1,0 -6.0,0M157.3,179.5a3.0,3.0 0 1,0 6.0,0a3.0,3.0 0 1,0 -6.0,0M169.1,187.1a3.0,3.0 0 1,0 6.0,0a3.0,3.0 0 1,0 -6.0,0M151.6,190.6a3.0,3.0 0 1,0 6.0,0a3.0,3.0 0 1,0 -6.0,0M181.4,188.0a3.0,3.0 0 1,0 6.0,0a3.0,3.0 0 1,0 -6.0,0M159.4,199.0a3.0,3.0 0 1,0 6.0,0a3.0,3.0 0 1,0 -6.0,0M171.3,174.0a3.0,3.0 0 1,0 6.0,0a3.0,3.0 0 1,0 -6.0,0M168.2,196.4a3.0,3.0 0 1,0 6.0,0a3.0,3.0 0 1,0 -6.0,0M145.9,181.7a3.0,3.0 0 1,0 6.0,0a3.0,3.0 0 1,0 -6.0,0M157.4,195.5a3.0,3.0 0 1,0 6.0,0a3.0,3.0 0 1,0 -6.0,0M176.2,190.7a3.0,3.0 0 1,0 6.0,0a3.0,3.0 0 1,0 -6.0,0M156.5,171.6a3.0,3.0 0 1,0 6.0,0a3.0,3.0 0 1,0 -6.0,0M161.6,185.1a3.0,3.0 0 1,0 6.0,0a3.0,3.0 0 1,0 -6.0,0M179.1,195.0a3.0,3.0 0 1,0 6.0,0a3.0,3.0 0 1,0 -6.0,0M149.5,177.8a3.0,3.0 0 1,0 6.0,0a3.0,3.0 0 1,0 -6.0,0M167.3,191.7a3.0,3.0 0 1,0 6.0,0a3.0,3.0 0 1,0 -6.0,0M169.1,170.7a3.0,3.0 0 1,0 6.0,0a3.0,3.0 0 1,0 -6.0,0M153.8,185.2a3.0,3.0 0 1,0 6.0,0a3.0,3.0 0 1,0 -6.0,0M184.1,184.6a3.0,3.0 0 1,0 6.0,0a3.0,3.0 0 1,0 -6.0,0M149.8,196.0a3.0,3.0 0 1,0 6.0,0a3.0,3.0 0 1,0 -6.0,0M152.3,181.3a3.0,3.0 0 1,0 6.0,0a3.0,3.0 0 1,0 -6.0,0M171.7,183.7a3.0,3.0 0 1,0 6.0,0a3.0,3.0 0 1,0 -6.0,0M147.9,173.9a3.0,3.0 0 1,0 6.0,0a3.0,3.0 0 1,0 -6.0,0M151.0,171.7a3.0,3.0 0 1,0 6.0,0a3.0,3.0 0 1,0 -6.0,0M162.8,177.3a3.0,3.0 0 1,0 6.0,0a3.0,3.0 0 1,0 -6.0,0M160.5,189.6a3.0,3.0 0 1,0 6.0,0a3.0,3.0 0 1,0 -6.0,0M165.3,167.8a3.0,3.0 0 1,0 6.0,0a3.0,3.0 0 1,0 -6.0,0M145.5,177.5a3.0,3.0 0 1,0 6.0,0a3.0,3.0 0 1,0 -6.0,0M166.7,199.9a3.0,3.0 0 1,0 6.0,0a3.0,3.0 0 1,0 -6.0,0M178.8,178.3a3.0,3.0 0 1,0 6.0,0a3.0,3.0 0 1,0 -6.0,0M157.7,184.2a3.0,3.0 0 1,0 6.0,0a3.0,3.0 0 1,0 -6.0,0M181.5,192.0a3.0,3.0 0 1,0 6.0,0a3.0,3.0 0 1,0 -6.0,0M154.2,197.8a3.0,3.0 0 1,0 6.0,0a3.0,3.0 0 1,0 -6.0,0M167.4,174.2a3.0,3.0 0 1,0 6.0,0a3.0,3.0 0 1,0 -6.0,0M170.2,180.1a3.0,3.0 0 1,0 6.0,0a3.0,3.0 0 1,0 -6.0,0M182.1,175.9a3.0,3.0 0 1,0 6.0,0a3.0,3.0 0 1,0 -6.0,0" fill="#000"/><ellipse cx="167" cy="184" rx="21.1" ry="16.8" fill="#000"/><path d="M169.1,178.3a0.8,0.8 0 1,0 1.5,0a0.8,0.8 0 1,0 -1.5,0M161.3,175.3a1.3,1.3 0 1,0 2.7,0a1.3,1.3 0 1,0 -2.7,0M158.5,190.0a0.8,0.8 0 1,0 1.6,0a0.8,0.8 0 1,0 -1.6,0M146.2,185.7a1.1,1.1 0 1,0 2.3,0a1.1,1.1 0 1,0 -2.3,0M162.9,169.1a1.6,1.6 0 1,0 3.2,0a1.6,1.6 0 1,0 -3.2,0M148.8,189.8a0.8,0.8 0 1,0 1.6,0a0.8,0.8 0 1,0 -1.6,0M180.6,183.7a1.7,1.7 0 1,0 3.4,0a1.7,1.7 0 1,0 -3.4,0M172.9,190.8a1.5,1.5 0 1,0 3.1,0a1.5,1.5 0 1,0 -3.1,0M175.4,170.7a1.3,1.3 0 1,0 2.6,0a1.3,1.3 0 1,0 -2.6,0M165.0,181.2a1.6,1.6 0 1,0 3.2,0a1.6,1.6 0 1,0 -3.2,0M164.9,197.6a1.6,1.6 0 1,0 3.1,0a1.6,1.6 0 1,0 -3.1,0M165.5,173.1a1.2,1.2 0 1,0 2.5,0a1.2,1.2 0 1,0 -2.5,0M174.7,196.9a0.7,0.7 0 1,0 1.5,0a0.7,0.7 0 1,0 -1.5,0M155.1,194.1a1.0,1.0 0 1,0 2.1,0a1.0,1.0 0 1,0 -2.1,0M154.4,175.7a1.3,1.3 0 1,0 2.6,0a1.3,1.3 0 1,0 -2.6,0M180.8,173.9a0.9,0.9 0 1,0 1.7,0a0.9,0.9 0 1,0 -1.7,0M164.0,193.5a1.5,1.5 0 1,0 3.0,0a1.5,1.5 0 1,0 -3.0,0M176.3,175.5a1.5,1.5 0 1,0 2.9,0a1.5,1.5 0 1,0 -2.9,0M176.4,186.6a1.4,1.4 0 1,0 2.8,0a1.4,1.4 0 1,0 -2.8,0M166.0,188.7a1.5,1.5 0 1,0 3.0,0a1.5,1.5 0 1,0 -3.0,0M151.1,185.7a1.1,1.1 0 1,0 2.2,0a1.1,1.1 0 1,0 -2.2,0M185.3,179.6a0.8,0.8 0 1,0 1.7,0a0.8,0.8 0 1,0 -1.7,0M167.6,184.2a1.4,1.4 0 1,0 2.8,0a1.4,1.4 0 1,0 -2.8,0M176.1,179.3a1.1,1.1 0 1,0 2.2,0a1.1,1.1 0 1,0 -2.2,0M158.8,179.5a1.5,1.5 0 1,0 3.1,0a1.5,1.5 0 1,0 -3.1,0M170.9,187.1a1.3,1.3 0 1,0 2.6,0a1.3,1.3 0 1,0 -2.6,0M153.2,190.6a1.3,1.3 0 1,0 2.7,0a1.3,1.3 0 1,0 -2.7,0M183.4,188.0a1.1,1.1 0 1,0 2.1,0a1.1,1.1 0 1,0 -2.1,0M161.4,199.0a1.0,1.0 0 1,0 2.0,0a1.0,1.0 0 1,0 -2.0,0M173.1,174.0a1.1,1.1 0 1,0 2.3,0a1.1,1.1 0 1,0 -2.3,0M170.5,196.4a0.7,0.7 0 1,0 1.4,0a0.7,0.7 0 1,0 -1.4,0M148.1,181.7a0.8,0.8 0 1,0 1.5,0a0.8,0.8 0 1,0 -1.5,0M158.8,195.5a1.6,1.6 0 1,0 3.2,0a1.6,1.6 0 1,0 -3.2,0M177.5,190.7a1.7,1.7 0 1,0 3.3,0a1.7,1.7 0 1,0 -3.3,0M158.5,171.6a1.0,1.0 0 1,0 2.1,0a1.0,1.0 0 1,0 -2.1,0M163.4,185.1a1.2,1.2 0 1,0 2.4,0a1.2,1.2 0 1,0 -2.4,0M180.7,195.0a1.4,1.4 0 1,0 2.7,0a1.4,1.4 0 1,0 -2.7,0M151.4,177.8a1.1,1.1 0 1,0 2.2,0a1.1,1.1 0 1,0 -2.2,0M168.8,191.7a1.5,1.5 0 1,0 3.0,0a1.5,1.5 0 1,0 -3.0,0M170.5,170.7a1.6,1.6 0 1,0 3.3,0a1.6,1.6 0 1,0 -3.3,0M155.6,185.2a1.2,1.2 0 1,0 2.5,0a1.2,1.2 0 1,0 -2.5,0M185.5,184.6a1.6,1.6 0 1,0 3.2,0a1.6,1.6 0 1,0 -3.2,0M151.7,196.0a1.1,1.1 0 1,0 2.2,0a1.1,1.1 0 1,0 -2.2,0M153.7,181.3a1.6,1.6 0 1,0 3.2,0a1.6,1.6 0 1,0 -3.2,0M174.0,183.7a0.8,0.8 0 1,0 1.5,0a0.8,0.8 0 1,0 -1.5,0M149.6,173.9a1.3,1.3 0 1,0 2.6,0a1.3,1.3 0 1,0 -2.6,0M153.0,171.7a1.0,1.0 0 1,0 2.1,0a1.0,1.0 0 1,0 -2.1,0M164.3,177.3a1.5,1.5 0 1,0 3.0,0a1.5,1.5 0 1,0 -3.0,0M162.1,189.6a1.4,1.4 0 1,0 2.8,0a1.4,1.4 0 1,0 -2.8,0M167.6,167.8a0.7,0.7 0 1,0 1.4,0a0.7,0.7 0 1,0 -1.4,0M147.7,177.5a0.8,0.8 0 1,0 1.7,0a0.8,0.8 0 1,0 -1.7,0M168.8,199.9a0.9,0.9 0 1,0 1.9,0a0.9,0.9 0 1,0 -1.9,0M180.8,178.3a1.0,1.0 0 1,0 2.0,0a1.0,1.0 0 1,0 -2.0,0M159.3,184.2a1.4,1.4 0 1,0 2.7,0a1.4,1.4 0 1,0 -2.7,0M183.2,192.0a1.2,1.2 0 1,0 2.5,0a1.2,1.2 0 1,0 -2.5,0M155.9,197.8a1.3,1.3 0 1,0 2.6,0a1.3,1.3 0 1,0 -2.6,0M169.2,174.2a1.2,1.2 0 1,0 2.4,0a1.2,1.2 0 1,0 -2.4,0M171.8,180.1a1.4,1.4 0 1,0 2.8,0a1.4,1.4 0 1,0 -2.8,0M184.3,175.9a0.8,0.8 0 1,0 1.6,0a0.8,0.8 0 1,0 -1.6,0" fill="#fff"/>
<path d="M195.5,280.6C199.3,277.8 205.1,274.6 210.0,272.0C214.9,269.4 218.7,266.9 225.0,265.0C231.3,263.1 239.8,261.4 247.9,260.5C256.1,259.6 267.4,259.4 273.9,259.5C280.3,259.6 283.4,260.2 286.6,261.4C289.8,262.5 291.2,264.1 292.9,266.4C294.5,268.7 295.6,272.1 296.5,275.3C297.4,278.5 297.9,281.6 298.0,285.4C298.1,289.2 297.6,293.6 296.8,298.0C296.0,302.4 294.6,307.0 293.0,311.8C291.4,316.6 289.4,321.8 287.0,327.0C284.6,332.2 281.8,337.8 278.5,343.0C275.2,348.2 271.1,353.5 267.0,358.0C262.9,362.5 258.7,366.3 254.0,370.0C249.3,373.7 244.5,377.2 239.0,380.0C233.5,382.8 227.5,385.1 221.0,386.5C214.5,387.9 206.5,388.8 200.0,388.5C193.5,388.2 187.2,386.9 182.0,385.0C176.8,383.1 172.1,380.5 168.5,377.0C164.9,373.5 162.2,368.5 160.5,364.0C158.8,359.5 158.7,354.3 158.4,350.0C158.2,345.7 158.4,342.0 159.0,338.0C159.6,334.0 160.7,329.8 162.0,326.0C163.3,322.2 165.2,318.5 167.0,315.0C168.8,311.5 170.8,308.0 173.0,305.0C175.2,302.0 177.7,299.7 180.0,297.0C182.3,294.3 184.4,291.7 187.0,289.0C189.6,286.3 191.7,283.4 195.5,280.6Z" fill="#fff" stroke="#000" stroke-width="1.3"/>
<path d="M250.6 262.1h1.25M251.5 262.2h1.25M252.4 262.3h1.25M253.3 262.3h1.25M254.3 262.6h1.25M255.4 262.4h1.25M256.3 262.2h1.25M258.6 262.1h1.25M259.5 262.6h1.25M260.0 262.5h1.25M261.4 262.1h1.25M262.0 262.1h1.25M264.4 262.4h1.25M266.5 262.5h1.25M267.0 262.0h1.25M268.3 262.5h1.25M269.5 262.4h1.25M270.1 262.4h1.25M271.1 262.2h1.25M272.2 262.4h1.25M273.0 262.0h1.25M274.4 262.4h1.25M275.3 262.2h1.25M276.3 262.5h1.25M277.6 262.4h1.25M278.6 262.4h1.25M279.1 262.4h1.25M281.5 262.5h1.25M282.5 262.6h1.25M242.5 263.6h1.25M243.4 263.0h1.25M244.5 263.0h1.25M245.1 263.6h1.25M246.0 263.1h1.25M247.2 263.6h1.25M248.0 263.3h1.25M249.3 263.4h1.25M250.2 263.5h1.25M251.2 263.5h1.25M252.5 263.1h1.25M253.4 263.0h1.25M254.4 263.0h1.25M255.2 263.0h1.25M256.6 263.6h1.25M258.5 263.1h1.25M259.6 263.3h1.25M260.6 263.5h1.25M261.1 263.4h1.25M262.6 263.3h1.25M263.4 263.2h1.25M264.5 263.1h1.25M265.5 263.4h1.25M266.2 263.2h1.25M267.2 263.3h1.25M271.2 263.4h1.25M274.3 263.3h1.25M275.5 263.0h1.25M276.2 263.2h1.25M277.2 263.4h1.25M278.1 263.1h1.25M279.2 263.5h1.25M281.1 263.3h1.25M282.4 263.1h1.25M283.1 263.0h1.25M284.2 263.4h1.25M285.5 263.4h1.25M236.1 264.1h1.25M237.5 264.3h1.25M238.0 264.4h1.25M239.2 264.1h1.25M240.1 264.1h1.25M241.4 264.6h1.25M242.5 264.5h1.25M244.2 264.2h1.25M245.4 264.3h1.25M246.6 264.4h1.25M247.5 264.5h1.25M248.2 264.3h1.25M249.0 264.1h1.25M250.3 264.5h1.25M252.6 264.5h1.25M254.2 264.3h1.25M256.5 264.3h1.25M257.2 264.3h1.25M258.2 264.4h1.25M260.1 264.4h1.25M262.3 264.5h1.25M263.1 264.1h1.25M264.2 264.2h1.25M265.5 264.4h1.25M266.1 264.2h1.25M268.4 264.3h1.25M269.5 264.0h1.25M270.3 264.5h1.25M273.3 264.1h1.25M278.2 264.5h1.25M281.1 264.5h1.25M282.0 264.3h1.25M283.3 264.1h1.25M286.2 264.1h1.25M287.4 264.2h1.25M232.5 265.2h1.25M234.2 265.4h1.25M235.1 265.0h1.25M236.5 265.2h1.25M237.1 265.3h1.25M240.1 265.2h1.25M241.5 265.6h1.25M242.2 265.3h1.25M243.3 265.0h1.25M245.5 265.1h1.25M246.5 265.6h1.25M248.3 265.4h1.25M250.3 265.6h1.25M253.4 265.3h1.25M254.5 265.3h1.25M255.5 265.2h1.25M256.0 265.5h1.25M257.1 265.1h1.25M258.1 265.3h1.25M259.3 265.1h1.25M260.2 265.2h1.25M262.2 265.6h1.25M263.1 265.1h1.25M266.5 265.1h1.25M267.0 265.1h1.25M270.2 265.5h1.25M275.3 265.1h1.25M277.1 265.1h1.25M283.3 265.0h1.25M286.4 265.4h1.25M287.0 265.3h1.25M288.1 265.3h1.25M289.2 265.0h1.25M229.5 266.3h1.25M230.3 266.4h1.25M231.5 266.4h1.25M234.6 266.5h1.25M235.1 266.6h1.25M236.1 266.5h1.25M238.1 266.1h1.25M241.1 266.1h1.25M243.4 266.3h1.25M245.1 266.6h1.25M247.4 266.4h1.25M250.4 266.3h1.25M253.0 266.2h1.25M256.2 266.1h1.25M264.1 266.2h1.25M265.2 266.5h1.25M266.4 266.0h1.25M267.2 266.4h1.25M268.3 266.1h1.25M269.5 266.6h1.25M272.5 266.6h1.25M275.2 266.4h1.25M288.2 266.1h1.25M289.5 266.5h1.25M225.5 267.2h1.25M226.5 267.0h1.25M227.4 267.2h1.25M228.6 267.2h1.25M231.0 267.5h1.25M232.3 267.3h1.25M235.5 267.4h1.25M236.6 267.3h1.25M244.2 267.4h1.25M260.4 267.2h1.25M261.1 267.4h1.25M264.3 267.0h1.25M267.3 267.3h1.25M268.3 267.0h1.25M269.2 267.2h1.25M282.0 267.5h1.25M284.6 267.3h1.25M287.3 267.4h1.25M288.5 267.6h1.25M290.5 267.3h1.25M221.6 268.0h1.25M222.6 268.5h1.25M224.4 268.5h1.25M225.3 268.1h1.25M227.1 268.6h1.25M228.4 268.2h1.25M229.1 268.4h1.25M231.3 268.5h1.25M232.1 268.6h1.25M233.4 268.1h1.25M240.0 268.0h1.25M242.3 268.3h1.25M266.5 268.5h1.25M269.5 268.0h1.25M271.3 268.3h1.25M272.2 268.3h1.25M277.6 268.1h1.25M287.4 268.3h1.25M289.4 268.3h1.25M290.3 268.4h1.25M221.2 269.1h1.25M222.3 269.4h1.25M223.5 269.3h1.25M230.2 269.3h1.25M232.5 269.4h1.25M235.3 269.3h1.25M236.0 269.3h1.25M266.4 269.1h1.25M267.0 269.0h1.25M268.6 269.3h1.25M269.5 269.0h1.25M271.2 269.5h1.25M274.0 269.2h1.25M278.4 269.1h1.25M280.5 269.6h1.25M284.1 269.3h1.25M287.1 269.4h1.25M288.0 269.2h1.25M291.2 269.3h1.25M218.3 270.3h1.25M219.2 270.4h1.25M220.4 270.0h1.25M222.4 270.4h1.25M224.3 270.3h1.25M227.5 270.5h1.25M229.2 270.1h1.25M234.5 270.4h1.25M236.4 270.3h1.25M237.0 270.6h1.25M266.3 270.4h1.25M267.6 270.0h1.25M270.2 270.0h1.25M271.3 270.3h1.25M291.1 270.2h1.25M292.3 270.2h1.25M215.0 271.3h1.25M216.3 271.4h1.25M217.2 271.1h1.25M218.1 271.1h1.25M219.2 271.5h1.25M220.1 271.5h1.25M221.6 271.0h1.25M223.0 271.3h1.25M224.1 271.4h1.25M227.5 271.2h1.25M230.5 271.5h1.25M271.3 271.2h1.25M273.2 271.5h1.25M274.4 271.4h1.25M280.6 271.2h1.25M284.2 271.4h1.25M286.2 271.1h1.25M291.3 271.5h1.25M292.6 271.2h1.25M213.3 272.2h1.25M214.6 272.2h1.25M215.6 272.0h1.25M216.2 272.1h1.25M217.5 272.5h1.25M219.2 272.0h1.25M222.3 272.1h1.25M224.1 272.3h1.25M233.4 272.1h1.25M235.2 272.5h1.25M268.4 272.4h1.25M270.5 272.5h1.25M273.3 272.0h1.25M282.5 272.6h1.25M289.1 272.5h1.25M290.2 272.4h1.25M291.4 272.1h1.25M292.1 272.2h1.25M293.3 272.1h1.25M212.2 273.1h1.25M213.5 273.1h1.25M216.2 273.1h1.25M217.1 273.6h1.25M224.4 273.1h1.25M268.4 273.2h1.25M271.4 273.3h1.25M272.6 273.3h1.25M273.1 273.1h1.25M274.2 273.3h1.25M279.1 273.3h1.25M292.5 273.4h1.25M293.4 273.2h1.25M209.3 274.2h1.25M210.4 274.0h1.25M212.5 274.3h1.25M213.3 274.1h1.25M214.2 274.4h1.25M215.1 274.3h1.25M235.0 274.2h1.25M269.2 274.5h1.25M271.1 274.4h1.25M290.6 274.5h1.25M291.4 274.1h1.25M292.2 274.6h1.25M208.6 275.2h1.25M209.1 275.4h1.25M210.1 275.5h1.25M216.6 275.4h1.25M271.5 275.0h1.25M272.2 275.5h1.25M273.1 275.4h1.25M282.4 275.5h1.25M283.2 275.5h1.25M291.0 275.0h1.25M292.4 275.1h1.25M293.0 275.2h1.25M207.2 276.5h1.25M208.1 276.4h1.25M212.3 276.0h1.25M217.1 276.2h1.25M219.2 276.1h1.25M273.4 276.5h1.25M274.3 276.1h1.25M275.4 276.1h1.25M289.2 276.2h1.25M292.5 276.1h1.25M294.4 276.3h1.25M204.5 277.6h1.25M205.3 277.5h1.25M206.3 277.2h1.25M208.1 277.6h1.25M272.1 277.2h1.25M273.1 277.4h1.25M274.1 277.4h1.25M275.3 277.2h1.25M278.1 277.4h1.25M288.4 277.4h1.25M293.4 277.1h1.25M294.1 277.5h1.25M203.3 278.4h1.25M205.6 278.2h1.25M210.4 278.2h1.25M216.5 278.4h1.25M222.3 278.4h1.25M269.3 278.2h1.25M271.2 278.1h1.25M272.4 278.1h1.25M274.5 278.5h1.25M279.1 278.1h1.25M286.3 278.5h1.25M287.5 278.1h1.25M293.4 278.0h1.25M294.0 278.3h1.25M201.2 279.2h1.25M202.4 279.5h1.25M203.4 279.0h1.25M204.2 279.6h1.25M207.5 279.3h1.25M208.5 279.3h1.25M209.5 279.4h1.25M271.3 279.2h1.25M277.3 279.1h1.25M283.2 279.6h1.25M290.4 279.1h1.25M293.2 279.5h1.25M294.0 279.2h1.25M200.3 280.0h1.25M204.4 280.2h1.25M205.0 280.2h1.25M209.5 280.0h1.25M210.0 280.4h1.25M211.2 280.6h1.25M274.4 280.2h1.25M275.1 280.1h1.25M276.2 280.2h1.25M291.1 280.4h1.25M293.0 280.1h1.25M294.0 280.2h1.25M199.5 281.2h1.25M200.5 281.4h1.25M201.3 281.2h1.25M202.4 281.6h1.25M204.2 281.2h1.25M205.3 281.3h1.25M208.1 281.2h1.25M209.3 281.1h1.25M210.0 281.4h1.25M213.3 281.2h1.25M224.2 281.2h1.25M272.4 281.2h1.25M275.1 281.3h1.25M282.4 281.6h1.25M283.4 281.1h1.25M288.2 281.4h1.25M291.0 281.4h1.25M292.1 281.5h1.25M293.5 281.1h1.25M294.6 281.6h1.25M295.1 281.0h1.25M197.2 282.3h1.25M198.4 282.1h1.25M199.2 282.4h1.25M200.0 282.5h1.25M201.4 282.5h1.25M205.1 282.1h1.25M207.6 282.5h1.25M210.5 282.2h1.25M214.2 282.5h1.25M219.2 282.3h1.25M274.5 282.0h1.25M275.4 282.1h1.25M277.2 282.4h1.25M282.3 282.2h1.25M287.2 282.5h1.25M291.0 282.4h1.25M293.1 282.4h1.25M295.3 282.6h1.25M195.4 283.1h1.25M196.1 283.4h1.25M197.4 283.2h1.25M200.2 283.5h1.25M202.3 283.3h1.25M275.3 283.1h1.25M282.2 283.0h1.25M284.3 283.5h1.25M286.3 283.4h1.25M288.5 283.4h1.25M290.1 283.6h1.25M291.1 283.0h1.25M293.2 283.4h1.25M295.2 283.6h1.25M194.0 284.0h1.25M195.1 284.2h1.25M196.0 284.4h1.25M197.4 284.3h1.25M199.1 284.3h1.25M204.1 284.0h1.25M270.3 284.1h1.25M274.4 284.2h1.25M275.4 284.2h1.25M276.5 284.2h1.25M278.1 284.4h1.25M282.4 284.3h1.25M283.2 284.1h1.25M284.2 284.3h1.25M285.6 284.5h1.25M289.1 284.3h1.25M291.1 284.2h1.25M294.2 284.2h1.25M295.1 284.1h1.25M193.3 285.3h1.25M194.4 285.5h1.25M195.4 285.1h1.25M197.2 285.0h1.25M201.2 285.2h1.25M216.1 285.2h1.25M273.0 285.3h1.25M274.5 285.3h1.25M275.0 285.0h1.25M278.3 285.1h1.25M281.4 285.3h1.25M287.2 285.1h1.25M288.4 285.1h1.25M292.4 285.2h1.25M294.2 285.1h1.25M295.4 285.0h1.25M192.6 286.5h1.25M194.5 286.6h1.25M195.1 286.6h1.25M196.0 286.1h1.25M201.4 286.5h1.25M202.0 286.2h1.25M270.1 286.3h1.25M273.2 286.3h1.25M274.0 286.3h1.25M278.1 286.5h1.25M280.4 286.5h1.25M287.3 286.4h1.25M292.3 286.4h1.25M294.4 286.3h1.25M295.0 286.5h1.25M191.1 287.0h1.25M192.3 287.4h1.25M193.4 287.4h1.25M194.5 287.4h1.25M199.3 287.5h1.25M271.3 287.2h1.25M274.5 287.1h1.25M275.1 287.2h1.25M277.6 287.2h1.25M281.4 287.5h1.25M282.2 287.1h1.25M286.3 287.6h1.25M287.4 287.3h1.25M291.6 287.4h1.25M292.4 287.3h1.25M293.2 287.2h1.25M294.1 287.5h1.25M295.6 287.2h1.25M190.0 288.3h1.25M191.4 288.2h1.25M192.4 288.1h1.25M193.3 288.3h1.25M271.3 288.0h1.25M273.0 288.2h1.25M274.1 288.3h1.25M275.3 288.4h1.25M276.3 288.2h1.25M277.0 288.6h1.25M279.2 288.5h1.25M285.1 288.4h1.25M286.4 288.2h1.25M287.4 288.0h1.25M290.3 288.0h1.25M292.1 288.4h1.25M293.3 288.3h1.25M294.5 288.5h1.25M295.4 288.2h1.25M190.1 289.4h1.25M192.6 289.2h1.25M272.5 289.4h1.25M273.0 289.5h1.25M275.5 289.6h1.25M278.0 289.1h1.25M280.3 289.5h1.25M284.1 289.6h1.25M286.1 289.6h1.25M292.2 289.6h1.25M293.5 289.6h1.25M294.1 289.1h1.25M295.5 289.3h1.25M188.3 290.0h1.25M189.2 290.3h1.25M190.5 290.1h1.25M194.4 290.6h1.25M272.4 290.5h1.25M273.1 290.1h1.25M274.1 290.3h1.25M276.5 290.5h1.25M281.0 290.2h1.25M283.4 290.2h1.25M285.2 290.5h1.25M287.3 290.3h1.25M290.1 290.1h1.25M292.3 290.2h1.25M293.6 290.2h1.25M294.3 290.3h1.25M188.5 291.5h1.25M270.2 291.4h1.25M272.4 291.3h1.25M273.1 291.3h1.25M276.5 291.0h1.25M277.6 291.3h1.25M278.3 291.4h1.25M281.4 291.6h1.25M286.3 291.2h1.25M289.2 291.0h1.25M290.5 291.6h1.25M291.5 291.3h1.25M293.3 291.2h1.25M295.2 291.4h1.25M187.1 292.3h1.25M188.2 292.3h1.25M189.2 292.6h1.25M192.3 292.0h1.25M272.6 292.2h1.25M273.0 292.2h1.25M274.4 292.3h1.25M275.5 292.4h1.25M279.2 292.2h1.25M287.1 292.4h1.25M290.4 292.1h1.25M291.3 292.5h1.25M292.6 292.6h1.25M293.4 292.4h1.25M294.4 292.4h1.25M186.1 293.3h1.25M187.0 293.6h1.25M197.1 293.3h1.25M272.5 293.5h1.25M273.0 293.2h1.25M274.5 293.5h1.25M276.0 293.2h1.25M280.1 293.6h1.25M288.3 293.4h1.25M291.1 293.6h1.25M292.2 293.2h1.25M293.5 293.3h1.25M294.3 293.2h1.25M185.4 294.5h1.25M186.5 294.4h1.25M187.1 294.5h1.25M188.4 294.6h1.25M189.1 294.5h1.25M199.6 294.4h1.25M226.0 294.1h1.25M271.4 294.3h1.25M272.0 294.3h1.25M273.5 294.2h1.25M292.3 294.6h1.25M293.4 294.0h1.25M294.5 294.4h1.25M184.5 295.5h1.25M188.6 295.5h1.25M220.3 295.5h1.25M269.4 295.5h1.25M272.6 295.3h1.25M273.1 295.6h1.25M289.0 295.5h1.25M290.5 295.5h1.25M291.4 295.2h1.25M292.6 295.1h1.25M183.1 296.5h1.25M184.3 296.4h1.25M185.6 296.1h1.25M186.4 296.3h1.25M190.0 296.4h1.25M217.4 296.2h1.25M267.4 296.5h1.25M270.4 296.6h1.25M271.1 296.4h1.25M277.1 296.1h1.25M290.1 296.1h1.25M291.1 296.1h1.25M183.5 297.1h1.25M184.4 297.2h1.25M231.2 297.0h1.25M266.4 297.6h1.25M269.5 297.0h1.25M270.2 297.5h1.25M271.1 297.1h1.25M291.5 297.1h1.25M292.4 297.5h1.25M293.2 297.2h1.25M294.0 297.1h1.25M181.1 298.1h1.25M182.5 298.1h1.25M183.0 298.5h1.25M185.1 298.5h1.25M190.3 298.4h1.25M234.4 298.5h1.25M269.1 298.4h1.25M271.1 298.1h1.25M273.4 298.4h1.25M290.4 298.2h1.25M292.4 298.3h1.25M293.1 298.2h1.25M294.1 298.6h1.25M181.6 299.1h1.25M183.1 299.4h1.25M184.4 299.3h1.25M187.3 299.6h1.25M215.4 299.5h1.25M264.4 299.1h1.25M266.3 299.4h1.25M267.2 299.2h1.25M268.4 299.3h1.25M269.0 299.5h1.25M273.5 299.4h1.25M274.3 299.3h1.25M281.0 299.5h1.25M288.3 299.6h1.25M289.1 299.4h1.25M291.1 299.4h1.25M292.1 299.0h1.25M293.1 299.3h1.25M180.1 300.1h1.25M181.5 300.5h1.25M182.5 300.5h1.25M183.5 300.2h1.25M186.3 300.4h1.25M187.0 300.3h1.25M189.4 300.6h1.25M198.2 300.1h1.25M267.2 300.1h1.25M268.1 300.4h1.25M269.5 300.0h1.25M270.4 300.1h1.25M271.1 300.4h1.25M290.1 300.0h1.25M291.1 300.4h1.25M292.2 300.4h1.25M293.2 300.4h1.25M180.5 301.5h1.25M183.3 301.0h1.25M184.4 301.2h1.25M215.2 301.1h1.25M219.2 301.2h1.25M265.4 301.4h1.25M266.2 301.4h1.25M267.2 301.6h1.25M268.1 301.3h1.25M269.4 301.4h1.25M270.0 301.5h1.25M284.4 301.2h1.25M287.0 301.5h1.25M288.2 301.1h1.25M292.5 301.1h1.25M293.5 301.5h1.25M178.6 302.0h1.25M179.4 302.5h1.25M181.4 302.3h1.25M216.2 302.3h1.25M260.5 302.6h1.25M262.2 302.3h1.25M264.2 302.0h1.25M265.1 302.1h1.25M267.1 302.5h1.25M268.2 302.1h1.25M269.3 302.5h1.25M270.5 302.0h1.25M271.5 302.0h1.25M287.3 302.5h1.25M289.3 302.6h1.25M290.2 302.0h1.25M291.5 302.3h1.25M292.3 302.6h1.25M293.5 302.3h1.25M177.2 303.0h1.25M178.1 303.5h1.25M182.1 303.4h1.25M186.1 303.1h1.25M262.5 303.3h1.25M263.3 303.1h1.25M264.1 303.5h1.25M265.1 303.3h1.25M267.5 303.4h1.25M268.2 303.5h1.25M285.1 303.5h1.25M289.4 303.2h1.25M292.5 303.0h1.25M176.3 304.2h1.25M178.1 304.6h1.25M179.2 304.1h1.25M182.5 304.4h1.25M186.5 304.2h1.25M190.3 304.6h1.25M254.2 304.1h1.25M261.0 304.4h1.25M263.0 304.6h1.25M264.2 304.4h1.25M265.5 304.1h1.25M266.4 304.4h1.25M267.2 304.4h1.25M292.5 304.1h1.25M175.1 305.0h1.25M176.2 305.3h1.25M177.1 305.5h1.25M178.5 305.0h1.25M180.4 305.2h1.25M187.2 305.6h1.25M224.1 305.2h1.25M227.4 305.5h1.25M237.5 305.5h1.25M258.0 305.5h1.25M259.1 305.6h1.25M263.6 305.0h1.25M265.4 305.5h1.25M275.5 305.2h1.25M285.5 305.1h1.25M290.1 305.5h1.25M291.1 305.3h1.25M292.6 305.1h1.25M175.2 306.2h1.25M176.5 306.0h1.25M185.5 306.5h1.25M194.5 306.2h1.25M247.5 306.5h1.25M248.2 306.2h1.25M251.1 306.4h1.25M255.2 306.5h1.25M256.3 306.3h1.25M258.5 306.4h1.25M259.1 306.3h1.25M264.5 306.3h1.25M266.1 306.3h1.25M281.2 306.0h1.25M286.3 306.2h1.25M290.5 306.5h1.25M291.6 306.3h1.25M292.6 306.1h1.25M174.2 307.1h1.25M175.4 307.4h1.25M177.1 307.3h1.25M179.3 307.1h1.25M182.3 307.3h1.25M190.1 307.0h1.25M191.3 307.2h1.25M196.1 307.5h1.25M215.3 307.5h1.25M245.1 307.1h1.25M247.4 307.4h1.25M251.3 307.2h1.25M257.1 307.1h1.25M258.3 307.2h1.25M259.3 307.1h1.25M260.2 307.1h1.25M261.5 307.3h1.25M262.2 307.6h1.25M270.2 307.3h1.25M289.5 307.4h1.25M290.3 307.2h1.25M291.1 307.6h1.25M173.5 308.0h1.25M174.0 308.0h1.25M178.2 308.2h1.25M220.1 308.2h1.25M247.2 308.1h1.25M249.2 308.2h1.25M250.5 308.3h1.25M251.1 308.4h1.25M252.3 308.6h1.25M253.3 308.1h1.25M256.4 308.6h1.25M259.6 308.2h1.25M260.1 308.2h1.25M264.1 308.2h1.25M286.0 308.1h1.25M288.1 308.5h1.25M290.1 308.4h1.25M291.4 308.1h1.25M173.1 309.5h1.25M174.5 309.2h1.25M175.2 309.4h1.25M176.1 309.3h1.25M247.1 309.1h1.25M248.4 309.3h1.25M250.4 309.0h1.25M251.3 309.5h1.25M252.2 309.1h1.25M254.4 309.5h1.25M255.0 309.5h1.25M256.4 309.4h1.25M257.2 309.1h1.25M258.2 309.1h1.25M259.1 309.2h1.25M264.3 309.2h1.25M273.3 309.5h1.25M287.6 309.5h1.25M289.4 309.2h1.25M290.0 309.2h1.25M172.3 310.0h1.25M173.1 310.2h1.25M175.3 310.5h1.25M176.4 310.1h1.25M248.0 310.2h1.25M257.3 310.5h1.25M260.3 310.3h1.25M288.5 310.2h1.25M289.5 310.2h1.25M290.6 310.2h1.25M171.4 311.0h1.25M174.0 311.1h1.25M217.4 311.5h1.25M239.1 311.5h1.25M248.4 311.2h1.25M250.2 311.3h1.25M251.1 311.5h1.25M257.3 311.5h1.25M258.3 311.3h1.25M262.2 311.4h1.25M282.4 311.6h1.25M287.4 311.5h1.25M288.5 311.2h1.25M289.3 311.2h1.25M290.0 311.4h1.25M171.3 312.2h1.25M172.2 312.3h1.25M175.1 312.3h1.25M176.2 312.2h1.25M284.0 312.3h1.25M287.4 312.0h1.25M289.1 312.6h1.25M290.1 312.1h1.25M170.3 313.0h1.25M171.4 313.3h1.25M172.4 313.6h1.25M173.2 313.1h1.25M174.5 313.1h1.25M177.3 313.3h1.25M250.4 313.1h1.25M256.1 313.4h1.25M287.1 313.2h1.25M170.1 314.1h1.25M171.2 314.3h1.25M172.5 314.1h1.25M175.6 314.4h1.25M212.0 314.0h1.25M283.1 314.4h1.25M284.6 314.5h1.25M288.0 314.2h1.25M289.5 314.3h1.25M169.1 315.5h1.25M170.6 315.6h1.25M196.2 315.4h1.25M282.2 315.0h1.25M284.3 315.0h1.25M285.3 315.1h1.25M287.1 315.4h1.25M288.1 315.4h1.25M169.2 316.3h1.25M170.3 316.3h1.25M189.4 316.0h1.25M246.1 316.2h1.25M284.3 316.4h1.25M285.2 316.4h1.25M288.3 316.3h1.25M168.6 317.5h1.25M169.3 317.1h1.25M172.2 317.1h1.25M174.2 317.3h1.25M179.6 317.1h1.25M191.3 317.3h1.25M280.1 317.6h1.25M284.0 317.2h1.25M285.2 317.1h1.25M286.1 317.2h1.25M287.4 317.3h1.25M288.5 317.2h1.25M167.5 318.6h1.25M169.4 318.4h1.25M171.5 318.1h1.25M283.2 318.2h1.25M287.1 318.4h1.25M167.1 319.5h1.25M179.5 319.2h1.25M180.0 319.2h1.25M249.6 319.0h1.25M282.3 319.5h1.25M283.2 319.5h1.25M286.2 319.4h1.25M287.4 319.2h1.25M167.6 320.2h1.25M168.2 320.3h1.25M169.0 320.6h1.25M170.2 320.2h1.25M195.5 320.3h1.25M243.4 320.4h1.25M276.1 320.2h1.25M283.4 320.2h1.25M285.6 320.5h1.25M286.4 320.4h1.25M166.2 321.4h1.25M167.0 321.0h1.25M170.6 321.4h1.25M172.6 321.5h1.25M199.5 321.4h1.25M243.5 321.6h1.25M262.3 321.6h1.25M277.5 321.3h1.25M278.5 321.4h1.25M281.4 321.4h1.25M285.4 321.5h1.25M286.5 321.2h1.25M166.2 322.2h1.25M167.5 322.2h1.25M169.5 322.4h1.25M175.5 322.1h1.25M280.6 322.1h1.25M283.5 322.2h1.25M284.6 322.6h1.25M285.5 322.6h1.25M286.5 322.4h1.25M165.3 323.0h1.25M166.1 323.0h1.25M167.4 323.1h1.25M169.2 323.3h1.25M170.5 323.1h1.25M185.1 323.4h1.25M283.2 323.4h1.25M284.1 323.3h1.25M285.6 323.5h1.25M165.5 324.1h1.25M166.6 324.4h1.25M167.1 324.5h1.25M277.0 324.2h1.25M283.4 324.2h1.25M285.5 324.1h1.25M164.4 325.0h1.25M165.2 325.2h1.25M167.5 325.4h1.25M172.3 325.1h1.25M280.1 325.3h1.25M284.5 325.2h1.25M164.3 326.6h1.25M168.0 326.0h1.25M178.4 326.0h1.25M280.6 326.1h1.25M282.3 326.6h1.25M284.4 326.3h1.25M164.5 327.2h1.25M165.5 327.3h1.25M168.6 327.1h1.25M255.5 327.6h1.25M276.2 327.3h1.25M279.2 327.5h1.25M280.2 327.5h1.25M281.2 327.6h1.25M283.5 327.4h1.25M284.3 327.3h1.25M163.4 328.0h1.25M164.5 328.1h1.25M165.3 328.1h1.25M168.1 328.5h1.25M281.1 328.1h1.25M282.0 328.5h1.25M283.2 328.2h1.25M163.1 329.2h1.25M165.6 329.0h1.25M166.3 329.0h1.25M268.5 329.2h1.25M280.2 329.2h1.25M281.3 329.1h1.25M282.4 329.2h1.25M163.5 330.5h1.25M165.2 330.4h1.25M281.3 330.1h1.25M282.3 330.3h1.25M163.3 331.4h1.25M166.5 331.1h1.25M167.5 331.2h1.25M169.3 331.1h1.25M254.5 331.3h1.25M280.1 331.1h1.25M281.3 331.2h1.25M282.2 331.5h1.25M162.2 332.1h1.25M163.4 332.4h1.25M174.1 332.5h1.25M178.2 332.3h1.25M272.4 332.4h1.25M273.5 332.2h1.25M279.5 332.3h1.25M280.2 332.3h1.25M281.5 332.3h1.25M162.4 333.3h1.25M163.3 333.3h1.25M164.1 333.2h1.25M165.1 333.1h1.25M170.3 333.5h1.25M172.5 333.3h1.25M196.3 333.2h1.25M212.3 333.1h1.25M270.4 333.2h1.25M276.0 333.5h1.25M279.5 333.1h1.25M280.1 333.1h1.25M162.2 334.1h1.25M167.2 334.4h1.25M191.6 334.1h1.25M204.0 334.1h1.25M208.4 334.2h1.25M257.6 334.6h1.25M279.3 334.1h1.25M280.3 334.4h1.25M162.6 335.1h1.25M163.2 335.1h1.25M165.2 335.1h1.25M280.1 335.3h1.25M161.2 336.2h1.25M162.5 336.4h1.25M163.2 336.3h1.25M164.1 336.1h1.25M165.6 336.5h1.25M167.5 336.4h1.25M179.1 336.4h1.25M273.5 336.1h1.25M275.3 336.0h1.25M276.1 336.3h1.25M277.4 336.1h1.25M278.3 336.5h1.25M279.2 336.3h1.25M161.3 337.4h1.25M162.4 337.1h1.25M191.4 337.2h1.25M276.4 337.2h1.25M277.0 337.1h1.25M278.1 337.5h1.25M161.4 338.1h1.25M163.2 338.0h1.25M170.5 338.3h1.25M171.2 338.5h1.25M186.1 338.2h1.25M190.5 338.5h1.25M192.1 338.4h1.25M203.2 338.5h1.25M275.5 338.5h1.25M277.5 338.6h1.25M161.5 339.4h1.25M189.6 339.1h1.25M190.3 339.2h1.25M191.4 339.5h1.25M192.2 339.1h1.25M226.1 339.1h1.25M237.5 339.1h1.25M273.5 339.2h1.25M276.0 339.6h1.25M277.1 339.3h1.25M161.1 340.4h1.25M165.6 340.1h1.25M166.5 340.6h1.25M180.6 340.3h1.25M182.6 340.4h1.25M188.0 340.4h1.25M189.0 340.1h1.25M190.1 340.3h1.25M191.5 340.3h1.25M192.3 340.4h1.25M228.3 340.5h1.25M272.4 340.3h1.25M273.2 340.1h1.25M274.5 340.6h1.25M275.0 340.3h1.25M276.4 340.5h1.25M277.6 340.3h1.25M161.1 341.0h1.25M162.5 341.5h1.25M164.0 341.1h1.25M183.2 341.5h1.25M188.4 341.1h1.25M189.5 341.2h1.25M190.4 341.1h1.25M191.4 341.2h1.25M272.6 341.2h1.25M275.0 341.5h1.25M276.5 341.4h1.25M161.2 342.5h1.25M162.5 342.2h1.25M166.6 342.4h1.25M171.3 342.3h1.25M184.4 342.5h1.25M187.4 342.1h1.25M188.6 342.6h1.25M189.4 342.3h1.25M190.2 342.3h1.25M193.1 342.6h1.25M269.4 342.2h1.25M272.1 342.3h1.25M273.4 342.5h1.25M274.3 342.2h1.25M161.4 343.6h1.25M186.3 343.3h1.25M188.3 343.0h1.25M189.5 343.2h1.25M191.4 343.2h1.25M214.3 343.2h1.25M160.0 344.2h1.25M161.4 344.6h1.25M163.1 344.4h1.25M165.0 344.4h1.25M183.5 344.6h1.25M185.3 344.3h1.25M187.5 344.5h1.25M188.4 344.4h1.25M189.1 344.3h1.25M223.6 344.2h1.25M265.5 344.1h1.25M267.5 344.5h1.25M269.3 344.6h1.25M272.6 344.4h1.25M273.3 344.3h1.25M274.1 344.5h1.25M160.2 345.5h1.25M185.0 345.1h1.25M186.3 345.0h1.25M187.1 345.3h1.25M188.5 345.1h1.25M238.5 345.1h1.25M265.4 345.3h1.25M268.5 345.1h1.25M270.5 345.2h1.25M273.5 345.1h1.25M160.1 346.1h1.25M174.2 346.6h1.25M182.6 346.1h1.25M184.3 346.1h1.25M185.3 346.4h1.25M186.0 346.3h1.25M188.6 346.1h1.25M260.1 346.1h1.25M262.0 346.5h1.25M266.1 346.0h1.25M269.5 346.0h1.25M270.2 346.0h1.25M271.4 346.3h1.25M272.6 346.6h1.25M160.1 347.4h1.25M184.6 347.4h1.25M185.3 347.3h1.25M186.2 347.6h1.25M270.5 347.1h1.25M271.2 347.2h1.25M160.4 348.2h1.25M161.2 348.2h1.25M174.5 348.4h1.25M176.3 348.1h1.25M183.2 348.5h1.25M184.1 348.3h1.25M186.6 348.3h1.25M229.4 348.3h1.25M257.4 348.5h1.25M263.4 348.1h1.25M268.1 348.3h1.25M270.0 348.4h1.25M160.3 349.2h1.25M161.0 349.1h1.25M162.2 349.4h1.25M163.5 349.5h1.25M181.5 349.2h1.25M183.5 349.4h1.25M184.4 349.1h1.25M224.1 349.5h1.25M255.3 349.4h1.25M261.5 349.5h1.25M267.5 349.2h1.25M269.3 349.0h1.25M270.3 349.4h1.25M162.5 350.2h1.25M163.3 350.3h1.25M177.5 350.5h1.25M179.0 350.4h1.25M181.2 350.3h1.25M182.2 350.2h1.25M183.1 350.5h1.25M184.5 350.1h1.25M185.4 350.0h1.25M266.1 350.4h1.25M268.6 350.6h1.25M269.0 350.1h1.25M270.3 350.4h1.25M161.2 351.6h1.25M179.5 351.3h1.25M183.5 351.2h1.25M184.0 351.2h1.25M260.3 351.2h1.25M264.6 351.0h1.25M267.5 351.4h1.25M268.2 351.4h1.25M269.0 351.0h1.25M161.1 352.2h1.25M162.3 352.1h1.25M165.6 352.3h1.25M180.4 352.2h1.25M182.5 352.3h1.25M183.5 352.1h1.25M184.2 352.4h1.25M185.0 352.0h1.25M259.4 352.4h1.25M260.5 352.3h1.25M263.5 352.6h1.25M265.5 352.5h1.25M267.6 352.5h1.25M268.4 352.3h1.25M161.1 353.4h1.25M182.5 353.4h1.25M183.2 353.3h1.25M184.1 353.6h1.25M185.5 353.0h1.25M223.3 353.1h1.25M260.5 353.6h1.25M262.6 353.1h1.25M263.2 353.1h1.25M264.2 353.5h1.25M265.2 353.0h1.25M266.6 353.4h1.25M267.2 353.2h1.25M161.3 354.0h1.25M162.1 354.4h1.25M163.1 354.5h1.25M180.5 354.3h1.25M181.5 354.5h1.25M183.4 354.4h1.25M258.3 354.4h1.25M261.5 354.0h1.25M263.2 354.3h1.25M264.2 354.2h1.25M266.1 354.3h1.25M161.0 355.2h1.25M164.5 355.0h1.25M181.3 355.5h1.25M182.5 355.2h1.25M183.6 355.2h1.25M184.6 355.1h1.25M252.5 355.1h1.25M261.3 355.5h1.25M262.4 355.3h1.25M263.0 355.6h1.25M265.1 355.1h1.25M266.2 355.6h1.25M161.4 356.4h1.25M162.2 356.3h1.25M163.1 356.1h1.25M181.5 356.0h1.25M182.1 356.5h1.25M183.4 356.2h1.25M256.0 356.2h1.25M258.5 356.1h1.25M259.3 356.3h1.25M260.3 356.5h1.25M262.1 356.3h1.25M264.3 356.5h1.25M265.1 356.6h1.25M162.5 357.2h1.25M171.5 357.0h1.25M181.0 357.1h1.25M182.4 357.3h1.25M183.5 357.1h1.25M184.3 357.6h1.25M240.0 357.1h1.25M253.1 357.0h1.25M257.2 357.2h1.25M258.6 357.6h1.25M260.6 357.4h1.25M261.3 357.1h1.25M262.5 357.1h1.25M264.4 357.4h1.25M161.3 358.3h1.25M177.5 358.5h1.25M178.0 358.1h1.25M181.1 358.2h1.25M182.1 358.4h1.25M184.5 358.2h1.25M238.5 358.4h1.25M245.1 358.3h1.25M246.4 358.4h1.25M249.5 358.0h1.25M256.1 358.4h1.25M257.3 358.4h1.25M259.4 358.2h1.25M260.3 358.2h1.25M261.5 358.1h1.25M262.4 358.3h1.25M263.3 358.3h1.25M162.0 359.0h1.25M164.1 359.6h1.25M165.2 359.3h1.25M177.5 359.3h1.25M181.2 359.3h1.25M182.3 359.2h1.25M183.2 359.2h1.25M236.1 359.5h1.25M237.6 359.4h1.25M243.6 359.5h1.25M253.3 359.5h1.25M257.3 359.5h1.25M259.5 359.0h1.25M260.6 359.3h1.25M261.4 359.1h1.25M262.6 359.4h1.25M162.2 360.6h1.25M163.5 360.1h1.25M168.0 360.4h1.25M178.3 360.3h1.25M180.4 360.5h1.25M181.3 360.5h1.25M182.1 360.2h1.25M183.6 360.2h1.25M226.1 360.1h1.25M246.2 360.2h1.25M255.0 360.6h1.25M256.1 360.4h1.25M257.4 360.6h1.25M258.1 360.6h1.25M259.5 360.4h1.25M261.2 360.1h1.25M162.1 361.4h1.25M163.5 361.3h1.25M166.4 361.3h1.25M179.5 361.2h1.25M181.3 361.2h1.25M182.0 361.2h1.25M183.3 361.2h1.25M184.2 361.1h1.25M251.1 361.4h1.25M252.1 361.1h1.25M253.1 361.3h1.25M254.6 361.2h1.25M258.4 361.5h1.25M259.5 361.2h1.25M260.4 361.2h1.25M162.4 362.3h1.25M177.3 362.3h1.25M181.3 362.3h1.25M182.6 362.1h1.25M185.6 362.5h1.25M228.1 362.4h1.25M231.5 362.1h1.25M241.1 362.6h1.25M248.5 362.4h1.25M254.5 362.4h1.25M255.1 362.1h1.25M256.1 362.5h1.25M257.0 362.2h1.25M258.1 362.5h1.25M162.3 363.3h1.25M163.2 363.2h1.25M164.0 363.3h1.25M165.5 363.4h1.25M166.2 363.2h1.25M181.1 363.4h1.25M182.5 363.2h1.25M184.0 363.4h1.25M185.1 363.3h1.25M229.4 363.0h1.25M246.6 363.3h1.25M252.3 363.6h1.25M253.6 363.4h1.25M254.2 363.6h1.25M255.1 363.4h1.25M256.6 363.4h1.25M257.5 363.5h1.25M163.5 364.1h1.25M164.3 364.1h1.25M167.3 364.5h1.25M169.2 364.5h1.25M181.5 364.1h1.25M182.5 364.5h1.25M184.4 364.2h1.25M225.2 364.3h1.25M238.2 364.3h1.25M240.3 364.5h1.25M249.0 364.6h1.25M250.5 364.1h1.25M251.2 364.2h1.25M253.4 364.4h1.25M254.6 364.6h1.25M255.4 364.5h1.25M256.2 364.3h1.25M163.6 365.6h1.25M165.2 365.4h1.25M167.4 365.4h1.25M169.2 365.5h1.25M175.5 365.4h1.25M181.3 365.5h1.25M182.3 365.1h1.25M183.5 365.4h1.25M184.4 365.4h1.25M185.2 365.1h1.25M222.4 365.5h1.25M223.2 365.5h1.25M224.0 365.1h1.25M226.2 365.0h1.25M228.0 365.0h1.25M235.6 365.4h1.25M249.4 365.6h1.25M250.5 365.2h1.25M251.1 365.4h1.25M252.6 365.2h1.25M253.1 365.4h1.25M254.0 365.1h1.25M255.2 365.2h1.25M164.4 366.6h1.25M166.4 366.3h1.25M172.2 366.2h1.25M182.1 366.5h1.25M183.0 366.2h1.25M185.3 366.4h1.25M186.4 366.3h1.25M222.2 366.5h1.25M223.5 366.5h1.25M224.1 366.6h1.25M225.5 366.4h1.25M246.5 366.5h1.25M248.5 366.4h1.25M249.5 366.5h1.25M251.3 366.3h1.25M252.0 366.4h1.25M253.3 366.3h1.25M164.4 367.5h1.25M165.1 367.1h1.25M167.5 367.6h1.25M177.3 367.3h1.25M179.6 367.6h1.25M182.2 367.1h1.25M183.4 367.3h1.25M184.2 367.0h1.25M186.6 367.6h1.25M222.2 367.1h1.25M223.1 367.6h1.25M224.6 367.0h1.25M233.2 367.4h1.25M237.3 367.6h1.25M247.3 367.4h1.25M248.6 367.4h1.25M249.5 367.2h1.25M250.4 367.2h1.25M251.3 367.4h1.25M253.6 367.5h1.25M165.0 368.5h1.25M166.1 368.4h1.25M167.4 368.3h1.25M168.4 368.0h1.25M181.2 368.4h1.25M183.1 368.4h1.25M184.2 368.5h1.25M185.3 368.0h1.25M187.1 368.2h1.25M221.0 368.5h1.25M222.4 368.0h1.25M223.6 368.5h1.25M224.5 368.1h1.25M233.6 368.3h1.25M236.4 368.2h1.25M240.2 368.5h1.25M246.3 368.3h1.25M247.4 368.4h1.25M248.3 368.5h1.25M249.2 368.3h1.25M250.2 368.1h1.25M251.1 368.4h1.25M166.4 369.2h1.25M167.5 369.4h1.25M169.4 369.0h1.25M173.0 369.3h1.25M175.3 369.6h1.25M176.2 369.5h1.25M183.6 369.3h1.25M184.3 369.5h1.25M185.1 369.0h1.25M186.2 369.5h1.25M187.6 369.2h1.25M221.1 369.5h1.25M222.3 369.6h1.25M224.4 369.2h1.25M225.3 369.5h1.25M241.0 369.4h1.25M245.1 369.1h1.25M246.3 369.1h1.25M247.1 369.3h1.25M248.4 369.1h1.25M249.3 369.0h1.25M250.4 369.2h1.25M166.4 370.1h1.25M167.3 370.1h1.25M169.5 370.6h1.25M170.1 370.5h1.25M182.0 370.3h1.25M183.2 370.0h1.25M184.5 370.3h1.25M185.2 370.1h1.25M187.5 370.3h1.25M188.5 370.5h1.25M189.3 370.4h1.25M218.0 370.4h1.25M219.4 370.5h1.25M220.4 370.4h1.25M221.2 370.0h1.25M222.2 370.0h1.25M223.5 370.2h1.25M230.6 370.3h1.25M232.5 370.1h1.25M241.4 370.4h1.25M245.2 370.5h1.25M246.1 370.2h1.25M247.5 370.4h1.25M248.3 370.2h1.25M167.5 371.2h1.25M173.4 371.6h1.25M185.1 371.6h1.25M186.2 371.6h1.25M187.2 371.5h1.25M188.1 371.1h1.25M189.0 371.4h1.25M217.4 371.2h1.25M218.4 371.5h1.25M220.4 371.6h1.25M221.4 371.2h1.25M223.4 371.5h1.25M237.2 371.2h1.25M238.2 371.2h1.25M239.1 371.4h1.25M240.2 371.4h1.25M241.1 371.4h1.25M242.0 371.5h1.25M243.2 371.1h1.25M244.3 371.5h1.25M245.4 371.1h1.25M246.1 371.5h1.25M247.2 371.2h1.25M168.2 372.5h1.25M170.3 372.5h1.25M171.1 372.5h1.25M185.1 372.6h1.25M186.1 372.5h1.25M187.4 372.0h1.25M191.3 372.2h1.25M217.3 372.3h1.25M219.6 372.2h1.25M220.5 372.2h1.25M221.2 372.3h1.25M223.3 372.4h1.25M224.6 372.4h1.25M232.3 372.1h1.25M235.1 372.5h1.25M237.1 372.6h1.25M239.1 372.6h1.25M241.2 372.4h1.25M242.3 372.5h1.25M243.5 372.2h1.25M244.3 372.1h1.25M245.5 372.2h1.25M246.3 372.5h1.25M168.5 373.1h1.25M169.1 373.1h1.25M172.2 373.2h1.25M173.4 373.4h1.25M176.2 373.3h1.25M187.2 373.3h1.25M188.1 373.4h1.25M189.1 373.2h1.25M190.4 373.0h1.25M191.0 373.4h1.25M215.4 373.2h1.25M216.6 373.1h1.25M217.4 373.6h1.25M218.5 373.1h1.25M219.5 373.3h1.25M220.1 373.2h1.25M223.6 373.0h1.25M224.5 373.4h1.25M231.1 373.2h1.25M237.2 373.3h1.25M238.6 373.3h1.25M240.4 373.0h1.25M241.5 373.5h1.25M242.5 373.4h1.25M243.2 373.4h1.25M244.4 373.1h1.25M245.0 373.5h1.25M169.2 374.6h1.25M170.6 374.6h1.25M171.5 374.1h1.25M180.1 374.1h1.25M188.6 374.6h1.25M190.4 374.1h1.25M192.2 374.6h1.25M193.4 374.1h1.25M213.1 374.2h1.25M215.2 374.3h1.25M216.6 374.6h1.25M217.3 374.4h1.25M218.3 374.5h1.25M219.4 374.6h1.25M221.6 374.4h1.25M222.4 374.6h1.25M225.2 374.6h1.25M227.3 374.1h1.25M231.3 374.1h1.25M234.4 374.5h1.25M235.3 374.6h1.25M236.2 374.1h1.25M237.1 374.5h1.25M238.4 374.2h1.25M240.3 374.6h1.25M241.5 374.3h1.25M242.3 374.4h1.25M244.6 374.0h1.25M170.5 375.0h1.25M171.3 375.3h1.25M172.0 375.4h1.25M175.0 375.1h1.25M180.3 375.3h1.25M188.3 375.4h1.25M189.2 375.6h1.25M190.2 375.6h1.25M192.5 375.6h1.25M193.0 375.4h1.25M194.3 375.4h1.25M195.5 375.2h1.25M209.1 375.4h1.25M211.5 375.3h1.25M213.0 375.0h1.25M214.0 375.0h1.25M216.2 375.0h1.25M217.4 375.3h1.25M218.5 375.1h1.25M220.6 375.5h1.25M221.6 375.1h1.25M223.6 375.4h1.25M228.0 375.0h1.25M235.3 375.5h1.25M236.6 375.5h1.25M237.1 375.6h1.25M238.3 375.3h1.25M239.3 375.3h1.25M240.4 375.1h1.25M241.6 375.6h1.25M172.6 376.3h1.25M173.4 376.2h1.25M175.1 376.4h1.25M179.4 376.3h1.25M188.2 376.4h1.25M190.4 376.3h1.25M191.4 376.0h1.25M192.2 376.4h1.25M193.2 376.5h1.25M194.0 376.3h1.25M199.5 376.0h1.25M206.6 376.1h1.25M209.1 376.1h1.25M210.1 376.2h1.25M213.6 376.3h1.25M214.6 376.2h1.25M215.2 376.2h1.25M216.2 376.3h1.25M217.5 376.5h1.25M219.1 376.1h1.25M228.1 376.1h1.25M230.4 376.0h1.25M232.3 376.5h1.25M233.3 376.3h1.25M234.3 376.4h1.25M235.4 376.4h1.25M237.6 376.3h1.25M238.2 376.4h1.25M239.2 376.2h1.25M240.3 376.3h1.25M172.5 377.1h1.25M173.4 377.0h1.25M174.3 377.2h1.25M175.5 377.5h1.25M176.2 377.6h1.25M177.3 377.2h1.25M179.4 377.3h1.25M181.4 377.6h1.25M185.1 377.2h1.25M189.1 377.2h1.25M190.5 377.3h1.25M191.1 377.4h1.25M192.4 377.4h1.25M194.6 377.3h1.25M195.2 377.5h1.25M197.0 377.5h1.25M198.1 377.2h1.25M199.6 377.4h1.25M200.4 377.2h1.25M202.4 377.1h1.25M204.3 377.3h1.25M206.6 377.2h1.25M207.0 377.5h1.25M208.4 377.3h1.25M210.3 377.2h1.25M211.5 377.2h1.25M212.5 377.3h1.25M213.4 377.0h1.25M214.5 377.5h1.25M215.4 377.6h1.25M216.5 377.5h1.25M219.2 377.1h1.25M222.5 377.1h1.25M225.6 377.3h1.25M226.1 377.5h1.25M229.6 377.3h1.25M231.3 377.1h1.25M232.2 377.1h1.25M233.2 377.5h1.25M234.4 377.1h1.25M235.0 377.6h1.25M236.2 377.5h1.25M237.4 377.3h1.25M238.5 377.3h1.25M239.1 377.2h1.25M174.3 378.3h1.25M175.5 378.3h1.25M176.3 378.5h1.25M177.3 378.6h1.25M179.5 378.4h1.25M182.4 378.2h1.25M185.0 378.5h1.25M187.0 378.4h1.25M189.4 378.5h1.25M190.1 378.1h1.25M191.6 378.1h1.25M192.4 378.4h1.25M194.5 378.1h1.25M195.1 378.0h1.25M196.3 378.3h1.25M197.3 378.5h1.25M198.1 378.3h1.25M199.4 378.0h1.25M200.0 378.0h1.25M202.6 378.3h1.25M203.5 378.3h1.25M204.1 378.0h1.25M205.4 378.3h1.25M206.4 378.2h1.25M207.2 378.1h1.25M208.1 378.5h1.25M209.5 378.3h1.25M210.1 378.0h1.25M211.0 378.3h1.25M212.4 378.5h1.25M213.2 378.3h1.25M214.2 378.4h1.25M215.5 378.0h1.25M217.0 378.3h1.25M219.3 378.2h1.25M221.5 378.5h1.25M225.5 378.1h1.25M226.2 378.1h1.25M228.0 378.1h1.25M229.0 378.3h1.25M230.1 378.1h1.25M231.0 378.5h1.25M232.4 378.5h1.25M233.5 378.2h1.25M234.4 378.4h1.25M235.5 378.1h1.25M236.3 378.3h1.25M175.3 379.4h1.25M176.0 379.3h1.25M177.0 379.3h1.25M178.2 379.2h1.25M180.2 379.5h1.25M181.3 379.1h1.25M182.0 379.0h1.25M189.3 379.5h1.25M191.0 379.1h1.25M193.6 379.5h1.25M195.0 379.2h1.25M196.3 379.3h1.25M197.2 379.3h1.25M198.2 379.5h1.25M199.3 379.1h1.25M200.3 379.6h1.25M201.2 379.1h1.25M202.4 379.0h1.25M203.4 379.2h1.25M204.0 379.2h1.25M205.2 379.4h1.25M206.1 379.5h1.25M207.3 379.4h1.25M208.0 379.4h1.25M209.3 379.2h1.25M210.0 379.1h1.25M211.2 379.4h1.25M213.4 379.1h1.25M214.4 379.3h1.25M215.2 379.5h1.25M218.4 379.2h1.25M219.2 379.5h1.25M220.4 379.2h1.25M221.3 379.6h1.25M223.3 379.1h1.25M225.2 379.2h1.25M226.1 379.5h1.25M227.5 379.4h1.25M228.6 379.2h1.25M229.2 379.1h1.25M230.1 379.6h1.25M232.4 379.2h1.25M233.2 379.6h1.25M178.2 380.3h1.25M179.2 380.3h1.25M180.6 380.2h1.25M182.6 380.5h1.25M186.4 380.1h1.25M189.2 380.1h1.25M192.2 380.3h1.25M195.1 380.6h1.25M196.2 380.3h1.25M198.0 380.6h1.25M199.3 380.6h1.25M200.0 380.2h1.25M202.6 380.2h1.25M203.6 380.3h1.25M204.3 380.4h1.25M206.4 380.3h1.25M207.1 380.3h1.25M208.1 380.5h1.25M209.4 380.3h1.25M210.6 380.0h1.25M211.5 380.6h1.25M212.6 380.2h1.25M213.0 380.0h1.25M214.6 380.1h1.25M216.1 380.1h1.25M217.4 380.1h1.25M218.1 380.4h1.25M219.1 380.2h1.25M221.5 380.6h1.25M223.1 380.5h1.25M224.4 380.6h1.25M225.3 380.4h1.25M226.1 380.2h1.25M227.5 380.1h1.25M228.0 380.4h1.25M230.6 380.2h1.25M231.4 380.4h1.25M232.3 380.4h1.25M179.5 381.5h1.25M180.1 381.4h1.25M181.2 381.6h1.25M182.1 381.1h1.25M183.4 381.1h1.25M184.5 381.5h1.25M186.4 381.3h1.25M191.6 381.1h1.25M192.4 381.0h1.25M195.5 381.1h1.25M196.6 381.6h1.25M199.1 381.3h1.25M200.4 381.2h1.25M201.0 381.1h1.25M202.0 381.1h1.25M203.0 381.4h1.25M205.3 381.1h1.25M206.5 381.3h1.25M207.2 381.4h1.25M208.1 381.0h1.25M209.2 381.6h1.25M210.3 381.2h1.25M211.4 381.5h1.25M212.3 381.2h1.25M213.0 381.3h1.25M214.2 381.3h1.25M215.1 381.5h1.25M216.3 381.4h1.25M217.2 381.4h1.25M218.0 381.1h1.25M219.2 381.1h1.25M220.5 381.0h1.25M221.3 381.4h1.25M222.3 381.6h1.25M223.0 381.6h1.25M224.1 381.4h1.25M225.2 381.1h1.25M226.1 381.5h1.25M227.3 381.5h1.25M228.3 381.1h1.25M229.4 381.2h1.25M181.5 382.1h1.25M182.2 382.1h1.25M183.4 382.5h1.25M185.5 382.5h1.25M187.2 382.4h1.25M188.6 382.2h1.25M190.5 382.1h1.25M192.4 382.3h1.25M193.5 382.2h1.25M194.6 382.2h1.25M195.6 382.5h1.25M196.5 382.6h1.25M198.1 382.6h1.25M199.2 382.5h1.25M200.2 382.6h1.25M201.1 382.4h1.25M202.5 382.5h1.25M203.4 382.3h1.25M204.3 382.5h1.25M205.1 382.4h1.25M206.3 382.2h1.25M207.3 382.2h1.25M209.3 382.5h1.25M210.4 382.0h1.25M212.2 382.6h1.25M213.5 382.4h1.25M214.2 382.0h1.25M215.1 382.5h1.25M216.2 382.2h1.25M217.5 382.6h1.25M218.2 382.6h1.25M219.4 382.4h1.25M220.1 382.4h1.25M221.0 382.6h1.25M222.4 382.4h1.25M223.3 382.3h1.25M224.5 382.3h1.25M225.5 382.1h1.25M226.0 382.3h1.25M184.0 383.1h1.25M185.3 383.2h1.25M186.4 383.5h1.25M187.0 383.4h1.25M188.3 383.1h1.25M189.2 383.2h1.25M191.5 383.2h1.25M193.0 383.6h1.25M195.0 383.6h1.25M196.3 383.2h1.25M199.4 383.1h1.25M201.5 383.0h1.25M202.3 383.4h1.25M203.3 383.4h1.25M204.2 383.4h1.25M205.0 383.2h1.25M206.0 383.3h1.25M207.6 383.6h1.25M208.6 383.2h1.25M209.2 383.2h1.25M210.2 383.5h1.25M211.4 383.4h1.25M215.1 383.0h1.25M217.5 383.5h1.25M219.4 383.1h1.25M220.1 383.6h1.25M221.1 383.5h1.25M222.4 383.2h1.25M223.0 383.1h1.25M188.5 384.2h1.25M190.5 384.2h1.25M191.1 384.6h1.25M193.5 384.5h1.25M195.1 384.4h1.25M196.1 384.3h1.25M198.1 384.3h1.25M199.0 384.2h1.25M202.3 384.3h1.25M204.4 384.4h1.25M205.5 384.6h1.25M207.4 384.6h1.25M208.0 384.5h1.25M210.5 384.1h1.25M213.1 384.4h1.25M214.4 384.4h1.25M216.2 384.3h1.25M218.2 384.1h1.25M192.4 385.5h1.25M193.5 385.5h1.25M194.4 385.5h1.25M195.4 385.2h1.25M196.2 385.2h1.25M197.5 385.5h1.25M198.6 385.5h1.25M199.2 385.3h1.25M200.4 385.0h1.25M201.4 385.1h1.25M202.2 385.3h1.25M203.4 385.5h1.25M204.6 385.3h1.25M205.5 385.1h1.25M206.4 385.3h1.25M207.2 385.5h1.25M208.0 385.6h1.25M211.6 385.4h1.25M212.4 385.2h1.25M213.1 385.4h1.25" stroke="#000" stroke-width="1.25" fill="none"/>
<path d="M197.0,282.7L198.0,282.0L199.0,281.3L200.1,280.6L201.2,279.9L202.4,279.2L203.7,278.5L204.9,277.7L206.2,277.0L207.4,276.3L208.7,275.6L210.0,275.0L211.2,274.3L212.4,273.6L213.6,273.0L214.8,272.4L215.9,271.7L217.0,271.1L218.1,270.6L219.3,270.0L220.5,269.5L221.7,268.9L223.0,268.4L224.3,268.0L225.8,267.5L227.3,267.0L229.0,266.6L230.7,266.1L232.5,265.7L234.4,265.3L236.3,264.9L238.2,264.6L240.2,264.2L242.2,263.9L244.2,263.6L246.2,263.3L248.2,263.1L250.2,262.9L252.4,262.7L254.7,262.5L257.0,262.4L259.3,262.3L261.6,262.2L263.9,262.1L266.1,262.1L268.3,262.1L270.3,262.1L272.2,262.1L273.8,262.1L275.3,262.1L276.7,262.2L278.0,262.3L279.1,262.4L280.1,262.5L281.1,262.6L281.9,262.8L282.8,263.0L283.5,263.2L284.3,263.4L285.0,263.6L285.7,263.8L286.4,264.1L286.9,264.3L287.4,264.6L287.9,264.9L288.3,265.2L288.6,265.5L289.0,265.8L289.4,266.1L289.7,266.5L290.0,266.9L290.4,267.4L290.8,267.9L291.1,268.4L291.4,268.9L291.7,269.5L292.0,270.1L292.3,270.8L292.6,271.5L292.8,272.2L293.1,272.9L293.3,273.7L293.6,274.4L293.8,275.2L294.0,276.0L294.2,276.7L294.4,277.5L294.5,278.2L294.7,279.0L294.9,279.8L295.0,280.5L295.1,281.3L295.2,282.1L295.3,282.9L295.3,283.7L295.4,284.6L295.4,285.4L295.4,286.3L295.4,287.3L295.4,288.2L295.3,289.2L295.2,290.2L295.1,291.2L295.0,292.3L294.9,293.3L294.8,294.3L294.6,295.4L294.4,296.5L294.2,297.5L294.0,298.6L293.8,299.6L293.6,300.7L293.3,301.8L293.0,302.9L292.7,304.0L292.4,305.2L292.0,306.3L291.7,307.4L291.3,308.6L290.9,309.8L290.5,311.0L290.1,312.2L289.7,313.4L289.3,314.6L288.8,315.8L288.4,317.1L287.9,318.3L287.4,319.6L286.9,320.8L286.3,322.1L285.8,323.4L285.2,324.6L284.6,325.9L284.0,327.2L283.4,328.5L282.8,329.8L282.1,331.2L281.5,332.5L280.8,333.8L280.1,335.1L279.4,336.5L278.6,337.8L277.9,339.1L277.1,340.3L276.3,341.6L275.5,342.9L274.6,344.1L273.7,345.4L272.8,346.7L271.9,347.9L271.0,349.2L270.0,350.4L269.0,351.6L268.1,352.8L267.1,354.0L266.1,355.1L265.1,356.3L264.1,357.3L263.1,358.4L262.1,359.4L261.0,360.4L260.0,361.4L259.0,362.4L257.9,363.4L256.8,364.3L255.7,365.2L254.6,366.1L253.5,367.1L252.4,368.0L251.2,368.9L250.1,369.8L248.9,370.6L247.7,371.5L246.5,372.4L245.3,373.2L244.1,374.0L242.9,374.8L241.7,375.6L240.4,376.3L239.1,377.0L237.8,377.7L236.5,378.3L235.1,379.0L233.7,379.6L232.3,380.2L230.9,380.8L229.5,381.3L228.0,381.8L226.5,382.3L225.0,382.8L223.5,383.2L222.0,383.6L220.4,384.0L218.8,384.3L217.2,384.6L215.5,384.9L213.8,385.1L212.0,385.3L210.2,385.5L208.5,385.7L206.7,385.8L205.0,385.9L203.3,385.9L201.7,385.9L200.1,385.9L198.6,385.8L197.0,385.7L195.5,385.5L194.0,385.3L192.5,385.1L191.0,384.8L189.6,384.5L188.2,384.2L186.8,383.8L185.5,383.4L184.2,383.0L182.9,382.6L181.7,382.1L180.4,381.6L179.3,381.1L178.1,380.5L177.0,379.9L175.9,379.3L174.9,378.7L173.9,378.1L172.9,377.4L172.0,376.7L171.1,375.9L170.3,375.1L169.5,374.3L168.8,373.5L168.0,372.5L167.3,371.6L166.7,370.6L166.0,369.5L165.4,368.5L164.8,367.4L164.3,366.3L163.8,365.2L163.4,364.2L162.9,363.1L162.6,362.1L162.3,361.0L162.0,360.0L161.8,358.9L161.6,357.8L161.5,356.6L161.4,355.5L161.3,354.3L161.2,353.2L161.1,352.1L161.1,351.0L161.0,349.9L160.9,348.8L160.9,347.8L160.9,346.9L160.9,345.9L160.9,345.0L161.0,344.0L161.0,343.1L161.1,342.2L161.2,341.2L161.3,340.3L161.4,339.3L161.6,338.4L161.7,337.4L161.9,336.5L162.1,335.5L162.3,334.5L162.5,333.5L162.7,332.6L163.0,331.6L163.3,330.6L163.5,329.7L163.8,328.7L164.1,327.8L164.5,326.9L164.8,325.9L165.1,325.0L165.5,324.1L165.9,323.3L166.3,322.4L166.7,321.5L167.1,320.6L167.5,319.7L168.0,318.8L168.4,317.9L168.9,317.1L169.3,316.2L169.8,315.3L170.2,314.5L170.7,313.6L171.2,312.8L171.6,312.0L172.1,311.1L172.6,310.3L173.1,309.5L173.6,308.7L174.1,308.0L174.6,307.2L175.1,306.5L175.6,305.8L176.1,305.2L176.7,304.5L177.2,303.9L177.8,303.3L178.4,302.6L178.9,302.0L179.5,301.4L180.1,300.7L180.7,300.1L181.3,299.4L182.0,298.7L182.5,298.0L183.1,297.4L183.7,296.7L184.3,296.0L184.8,295.4L185.4,294.7L185.9,294.1L186.5,293.4L187.1,292.8L187.7,292.1L188.3,291.4L188.9,290.8L189.6,290.1L190.2,289.4L190.8,288.7L191.4,288.0L192.0,287.3L192.7,286.6L193.3,286.0L194.0,285.3L194.7,284.6L195.4,284.0L196.2,283.3Z" fill="none" stroke="#000" stroke-width="1.0"/>
<path d="M281.0,280.0C282.4,278.4 285.2,277.8 287.0,278.5C288.8,279.2 290.9,281.1 292.0,284.0C293.1,286.9 293.8,292.8 293.5,296.0C293.2,299.2 291.8,302.1 290.0,303.5C288.2,304.9 284.8,305.6 283.0,304.5C281.2,303.4 279.8,299.8 279.0,297.0C278.2,294.2 278.2,290.8 278.5,288.0C278.8,285.2 279.6,281.6 281.0,280.0Z" fill="none" stroke="#000" stroke-width="1.3"/>
<path d="M182.0,337.0C184.2,336.0 190.9,332.4 195.0,331.0C199.1,329.6 204.8,329.2 206.8,328.9" fill="none" stroke="#000" stroke-width="1.1"/>
<path d="M247.0,310.0C245.1,311.0 237.2,315.1 235.3,316.1" fill="none" stroke="#000" stroke-width="1.1"/>
<path d="M256.0,311.0C258.0,310.2 264.0,307.8 268.0,306.5C272.0,305.2 276.0,304.2 280.0,303.5C284.0,302.8 290.0,302.2 292.0,302.0" fill="none" stroke="#000" stroke-width="1.1"/>
<circle cx="251.3" cy="284.9" r="17.3" fill="#fff" stroke="#000" stroke-width="1.4"/>
<path d="M242.7,261.4A25.0,25.0 0 1,1 247.0,309.5" fill="none" stroke="#000" stroke-width="1.4"/>
<circle cx="204" cy="358.3" r="17.1" fill="#fff" stroke="#000" stroke-width="1.4"/>
<path d="M226.1,364.6A23.0,23.0 0 1,1 192.5,338.4" fill="none" stroke="#000" stroke-width="1.4"/>
<path d="M199.4,384.4A26.5,26.5 0 0,1 188.8,336.6" fill="none" stroke="#000" stroke-width="1.0"/>
<circle cx="169.8" cy="350.8" r="3" fill="#fff" stroke="#000" stroke-width="1.1"/>
<circle cx="284.7" cy="296.7" r="3" fill="#fff" stroke="#000" stroke-width="1.1"/>
<circle cx="206.8" cy="304.7" r="7.8" fill="#000"/><circle cx="206.8" cy="304.7" r="6.40" fill="#fff"/><path d="M203.3 299.0h1.1M204.2 299.1h1.1M206.3 299.1h1.1M209.1 299.0h1.1M210.1 299.2h1.1M203.3 300.1h1.1M204.1 300.3h1.1M206.3 300.3h1.1M208.0 300.3h1.1M209.2 300.3h1.1M210.1 300.1h1.1M201.2 301.3h1.1M202.0 301.1h1.1M203.3 301.3h1.1M204.0 301.0h1.1M205.1 301.2h1.1M206.2 301.1h1.1M207.1 301.3h1.1M209.2 301.3h1.1M210.3 301.4h1.1M211.1 301.0h1.1M204.0 302.3h1.1M205.3 302.3h1.1M208.0 302.4h1.1M209.1 302.3h1.1M211.1 302.1h1.1M202.2 303.1h1.1M203.2 303.2h1.1M204.4 303.4h1.1M208.1 303.2h1.1M209.2 303.2h1.1M210.1 303.2h1.1M211.3 303.1h1.1M200.4 304.1h1.1M203.1 304.2h1.1M205.3 304.1h1.1M206.2 304.1h1.1M207.1 304.1h1.1M208.3 304.3h1.1M209.1 304.2h1.1M210.2 304.2h1.1M211.3 304.3h1.1M212.0 304.0h1.1M201.0 305.2h1.1M202.3 305.1h1.1M205.2 305.0h1.1M206.1 305.3h1.1M207.2 305.0h1.1M210.2 305.2h1.1M211.4 305.1h1.1M212.2 305.3h1.1M201.2 306.4h1.1M203.1 306.3h1.1M204.4 306.1h1.1M207.1 306.3h1.1M209.2 306.3h1.1M212.3 306.0h1.1M202.4 307.2h1.1M203.2 307.1h1.1M204.3 307.3h1.1M205.1 307.4h1.1M206.2 307.1h1.1M208.3 307.3h1.1M209.2 307.0h1.1M210.2 307.1h1.1M212.1 307.1h1.1M202.1 308.3h1.1M203.0 308.4h1.1M204.2 308.2h1.1M205.1 308.1h1.1M206.1 308.0h1.1M207.1 308.4h1.1M208.2 308.2h1.1M209.2 308.4h1.1M211.3 308.2h1.1M203.0 309.1h1.1M205.1 309.2h1.1M208.3 309.1h1.1M209.3 309.1h1.1M206.2 310.4h1.1" stroke="#000" stroke-width="1.1" fill="none"/>
<circle cx="248" cy="341.7" r="8.3" fill="#000"/><circle cx="248" cy="341.7" r="6.90" fill="#fff"/><path d="M246.2 335.3h1.1M247.1 335.3h1.1M248.4 335.3h1.1M249.1 335.4h1.1M244.3 336.3h1.1M245.3 336.1h1.1M247.3 336.1h1.1M250.1 336.1h1.1M245.3 337.0h1.1M246.2 337.0h1.1M247.3 337.1h1.1M248.3 337.4h1.1M249.0 337.3h1.1M250.0 337.4h1.1M251.3 337.1h1.1M242.1 338.3h1.1M243.1 338.2h1.1M245.3 338.2h1.1M247.1 338.3h1.1M248.0 338.3h1.1M252.1 338.3h1.1M241.2 339.0h1.1M243.3 339.2h1.1M244.2 339.3h1.1M245.4 339.1h1.1M248.4 339.4h1.1M249.3 339.2h1.1M250.0 339.4h1.1M251.3 339.0h1.1M254.1 339.2h1.1M242.3 340.3h1.1M246.1 340.2h1.1M248.3 340.3h1.1M249.1 340.1h1.1M251.2 340.3h1.1M253.4 340.0h1.1M254.2 340.4h1.1M241.3 341.1h1.1M243.2 341.0h1.1M246.4 341.2h1.1M247.4 341.0h1.1M248.4 341.4h1.1M251.1 341.1h1.1M253.1 341.1h1.1M241.0 342.3h1.1M243.3 342.0h1.1M244.4 342.4h1.1M249.0 342.2h1.1M250.0 342.1h1.1M251.1 342.1h1.1M252.3 342.3h1.1M253.2 342.3h1.1M254.1 342.1h1.1M241.3 343.2h1.1M242.1 343.3h1.1M243.1 343.3h1.1M244.1 343.1h1.1M245.0 343.3h1.1M246.3 343.2h1.1M248.2 343.1h1.1M254.0 343.0h1.1M242.3 344.1h1.1M243.1 344.1h1.1M244.4 344.2h1.1M246.0 344.2h1.1M247.1 344.0h1.1M251.1 344.2h1.1M253.1 344.3h1.1M244.3 345.1h1.1M247.2 345.3h1.1M248.0 345.4h1.1M249.3 345.0h1.1M250.2 345.2h1.1M251.1 345.3h1.1M253.3 345.4h1.1M244.2 346.3h1.1M245.3 346.2h1.1M247.2 346.4h1.1M249.2 346.1h1.1M250.1 346.1h1.1M252.1 346.2h1.1M244.3 347.3h1.1M245.3 347.0h1.1M246.3 347.3h1.1M249.2 347.3h1.1M247.3 348.3h1.1" stroke="#000" stroke-width="1.1" fill="none"/>
<path d="M220.5,330.3a3.0,3.0 0 1,0 6.0,0a3.0,3.0 0 1,0 -6.0,0M238.6,323.4a3.0,3.0 0 1,0 6.0,0a3.0,3.0 0 1,0 -6.0,0M215.2,320.1a3.0,3.0 0 1,0 6.0,0a3.0,3.0 0 1,0 -6.0,0M223.7,326.5a3.0,3.0 0 1,0 6.0,0a3.0,3.0 0 1,0 -6.0,0M207.7,329.3a3.0,3.0 0 1,0 6.0,0a3.0,3.0 0 1,0 -6.0,0M209.4,324.1a3.0,3.0 0 1,0 6.0,0a3.0,3.0 0 1,0 -6.0,0M209.2,318.6a3.0,3.0 0 1,0 6.0,0a3.0,3.0 0 1,0 -6.0,0M235.0,316.3a3.0,3.0 0 1,0 6.0,0a3.0,3.0 0 1,0 -6.0,0M225.4,313.1a3.0,3.0 0 1,0 6.0,0a3.0,3.0 0 1,0 -6.0,0M238.7,317.6a3.0,3.0 0 1,0 6.0,0a3.0,3.0 0 1,0 -6.0,0M230.5,319.9a3.0,3.0 0 1,0 6.0,0a3.0,3.0 0 1,0 -6.0,0M230.1,316.0a3.0,3.0 0 1,0 6.0,0a3.0,3.0 0 1,0 -6.0,0M213.2,326.0a3.0,3.0 0 1,0 6.0,0a3.0,3.0 0 1,0 -6.0,0M214.1,335.0a3.0,3.0 0 1,0 6.0,0a3.0,3.0 0 1,0 -6.0,0M224.8,321.4a3.0,3.0 0 1,0 6.0,0a3.0,3.0 0 1,0 -6.0,0M239.3,327.4a3.0,3.0 0 1,0 6.0,0a3.0,3.0 0 1,0 -6.0,0M227.4,332.1a3.0,3.0 0 1,0 6.0,0a3.0,3.0 0 1,0 -6.0,0M218.4,335.3a3.0,3.0 0 1,0 6.0,0a3.0,3.0 0 1,0 -6.0,0M226.0,309.3a3.0,3.0 0 1,0 6.0,0a3.0,3.0 0 1,0 -6.0,0M235.8,320.1a3.0,3.0 0 1,0 6.0,0a3.0,3.0 0 1,0 -6.0,0M232.8,326.1a3.0,3.0 0 1,0 6.0,0a3.0,3.0 0 1,0 -6.0,0M215.2,329.2a3.0,3.0 0 1,0 6.0,0a3.0,3.0 0 1,0 -6.0,0M222.7,335.6a3.0,3.0 0 1,0 6.0,0a3.0,3.0 0 1,0 -6.0,0M227.0,324.5a3.0,3.0 0 1,0 6.0,0a3.0,3.0 0 1,0 -6.0,0M229.2,328.0a3.0,3.0 0 1,0 6.0,0a3.0,3.0 0 1,0 -6.0,0M219.6,321.2a3.0,3.0 0 1,0 6.0,0a3.0,3.0 0 1,0 -6.0,0M230.5,334.8a3.0,3.0 0 1,0 6.0,0a3.0,3.0 0 1,0 -6.0,0M214.9,311.8a3.0,3.0 0 1,0 6.0,0a3.0,3.0 0 1,0 -6.0,0M230.4,311.9a3.0,3.0 0 1,0 6.0,0a3.0,3.0 0 1,0 -6.0,0M210.2,334.6a3.0,3.0 0 1,0 6.0,0a3.0,3.0 0 1,0 -6.0,0M237.4,332.2a3.0,3.0 0 1,0 6.0,0a3.0,3.0 0 1,0 -6.0,0M222.6,317.4a3.0,3.0 0 1,0 6.0,0a3.0,3.0 0 1,0 -6.0,0M206.1,320.9a3.0,3.0 0 1,0 6.0,0a3.0,3.0 0 1,0 -6.0,0M216.3,315.3a3.0,3.0 0 1,0 6.0,0a3.0,3.0 0 1,0 -6.0,0M220.0,314.0a3.0,3.0 0 1,0 6.0,0a3.0,3.0 0 1,0 -6.0,0M219.4,325.8a3.0,3.0 0 1,0 6.0,0a3.0,3.0 0 1,0 -6.0,0M226.4,317.0a3.0,3.0 0 1,0 6.0,0a3.0,3.0 0 1,0 -6.0,0M227.9,338.3a3.0,3.0 0 1,0 6.0,0a3.0,3.0 0 1,0 -6.0,0M235.2,329.1a3.0,3.0 0 1,0 6.0,0a3.0,3.0 0 1,0 -6.0,0M211.9,315.9a3.0,3.0 0 1,0 6.0,0a3.0,3.0 0 1,0 -6.0,0M218.5,310.5a3.0,3.0 0 1,0 6.0,0a3.0,3.0 0 1,0 -6.0,0M205.3,324.8a3.0,3.0 0 1,0 6.0,0a3.0,3.0 0 1,0 -6.0,0M211.2,330.9a3.0,3.0 0 1,0 6.0,0a3.0,3.0 0 1,0 -6.0,0M231.9,331.2a3.0,3.0 0 1,0 6.0,0a3.0,3.0 0 1,0 -6.0,0M234.6,334.8a3.0,3.0 0 1,0 6.0,0a3.0,3.0 0 1,0 -6.0,0M234.3,312.3a3.0,3.0 0 1,0 6.0,0a3.0,3.0 0 1,0 -6.0,0M220.3,338.7a3.0,3.0 0 1,0 6.0,0a3.0,3.0 0 1,0 -6.0,0M222.1,309.1a3.0,3.0 0 1,0 6.0,0a3.0,3.0 0 1,0 -6.0,0" fill="#000"/><ellipse cx="226" cy="324" rx="18.2" ry="15.4" fill="#000"/><path d="M222.0,330.3a1.5,1.5 0 1,0 3.0,0a1.5,1.5 0 1,0 -3.0,0M240.4,323.4a1.3,1.3 0 1,0 2.5,0a1.3,1.3 0 1,0 -2.5,0M217.1,320.1a1.1,1.1 0 1,0 2.3,0a1.1,1.1 0 1,0 -2.3,0M225.4,326.5a1.4,1.4 0 1,0 2.7,0a1.4,1.4 0 1,0 -2.7,0M209.4,329.3a1.3,1.3 0 1,0 2.5,0a1.3,1.3 0 1,0 -2.5,0M211.6,324.1a0.7,0.7 0 1,0 1.5,0a0.7,0.7 0 1,0 -1.5,0M210.5,318.6a1.7,1.7 0 1,0 3.3,0a1.7,1.7 0 1,0 -3.3,0M236.4,316.3a1.5,1.5 0 1,0 3.0,0a1.5,1.5 0 1,0 -3.0,0M226.9,313.1a1.4,1.4 0 1,0 2.9,0a1.4,1.4 0 1,0 -2.9,0M240.0,317.6a1.7,1.7 0 1,0 3.4,0a1.7,1.7 0 1,0 -3.4,0M232.7,319.9a0.9,0.9 0 1,0 1.7,0a0.9,0.9 0 1,0 -1.7,0M231.9,316.0a1.3,1.3 0 1,0 2.5,0a1.3,1.3 0 1,0 -2.5,0M215.2,326.0a0.9,0.9 0 1,0 1.9,0a0.9,0.9 0 1,0 -1.9,0M215.9,335.0a1.3,1.3 0 1,0 2.6,0a1.3,1.3 0 1,0 -2.6,0M226.4,321.4a1.4,1.4 0 1,0 2.8,0a1.4,1.4 0 1,0 -2.8,0M241.2,327.4a1.1,1.1 0 1,0 2.3,0a1.1,1.1 0 1,0 -2.3,0M229.4,332.1a1.0,1.0 0 1,0 2.0,0a1.0,1.0 0 1,0 -2.0,0M219.8,335.3a1.6,1.6 0 1,0 3.2,0a1.6,1.6 0 1,0 -3.2,0M227.9,309.3a1.1,1.1 0 1,0 2.2,0a1.1,1.1 0 1,0 -2.2,0M237.7,320.1a1.1,1.1 0 1,0 2.1,0a1.1,1.1 0 1,0 -2.1,0M234.9,326.1a0.8,0.8 0 1,0 1.7,0a0.8,0.8 0 1,0 -1.7,0M217.2,329.2a1.0,1.0 0 1,0 1.9,0a1.0,1.0 0 1,0 -1.9,0M224.3,335.6a1.5,1.5 0 1,0 2.9,0a1.5,1.5 0 1,0 -2.9,0M228.6,324.5a1.3,1.3 0 1,0 2.7,0a1.3,1.3 0 1,0 -2.7,0M231.4,328.0a0.8,0.8 0 1,0 1.6,0a0.8,0.8 0 1,0 -1.6,0M221.2,321.2a1.4,1.4 0 1,0 2.9,0a1.4,1.4 0 1,0 -2.9,0M232.5,334.8a0.9,0.9 0 1,0 1.9,0a0.9,0.9 0 1,0 -1.9,0M216.6,311.8a1.3,1.3 0 1,0 2.5,0a1.3,1.3 0 1,0 -2.5,0M232.7,311.9a0.7,0.7 0 1,0 1.4,0a0.7,0.7 0 1,0 -1.4,0M212.3,334.6a0.9,0.9 0 1,0 1.9,0a0.9,0.9 0 1,0 -1.9,0M238.7,332.2a1.6,1.6 0 1,0 3.3,0a1.6,1.6 0 1,0 -3.3,0M223.9,317.4a1.7,1.7 0 1,0 3.3,0a1.7,1.7 0 1,0 -3.3,0M208.1,320.9a1.0,1.0 0 1,0 2.0,0a1.0,1.0 0 1,0 -2.0,0M218.1,315.3a1.2,1.2 0 1,0 2.4,0a1.2,1.2 0 1,0 -2.4,0M221.7,314.0a1.2,1.2 0 1,0 2.4,0a1.2,1.2 0 1,0 -2.4,0M221.0,325.8a1.4,1.4 0 1,0 2.8,0a1.4,1.4 0 1,0 -2.8,0M228.2,317.0a1.1,1.1 0 1,0 2.2,0a1.1,1.1 0 1,0 -2.2,0M229.5,338.3a1.3,1.3 0 1,0 2.7,0a1.3,1.3 0 1,0 -2.7,0M237.3,329.1a0.9,0.9 0 1,0 1.7,0a0.9,0.9 0 1,0 -1.7,0M214.0,315.9a0.9,0.9 0 1,0 1.8,0a0.9,0.9 0 1,0 -1.8,0M220.8,310.5a0.7,0.7 0 1,0 1.4,0a0.7,0.7 0 1,0 -1.4,0M206.7,324.8a1.6,1.6 0 1,0 3.2,0a1.6,1.6 0 1,0 -3.2,0M213.3,330.9a1.0,1.0 0 1,0 2.0,0a1.0,1.0 0 1,0 -2.0,0M233.6,331.2a1.4,1.4 0 1,0 2.7,0a1.4,1.4 0 1,0 -2.7,0M236.6,334.8a1.0,1.0 0 1,0 1.9,0a1.0,1.0 0 1,0 -1.9,0M236.0,312.3a1.3,1.3 0 1,0 2.7,0a1.3,1.3 0 1,0 -2.7,0M221.7,338.7a1.6,1.6 0 1,0 3.2,0a1.6,1.6 0 1,0 -3.2,0M224.4,309.1a0.7,0.7 0 1,0 1.5,0a0.7,0.7 0 1,0 -1.5,0" fill="#fff"/>
<path d="M175.8,239.8a4.3,4.3 0 1,0 8.6,0a4.3,4.3 0 1,0 -8.6,0M164.6,281.2a4.3,4.3 0 1,0 8.6,0a4.3,4.3 0 1,0 -8.6,0M174.3,275.6a4.3,4.3 0 1,0 8.6,0a4.3,4.3 0 1,0 -8.6,0M214.3,261.2a4.3,4.3 0 1,0 8.6,0a4.3,4.3 0 1,0 -8.6,0M190.9,241.0a4.3,4.3 0 1,0 8.6,0a4.3,4.3 0 1,0 -8.6,0M173.6,253.7a4.3,4.3 0 1,0 8.6,0a4.3,4.3 0 1,0 -8.6,0M157.7,273.9a4.3,4.3 0 1,0 8.6,0a4.3,4.3 0 1,0 -8.6,0M184.8,282.3a4.3,4.3 0 1,0 8.6,0a4.3,4.3 0 1,0 -8.6,0M175.7,244.9a4.3,4.3 0 1,0 8.6,0a4.3,4.3 0 1,0 -8.6,0M185.2,259.2a4.3,4.3 0 1,0 8.6,0a4.3,4.3 0 1,0 -8.6,0M203.7,269.1a4.3,4.3 0 1,0 8.6,0a4.3,4.3 0 1,0 -8.6,0M214.7,273.9a4.3,4.3 0 1,0 8.6,0a4.3,4.3 0 1,0 -8.6,0M177.3,231.4a4.3,4.3 0 1,0 8.6,0a4.3,4.3 0 1,0 -8.6,0M184.4,239.9a4.3,4.3 0 1,0 8.6,0a4.3,4.3 0 1,0 -8.6,0M165.2,254.9a4.3,4.3 0 1,0 8.6,0a4.3,4.3 0 1,0 -8.6,0M208.9,269.4a4.3,4.3 0 1,0 8.6,0a4.3,4.3 0 1,0 -8.6,0M190.5,255.2a4.3,4.3 0 1,0 8.6,0a4.3,4.3 0 1,0 -8.6,0M161.6,266.5a4.3,4.3 0 1,0 8.6,0a4.3,4.3 0 1,0 -8.6,0M204.2,287.6a4.3,4.3 0 1,0 8.6,0a4.3,4.3 0 1,0 -8.6,0M205.9,238.8a4.3,4.3 0 1,0 8.6,0a4.3,4.3 0 1,0 -8.6,0M167.4,268.3a4.3,4.3 0 1,0 8.6,0a4.3,4.3 0 1,0 -8.6,0M205.9,254.6a4.3,4.3 0 1,0 8.6,0a4.3,4.3 0 1,0 -8.6,0M198.7,254.5a4.3,4.3 0 1,0 8.6,0a4.3,4.3 0 1,0 -8.6,0M169.1,273.4a4.3,4.3 0 1,0 8.6,0a4.3,4.3 0 1,0 -8.6,0M169.1,289.7a4.3,4.3 0 1,0 8.6,0a4.3,4.3 0 1,0 -8.6,0M195.2,243.5a4.3,4.3 0 1,0 8.6,0a4.3,4.3 0 1,0 -8.6,0M178.2,296.3a4.3,4.3 0 1,0 8.6,0a4.3,4.3 0 1,0 -8.6,0M182.9,292.1a4.3,4.3 0 1,0 8.6,0a4.3,4.3 0 1,0 -8.6,0M194.1,270.2a4.3,4.3 0 1,0 8.6,0a4.3,4.3 0 1,0 -8.6,0M210.6,250.6a4.3,4.3 0 1,0 8.6,0a4.3,4.3 0 1,0 -8.6,0M194.0,280.0a4.3,4.3 0 1,0 8.6,0a4.3,4.3 0 1,0 -8.6,0M163.3,288.7a4.3,4.3 0 1,0 8.6,0a4.3,4.3 0 1,0 -8.6,0M200.5,237.4a4.3,4.3 0 1,0 8.6,0a4.3,4.3 0 1,0 -8.6,0M200.6,279.7a4.3,4.3 0 1,0 8.6,0a4.3,4.3 0 1,0 -8.6,0M184.9,270.9a4.3,4.3 0 1,0 8.6,0a4.3,4.3 0 1,0 -8.6,0M154.3,247.8a4.3,4.3 0 1,0 8.6,0a4.3,4.3 0 1,0 -8.6,0M215.9,255.8a4.3,4.3 0 1,0 8.6,0a4.3,4.3 0 1,0 -8.6,0M186.8,295.2a4.3,4.3 0 1,0 8.6,0a4.3,4.3 0 1,0 -8.6,0M156.1,258.0a4.3,4.3 0 1,0 8.6,0a4.3,4.3 0 1,0 -8.6,0M164.7,245.2a4.3,4.3 0 1,0 8.6,0a4.3,4.3 0 1,0 -8.6,0M182.3,249.8a4.3,4.3 0 1,0 8.6,0a4.3,4.3 0 1,0 -8.6,0M187.7,264.4a4.3,4.3 0 1,0 8.6,0a4.3,4.3 0 1,0 -8.6,0M171.4,242.0a4.3,4.3 0 1,0 8.6,0a4.3,4.3 0 1,0 -8.6,0M159.1,245.4a4.3,4.3 0 1,0 8.6,0a4.3,4.3 0 1,0 -8.6,0M186.9,276.9a4.3,4.3 0 1,0 8.6,0a4.3,4.3 0 1,0 -8.6,0M209.4,278.1a4.3,4.3 0 1,0 8.6,0a4.3,4.3 0 1,0 -8.6,0M160.2,238.3a4.3,4.3 0 1,0 8.6,0a4.3,4.3 0 1,0 -8.6,0M168.0,234.1a4.3,4.3 0 1,0 8.6,0a4.3,4.3 0 1,0 -8.6,0M190.4,248.5a4.3,4.3 0 1,0 8.6,0a4.3,4.3 0 1,0 -8.6,0M175.5,262.9a4.3,4.3 0 1,0 8.6,0a4.3,4.3 0 1,0 -8.6,0M153.3,262.1a4.3,4.3 0 1,0 8.6,0a4.3,4.3 0 1,0 -8.6,0M156.4,279.6a4.3,4.3 0 1,0 8.6,0a4.3,4.3 0 1,0 -8.6,0M207.2,244.0a4.3,4.3 0 1,0 8.6,0a4.3,4.3 0 1,0 -8.6,0M195.1,262.3a4.3,4.3 0 1,0 8.6,0a4.3,4.3 0 1,0 -8.6,0M201.9,249.7a4.3,4.3 0 1,0 8.6,0a4.3,4.3 0 1,0 -8.6,0M190.5,286.8a4.3,4.3 0 1,0 8.6,0a4.3,4.3 0 1,0 -8.6,0M198.0,284.8a4.3,4.3 0 1,0 8.6,0a4.3,4.3 0 1,0 -8.6,0M178.5,257.9a4.3,4.3 0 1,0 8.6,0a4.3,4.3 0 1,0 -8.6,0M171.0,283.1a4.3,4.3 0 1,0 8.6,0a4.3,4.3 0 1,0 -8.6,0M192.9,231.6a4.3,4.3 0 1,0 8.6,0a4.3,4.3 0 1,0 -8.6,0M168.1,249.8a4.3,4.3 0 1,0 8.6,0a4.3,4.3 0 1,0 -8.6,0M174.9,289.2a4.3,4.3 0 1,0 8.6,0a4.3,4.3 0 1,0 -8.6,0M172.0,229.7a4.3,4.3 0 1,0 8.6,0a4.3,4.3 0 1,0 -8.6,0M163.2,273.2a4.3,4.3 0 1,0 8.6,0a4.3,4.3 0 1,0 -8.6,0M150.2,254.5a4.3,4.3 0 1,0 8.6,0a4.3,4.3 0 1,0 -8.6,0M154.8,268.6a4.3,4.3 0 1,0 8.6,0a4.3,4.3 0 1,0 -8.6,0M181.0,286.3a4.3,4.3 0 1,0 8.6,0a4.3,4.3 0 1,0 -8.6,0M212.5,245.9a4.3,4.3 0 1,0 8.6,0a4.3,4.3 0 1,0 -8.6,0M195.4,249.7a4.3,4.3 0 1,0 8.6,0a4.3,4.3 0 1,0 -8.6,0M185.3,231.7a4.3,4.3 0 1,0 8.6,0a4.3,4.3 0 1,0 -8.6,0M197.9,293.4a4.3,4.3 0 1,0 8.6,0a4.3,4.3 0 1,0 -8.6,0M174.8,269.6a4.3,4.3 0 1,0 8.6,0a4.3,4.3 0 1,0 -8.6,0M209.9,258.0a4.3,4.3 0 1,0 8.6,0a4.3,4.3 0 1,0 -8.6,0M200.9,263.4a4.3,4.3 0 1,0 8.6,0a4.3,4.3 0 1,0 -8.6,0M179.0,280.0a4.3,4.3 0 1,0 8.6,0a4.3,4.3 0 1,0 -8.6,0M209.8,264.3a4.3,4.3 0 1,0 8.6,0a4.3,4.3 0 1,0 -8.6,0M166.1,260.5a4.3,4.3 0 1,0 8.6,0a4.3,4.3 0 1,0 -8.6,0M180.0,236.5a4.3,4.3 0 1,0 8.6,0a4.3,4.3 0 1,0 -8.6,0M185.7,244.9a4.3,4.3 0 1,0 8.6,0a4.3,4.3 0 1,0 -8.6,0M182.6,266.3a4.3,4.3 0 1,0 8.6,0a4.3,4.3 0 1,0 -8.6,0M157.3,251.7a4.3,4.3 0 1,0 8.6,0a4.3,4.3 0 1,0 -8.6,0M180.6,274.0a4.3,4.3 0 1,0 8.6,0a4.3,4.3 0 1,0 -8.6,0M159.5,261.7a4.3,4.3 0 1,0 8.6,0a4.3,4.3 0 1,0 -8.6,0M195.1,236.9a4.3,4.3 0 1,0 8.6,0a4.3,4.3 0 1,0 -8.6,0M150.4,266.3a4.3,4.3 0 1,0 8.6,0a4.3,4.3 0 1,0 -8.6,0M159.6,283.6a4.3,4.3 0 1,0 8.6,0a4.3,4.3 0 1,0 -8.6,0M203.4,275.4a4.3,4.3 0 1,0 8.6,0a4.3,4.3 0 1,0 -8.6,0M198.4,272.6a4.3,4.3 0 1,0 8.6,0a4.3,4.3 0 1,0 -8.6,0M198.1,232.4a4.3,4.3 0 1,0 8.6,0a4.3,4.3 0 1,0 -8.6,0M185.6,253.6a4.3,4.3 0 1,0 8.6,0a4.3,4.3 0 1,0 -8.6,0M192.4,291.8a4.3,4.3 0 1,0 8.6,0a4.3,4.3 0 1,0 -8.6,0M180.8,227.8a4.3,4.3 0 1,0 8.6,0a4.3,4.3 0 1,0 -8.6,0M200.1,242.4a4.3,4.3 0 1,0 8.6,0a4.3,4.3 0 1,0 -8.6,0M166.4,240.1a4.3,4.3 0 1,0 8.6,0a4.3,4.3 0 1,0 -8.6,0M163.0,233.7a4.3,4.3 0 1,0 8.6,0a4.3,4.3 0 1,0 -8.6,0M152.1,273.9a4.3,4.3 0 1,0 8.6,0a4.3,4.3 0 1,0 -8.6,0M214.7,267.0a4.3,4.3 0 1,0 8.6,0a4.3,4.3 0 1,0 -8.6,0M205.3,281.3a4.3,4.3 0 1,0 8.6,0a4.3,4.3 0 1,0 -8.6,0M172.8,235.8a4.3,4.3 0 1,0 8.6,0a4.3,4.3 0 1,0 -8.6,0M173.5,294.7a4.3,4.3 0 1,0 8.6,0a4.3,4.3 0 1,0 -8.6,0M172.3,259.1a4.3,4.3 0 1,0 8.6,0a4.3,4.3 0 1,0 -8.6,0M155.2,242.2a4.3,4.3 0 1,0 8.6,0a4.3,4.3 0 1,0 -8.6,0M180.5,243.3a4.3,4.3 0 1,0 8.6,0a4.3,4.3 0 1,0 -8.6,0M205.4,260.8a4.3,4.3 0 1,0 8.6,0a4.3,4.3 0 1,0 -8.6,0M176.0,284.3a4.3,4.3 0 1,0 8.6,0a4.3,4.3 0 1,0 -8.6,0M192.2,274.9a4.3,4.3 0 1,0 8.6,0a4.3,4.3 0 1,0 -8.6,0M188.7,227.9a4.3,4.3 0 1,0 8.6,0a4.3,4.3 0 1,0 -8.6,0M188.7,235.7a4.3,4.3 0 1,0 8.6,0a4.3,4.3 0 1,0 -8.6,0M161.9,249.8a4.3,4.3 0 1,0 8.6,0a4.3,4.3 0 1,0 -8.6,0M177.3,250.1a4.3,4.3 0 1,0 8.6,0a4.3,4.3 0 1,0 -8.6,0M148.9,259.6a4.3,4.3 0 1,0 8.6,0a4.3,4.3 0 1,0 -8.6,0M170.6,264.3a4.3,4.3 0 1,0 8.6,0a4.3,4.3 0 1,0 -8.6,0" fill="#000"/><ellipse cx="187" cy="262" rx="34.6" ry="35.5" fill="#000"/><path d="M178.4,239.8a1.7,1.7 0 1,0 3.4,0a1.7,1.7 0 1,0 -3.4,0M167.5,281.2a1.4,1.4 0 1,0 2.8,0a1.4,1.4 0 1,0 -2.8,0M176.8,275.6a1.8,1.8 0 1,0 3.6,0a1.8,1.8 0 1,0 -3.6,0M216.4,261.2a2.1,2.1 0 1,0 4.2,0a2.1,2.1 0 1,0 -4.2,0M192.5,241.0a2.7,2.7 0 1,0 5.4,0a2.7,2.7 0 1,0 -5.4,0M175.8,253.7a2.1,2.1 0 1,0 4.3,0a2.1,2.1 0 1,0 -4.3,0M160.0,273.9a2.0,2.0 0 1,0 4.0,0a2.0,2.0 0 1,0 -4.0,0M187.3,282.3a1.8,1.8 0 1,0 3.5,0a1.8,1.8 0 1,0 -3.5,0M178.5,244.9a1.5,1.5 0 1,0 2.9,0a1.5,1.5 0 1,0 -2.9,0M187.0,259.2a2.4,2.4 0 1,0 4.9,0a2.4,2.4 0 1,0 -4.9,0M205.4,269.1a2.6,2.6 0 1,0 5.3,0a2.6,2.6 0 1,0 -5.3,0M217.4,273.9a1.6,1.6 0 1,0 3.1,0a1.6,1.6 0 1,0 -3.1,0M179.7,231.4a1.9,1.9 0 1,0 3.9,0a1.9,1.9 0 1,0 -3.9,0M186.2,239.9a2.5,2.5 0 1,0 5.0,0a2.5,2.5 0 1,0 -5.0,0M167.4,254.9a2.1,2.1 0 1,0 4.3,0a2.1,2.1 0 1,0 -4.3,0M210.8,269.4a2.4,2.4 0 1,0 4.8,0a2.4,2.4 0 1,0 -4.8,0M193.2,255.2a1.6,1.6 0 1,0 3.2,0a1.6,1.6 0 1,0 -3.2,0M163.9,266.5a2.0,2.0 0 1,0 4.0,0a2.0,2.0 0 1,0 -4.0,0M207.0,287.6a1.5,1.5 0 1,0 3.0,0a1.5,1.5 0 1,0 -3.0,0M208.5,238.8a1.7,1.7 0 1,0 3.4,0a1.7,1.7 0 1,0 -3.4,0M170.4,268.3a1.3,1.3 0 1,0 2.6,0a1.3,1.3 0 1,0 -2.6,0M208.1,254.6a2.1,2.1 0 1,0 4.2,0a2.1,2.1 0 1,0 -4.2,0M200.9,254.5a2.1,2.1 0 1,0 4.2,0a2.1,2.1 0 1,0 -4.2,0M171.5,273.4a1.9,1.9 0 1,0 3.8,0a1.9,1.9 0 1,0 -3.8,0M171.5,289.7a1.9,1.9 0 1,0 3.7,0a1.9,1.9 0 1,0 -3.7,0M197.6,243.5a2.0,2.0 0 1,0 3.9,0a2.0,2.0 0 1,0 -3.9,0M181.1,296.3a1.4,1.4 0 1,0 2.9,0a1.4,1.4 0 1,0 -2.9,0M185.2,292.1a2.1,2.1 0 1,0 4.1,0a2.1,2.1 0 1,0 -4.1,0M196.7,270.2a1.7,1.7 0 1,0 3.5,0a1.7,1.7 0 1,0 -3.5,0M212.4,250.6a2.5,2.5 0 1,0 4.9,0a2.5,2.5 0 1,0 -4.9,0M196.0,280.0a2.3,2.3 0 1,0 4.6,0a2.3,2.3 0 1,0 -4.6,0M166.1,288.7a1.5,1.5 0 1,0 3.0,0a1.5,1.5 0 1,0 -3.0,0M202.2,237.4a2.6,2.6 0 1,0 5.2,0a2.6,2.6 0 1,0 -5.2,0M203.0,279.7a1.9,1.9 0 1,0 3.8,0a1.9,1.9 0 1,0 -3.8,0M187.2,270.9a2.0,2.0 0 1,0 4.1,0a2.0,2.0 0 1,0 -4.1,0M156.7,247.8a1.9,1.9 0 1,0 3.8,0a1.9,1.9 0 1,0 -3.8,0M218.1,255.8a2.1,2.1 0 1,0 4.2,0a2.1,2.1 0 1,0 -4.2,0M189.3,295.2a1.8,1.8 0 1,0 3.6,0a1.8,1.8 0 1,0 -3.6,0M158.3,258.0a2.1,2.1 0 1,0 4.2,0a2.1,2.1 0 1,0 -4.2,0M167.0,245.2a2.0,2.0 0 1,0 4.0,0a2.0,2.0 0 1,0 -4.0,0M184.3,249.8a2.3,2.3 0 1,0 4.6,0a2.3,2.3 0 1,0 -4.6,0M189.9,264.4a2.1,2.1 0 1,0 4.2,0a2.1,2.1 0 1,0 -4.2,0M173.3,242.0a2.3,2.3 0 1,0 4.6,0a2.3,2.3 0 1,0 -4.6,0M161.6,245.4a1.7,1.7 0 1,0 3.5,0a1.7,1.7 0 1,0 -3.5,0M189.2,276.9a2.0,2.0 0 1,0 4.0,0a2.0,2.0 0 1,0 -4.0,0M211.5,278.1a2.2,2.2 0 1,0 4.3,0a2.2,2.2 0 1,0 -4.3,0M163.0,238.3a1.5,1.5 0 1,0 3.1,0a1.5,1.5 0 1,0 -3.1,0M170.3,234.1a2.0,2.0 0 1,0 4.0,0a2.0,2.0 0 1,0 -4.0,0M192.7,248.5a1.9,1.9 0 1,0 3.9,0a1.9,1.9 0 1,0 -3.9,0M177.5,262.9a2.3,2.3 0 1,0 4.6,0a2.3,2.3 0 1,0 -4.6,0M156.1,262.1a1.4,1.4 0 1,0 2.9,0a1.4,1.4 0 1,0 -2.9,0M159.3,279.6a1.4,1.4 0 1,0 2.8,0a1.4,1.4 0 1,0 -2.8,0M209.1,244.0a2.4,2.4 0 1,0 4.9,0a2.4,2.4 0 1,0 -4.9,0M196.9,262.3a2.5,2.5 0 1,0 5.0,0a2.5,2.5 0 1,0 -5.0,0M204.4,249.7a1.8,1.8 0 1,0 3.7,0a1.8,1.8 0 1,0 -3.7,0M193.1,286.8a1.7,1.7 0 1,0 3.4,0a1.7,1.7 0 1,0 -3.4,0M200.6,284.8a1.6,1.6 0 1,0 3.3,0a1.6,1.6 0 1,0 -3.3,0M181.4,257.9a1.4,1.4 0 1,0 2.8,0a1.4,1.4 0 1,0 -2.8,0M173.7,283.1a1.6,1.6 0 1,0 3.2,0a1.6,1.6 0 1,0 -3.2,0M195.4,231.6a1.8,1.8 0 1,0 3.5,0a1.8,1.8 0 1,0 -3.5,0M171.0,249.8a1.4,1.4 0 1,0 2.9,0a1.4,1.4 0 1,0 -2.9,0M177.5,289.2a1.7,1.7 0 1,0 3.4,0a1.7,1.7 0 1,0 -3.4,0M174.0,229.7a2.3,2.3 0 1,0 4.7,0a2.3,2.3 0 1,0 -4.7,0M165.8,273.2a1.7,1.7 0 1,0 3.4,0a1.7,1.7 0 1,0 -3.4,0M152.6,254.5a1.9,1.9 0 1,0 3.8,0a1.9,1.9 0 1,0 -3.8,0M157.8,268.6a1.4,1.4 0 1,0 2.7,0a1.4,1.4 0 1,0 -2.7,0M183.7,286.3a1.6,1.6 0 1,0 3.2,0a1.6,1.6 0 1,0 -3.2,0M214.2,245.9a2.6,2.6 0 1,0 5.3,0a2.6,2.6 0 1,0 -5.3,0M197.8,249.7a1.9,1.9 0 1,0 3.8,0a1.9,1.9 0 1,0 -3.8,0M187.9,231.7a1.7,1.7 0 1,0 3.5,0a1.7,1.7 0 1,0 -3.5,0M200.2,293.4a2.0,2.0 0 1,0 4.0,0a2.0,2.0 0 1,0 -4.0,0M177.5,269.6a1.5,1.5 0 1,0 3.1,0a1.5,1.5 0 1,0 -3.1,0M212.4,258.0a1.9,1.9 0 1,0 3.7,0a1.9,1.9 0 1,0 -3.7,0M202.8,263.4a2.3,2.3 0 1,0 4.7,0a2.3,2.3 0 1,0 -4.7,0M181.9,280.0a1.4,1.4 0 1,0 2.8,0a1.4,1.4 0 1,0 -2.8,0M211.8,264.3a2.4,2.4 0 1,0 4.7,0a2.4,2.4 0 1,0 -4.7,0M168.5,260.5a1.9,1.9 0 1,0 3.8,0a1.9,1.9 0 1,0 -3.8,0M182.6,236.5a1.7,1.7 0 1,0 3.4,0a1.7,1.7 0 1,0 -3.4,0M187.3,244.9a2.7,2.7 0 1,0 5.4,0a2.7,2.7 0 1,0 -5.4,0M185.5,266.3a1.5,1.5 0 1,0 3.0,0a1.5,1.5 0 1,0 -3.0,0M159.6,251.7a2.0,2.0 0 1,0 4.0,0a2.0,2.0 0 1,0 -4.0,0M183.6,274.0a1.3,1.3 0 1,0 2.7,0a1.3,1.3 0 1,0 -2.7,0M162.1,261.7a1.6,1.6 0 1,0 3.3,0a1.6,1.6 0 1,0 -3.3,0M196.8,236.9a2.6,2.6 0 1,0 5.2,0a2.6,2.6 0 1,0 -5.2,0M153.2,266.3a1.5,1.5 0 1,0 3.0,0a1.5,1.5 0 1,0 -3.0,0M162.2,283.6a1.7,1.7 0 1,0 3.4,0a1.7,1.7 0 1,0 -3.4,0M206.0,275.4a1.7,1.7 0 1,0 3.4,0a1.7,1.7 0 1,0 -3.4,0M200.3,272.6a2.4,2.4 0 1,0 4.8,0a2.4,2.4 0 1,0 -4.8,0M200.7,232.4a1.7,1.7 0 1,0 3.4,0a1.7,1.7 0 1,0 -3.4,0M187.4,253.6a2.5,2.5 0 1,0 5.0,0a2.5,2.5 0 1,0 -5.0,0M194.5,291.8a2.2,2.2 0 1,0 4.4,0a2.2,2.2 0 1,0 -4.4,0M182.4,227.8a2.7,2.7 0 1,0 5.4,0a2.7,2.7 0 1,0 -5.4,0M202.6,242.4a1.8,1.8 0 1,0 3.6,0a1.8,1.8 0 1,0 -3.6,0M168.6,240.1a2.1,2.1 0 1,0 4.2,0a2.1,2.1 0 1,0 -4.2,0M165.5,233.7a1.9,1.9 0 1,0 3.7,0a1.9,1.9 0 1,0 -3.7,0M155.1,273.9a1.3,1.3 0 1,0 2.6,0a1.3,1.3 0 1,0 -2.6,0M216.7,267.0a2.4,2.4 0 1,0 4.7,0a2.4,2.4 0 1,0 -4.7,0M207.8,281.3a1.8,1.8 0 1,0 3.6,0a1.8,1.8 0 1,0 -3.6,0M175.3,235.8a1.8,1.8 0 1,0 3.7,0a1.8,1.8 0 1,0 -3.7,0M176.3,294.7a1.5,1.5 0 1,0 3.0,0a1.5,1.5 0 1,0 -3.0,0M174.6,259.1a2.0,2.0 0 1,0 4.0,0a2.0,2.0 0 1,0 -4.0,0M157.3,242.2a2.3,2.3 0 1,0 4.5,0a2.3,2.3 0 1,0 -4.5,0M183.3,243.3a1.5,1.5 0 1,0 3.1,0a1.5,1.5 0 1,0 -3.1,0M207.0,260.8a2.6,2.6 0 1,0 5.3,0a2.6,2.6 0 1,0 -5.3,0M178.9,284.3a1.4,1.4 0 1,0 2.8,0a1.4,1.4 0 1,0 -2.8,0M194.9,274.9a1.7,1.7 0 1,0 3.3,0a1.7,1.7 0 1,0 -3.3,0M190.2,227.9a2.7,2.7 0 1,0 5.5,0a2.7,2.7 0 1,0 -5.5,0M190.8,235.7a2.2,2.2 0 1,0 4.4,0a2.2,2.2 0 1,0 -4.4,0M164.7,249.8a1.5,1.5 0 1,0 2.9,0a1.5,1.5 0 1,0 -2.9,0M179.9,250.1a1.7,1.7 0 1,0 3.4,0a1.7,1.7 0 1,0 -3.4,0M151.1,259.6a2.1,2.1 0 1,0 4.2,0a2.1,2.1 0 1,0 -4.2,0M173.1,264.3a1.7,1.7 0 1,0 3.4,0a1.7,1.7 0 1,0 -3.4,0" fill="#fff"/>
<path d="M232,363.4 L241,368.3 L243.6,363.3" fill="none" stroke="#000" stroke-width="1.4"/>
<g stroke="#000" stroke-width="1.3">
<line x1="200.5" y1="60.5" x2="282.3" y2="50.4"/>
<line x1="195.4" y1="71.5" x2="307.6" y2="67.8"/>
<line x1="241.5" y1="112.2" x2="339" y2="112.4"/>
<line x1="243" y1="150.4" x2="355.8" y2="151"/>
<line x1="294" y1="186.4" x2="367.8" y2="187.4"/>
<line x1="267.2" y1="207.2" x2="372" y2="238"/>
<line x1="309.5" y1="270" x2="365.1" y2="286"/>
<line x1="219.6" y1="283.4" x2="355" y2="326.2"/>
<line x1="249" y1="326.2" x2="346.7" y2="354.7"/>
<line x1="255.3" y1="347.1" x2="331.1" y2="380.4"/>
<line x1="247.5" y1="369.6" x2="307.1" y2="400.6"/>
<line x1="240.2" y1="385.5" x2="326" y2="429.7"/>
<line x1="232.6" y1="403.2" x2="328.6" y2="452.4"/>
</g>
<g font-family="Liberation Sans" font-size="17.2" fill="#111" stroke="#111" stroke-width="0.25">
<text transform="translate(291.42,49.00) scale(0.8588,1)">MICROPYLE CAP</text>
<text transform="translate(318.61,72.10) scale(0.8645,1)">MICROPYLE</text>
<text transform="translate(350.21,112.90) scale(0.8638,1)">POLAR GRANULE</text>
<text transform="translate(367.37,155.30) scale(0.8452,1)">STIEDA BODY</text>
<text transform="translate(376.26,187.90) scale(0.8604,1)">SMALL REFRACTILE GLOBULE</text>
<text transform="translate(427.26,206.80) scale(0.8653,1)">IN SPOROZOITE</text>
<text transform="translate(380.72,239.90) scale(0.8565,1)">LARGE REFRACTILE GLOBULE</text>
<text transform="translate(432.97,258.90) scale(0.8608,1)">IN SPOROZOITE</text>
<text transform="translate(374.17,291.10) scale(0.8520,1)">SPOROCYST</text>
<text transform="translate(363.15,330.00) scale(0.8691,1)">OOCYST RESIDUUM</text>
<text transform="translate(356.66,359.00) scale(0.8632,1)">SPOROCYST RESIDUUM</text>
<text transform="translate(337.36,385.60) scale(0.8630,1)">SPOROZOITE NUCLEUS</text>
<text transform="translate(314.46,408.10) scale(0.8649,1)">SPOROZOITE</text>
<text transform="translate(337.48,435.30) scale(0.8538,1)">INNER LAYER OF OOCYST WALL</text>
<text transform="translate(337.17,457.40) scale(0.8523,1)">OUTER LAYER OF OOCYST WALL</text>
</g>
</svg></body></html>
